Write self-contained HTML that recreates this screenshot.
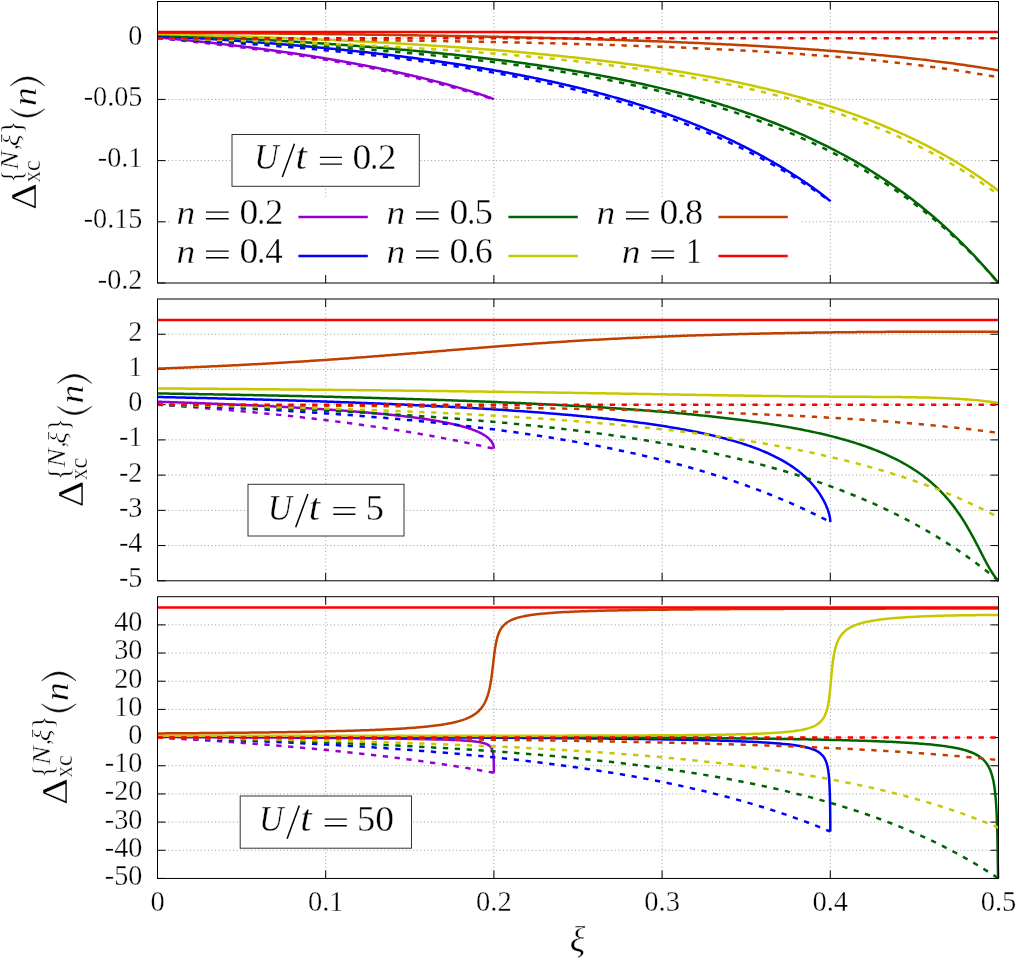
<!DOCTYPE html>
<html><head><meta charset="utf-8"><title>chart</title>
<style>html,body{margin:0;padding:0;background:#fff}svg{display:block;will-change:transform}
text{font-family:"Liberation Serif",serif;fill:#000;stroke:#fff;stroke-width:0.35px}
.it{font-style:italic}
</style></head><body>
<svg width="1016" height="959" viewBox="0 0 1016 959">
<rect width="1016" height="959" fill="#fff"/>
<g>
<path d="M325.70,1.50 V283.00 M493.90,1.50 V283.00 M662.10,1.50 V283.00 M830.30,1.50 V283.00 M157.50,38.22 H998.50 M157.50,99.41 H998.50 M157.50,160.61 H998.50 M157.50,221.80 H998.50" stroke="#9a9a9a" stroke-width="1" stroke-dasharray="1,2.6" fill="none"/>
<rect x="170" y="198" width="632" height="81" fill="#fff"/>
<path d="M325.70,283.00 v-8 M325.70,1.50 v8 M493.90,283.00 v-8 M493.90,1.50 v8 M662.10,283.00 v-8 M662.10,1.50 v8 M830.30,283.00 v-8 M830.30,1.50 v8 M157.50,38.22 h8 M998.50,38.22 h-8 M157.50,99.41 h8 M998.50,99.41 h-8 M157.50,160.61 h8 M998.50,160.61 h-8 M157.50,221.80 h8 M998.50,221.80 h-8 M157.50,283.00 h8 M998.50,283.00 h-8" stroke="#000" stroke-width="1" fill="none"/>
<clipPath id="c0"><rect x="156.00" y="0.50" width="844.00" height="284.00"/></clipPath>
<g clip-path="url(#c0)" fill="none" stroke-width="2.5" stroke-linejoin="round">
<path d="M157.50,37.39 L158.34,37.47 L159.19,37.55 L160.03,37.63 L160.87,37.71 L161.72,37.78 L162.56,37.86 L163.40,37.94 L164.24,38.02 L165.09,38.10 L165.93,38.18 L166.77,38.26 L167.62,38.34 L168.46,38.42 L169.30,38.50 L170.15,38.58 L170.99,38.66 L171.83,38.75 L172.68,38.83 L173.52,38.91 L174.36,38.99 L175.21,39.07 L176.05,39.16 L176.89,39.24 L177.73,39.32 L178.58,39.41 L179.42,39.49 L180.26,39.57 L181.11,39.66 L181.95,39.74 L182.79,39.83 L183.64,39.91 L184.48,40.00 L185.32,40.08 L186.17,40.17 L187.01,40.25 L187.85,40.34 L188.69,40.42 L189.54,40.51 L190.38,40.60 L191.22,40.68 L192.07,40.77 L192.91,40.86 L193.75,40.95 L194.60,41.03 L195.44,41.12 L196.28,41.21 L197.13,41.30 L197.97,41.39 L198.81,41.48 L199.66,41.57 L200.50,41.66 L201.34,41.75 L202.18,41.84 L203.03,41.93 L203.87,42.02 L204.71,42.11 L205.56,42.20 L206.40,42.29 L207.24,42.39 L208.09,42.48 L208.93,42.57 L209.77,42.66 L210.62,42.76 L211.46,42.85 L212.30,42.94 L213.15,43.04 L213.99,43.13 L214.83,43.23 L215.67,43.32 L216.52,43.42 L217.36,43.51 L218.20,43.61 L219.05,43.70 L219.89,43.80 L220.73,43.89 L221.58,43.99 L222.42,44.09 L223.26,44.18 L224.11,44.28 L224.95,44.38 L225.79,44.48 L226.63,44.58 L227.48,44.68 L228.32,44.77 L229.16,44.87 L230.01,44.97 L230.85,45.07 L231.69,45.17 L232.54,45.27 L233.38,45.37 L234.22,45.47 L235.07,45.58 L235.91,45.68 L236.75,45.78 L237.60,45.88 L238.44,45.98 L239.28,46.09 L240.12,46.19 L240.97,46.29 L241.81,46.40 L242.65,46.50 L243.50,46.61 L244.34,46.71 L245.18,46.82 L246.03,46.92 L246.87,47.03 L247.71,47.13 L248.56,47.24 L249.40,47.34 L250.24,47.45 L251.08,47.56 L251.93,47.67 L252.77,47.77 L253.61,47.88 L254.46,47.99 L255.30,48.10 L256.14,48.21 L256.99,48.32 L257.83,48.43 L258.67,48.54 L259.52,48.65 L260.36,48.76 L261.20,48.87 L262.05,48.98 L262.89,49.09 L263.73,49.21 L264.57,49.32 L265.42,49.43 L266.26,49.54 L267.10,49.66 L267.95,49.77 L268.79,49.89 L269.63,50.00 L270.48,50.11 L271.32,50.23 L272.16,50.35 L273.01,50.46 L273.85,50.58 L274.69,50.69 L275.54,50.81 L276.38,50.93 L277.22,51.05 L278.06,51.16 L278.91,51.28 L279.75,51.40 L280.59,51.52 L281.44,51.64 L282.28,51.76 L283.12,51.88 L283.97,52.00 L284.81,52.12 L285.65,52.24 L286.50,52.36 L287.34,52.49 L288.18,52.61 L289.02,52.73 L289.87,52.85 L290.71,52.98 L291.55,53.10 L292.40,53.23 L293.24,53.35 L294.08,53.48 L294.93,53.60 L295.77,53.73 L296.61,53.85 L297.46,53.98 L298.30,54.11 L299.14,54.23 L299.99,54.36 L300.83,54.49 L301.67,54.62 L302.51,54.75 L303.36,54.88 L304.20,55.01 L305.04,55.14 L305.89,55.27 L306.73,55.40 L307.57,55.53 L308.42,55.66 L309.26,55.79 L310.10,55.93 L310.95,56.06 L311.79,56.19 L312.63,56.33 L313.47,56.46 L314.32,56.60 L315.16,56.73 L316.00,56.87 L316.85,57.00 L317.69,57.14 L318.53,57.28 L319.38,57.41 L320.22,57.55 L321.06,57.69 L321.91,57.83 L322.75,57.97 L323.59,58.10 L324.44,58.24 L325.28,58.39 L326.12,58.53 L326.96,58.67 L327.81,58.81 L328.65,58.95 L329.49,59.09 L330.34,59.24 L331.18,59.38 L332.02,59.52 L332.87,59.67 L333.71,59.81 L334.55,59.96 L335.40,60.10 L336.24,60.25 L337.08,60.40 L337.93,60.54 L338.77,60.69 L339.61,60.84 L340.45,60.99 L341.30,61.14 L342.14,61.29 L342.98,61.44 L343.83,61.59 L344.67,61.74 L345.51,61.89 L346.36,62.04 L347.20,62.19 L348.04,62.35 L348.89,62.50 L349.73,62.65 L350.57,62.81 L351.41,62.96 L352.26,63.12 L353.10,63.27 L353.94,63.43 L354.79,63.59 L355.63,63.74 L356.47,63.90 L357.32,64.06 L358.16,64.22 L359.00,64.38 L359.85,64.54 L360.69,64.70 L361.53,64.86 L362.38,65.02 L363.22,65.18 L364.06,65.34 L364.90,65.51 L365.75,65.67 L366.59,65.84 L367.43,66.00 L368.28,66.17 L369.12,66.33 L369.96,66.50 L370.81,66.66 L371.65,66.83 L372.49,67.00 L373.34,67.17 L374.18,67.34 L375.02,67.51 L375.86,67.68 L376.71,67.85 L377.55,68.02 L378.39,68.19 L379.24,68.36 L380.08,68.54 L380.92,68.71 L381.77,68.88 L382.61,69.06 L383.45,69.23 L384.30,69.41 L385.14,69.59 L385.98,69.76 L386.83,69.94 L387.67,70.12 L388.51,70.30 L389.35,70.48 L390.20,70.66 L391.04,70.84 L391.88,71.02 L392.73,71.20 L393.57,71.38 L394.41,71.57 L395.26,71.75 L396.10,71.94 L396.94,72.12 L397.79,72.31 L398.63,72.49 L399.47,72.68 L400.32,72.87 L401.16,73.06 L402.00,73.25 L402.84,73.43 L403.69,73.63 L404.53,73.82 L405.37,74.01 L406.22,74.20 L407.06,74.39 L407.90,74.59 L408.75,74.78 L409.59,74.98 L410.43,75.17 L411.28,75.37 L412.12,75.56 L412.96,75.76 L413.80,75.96 L414.65,76.16 L415.49,76.36 L416.33,76.56 L417.18,76.76 L418.02,76.96 L418.86,77.17 L419.71,77.37 L420.39,77.54 L421.39,77.78 L422.24,77.98 L423.08,78.19 L423.92,78.40 L424.77,78.61 L425.61,78.81 L426.45,79.02 L427.29,79.23 L428.14,79.44 L428.98,79.66 L429.80,79.86 L430.67,80.08 L431.51,80.30 L432.35,80.51 L433.20,80.73 L434.04,80.94 L434.88,81.16 L435.73,81.38 L436.57,81.60 L437.41,81.82 L438.01,81.97 L439.10,82.26 L439.94,82.48 L440.78,82.70 L441.63,82.93 L442.47,83.15 L443.31,83.38 L444.16,83.60 L445.00,83.83 L445.84,84.06 L446.69,84.29 L447.53,84.52 L448.37,84.75 L449.22,84.98 L450.06,85.22 L450.90,85.45 L451.40,85.59 L452.59,85.92 L453.43,86.16 L454.27,86.39 L455.12,86.63 L455.96,86.87 L456.80,87.11 L457.65,87.36 L458.49,87.60 L459.33,87.84 L460.18,88.09 L461.02,88.33 L461.59,88.50 L462.71,88.83 L463.55,89.08 L464.39,89.33 L465.23,89.58 L465.72,89.73 L466.92,90.09 L467.76,90.34 L468.61,90.60 L469.33,90.82 L470.29,91.11 L471.14,91.37 L471.98,91.64 L472.48,91.79 L473.67,92.16 L474.51,92.43 L475.22,92.65 L476.19,92.96 L477.04,93.23 L477.61,93.42 L478.72,93.78 L479.57,94.06 L480.41,94.33 L481.25,94.61 L482.10,94.89 L482.94,95.18 L483.78,95.46 L484.48,95.70 L485.47,96.04 L486.31,96.34 L487.16,96.63 L487.66,96.81 L488.46,97.10 L489.15,97.36 L489.68,97.55 L490.29,97.78 L490.75,97.96 L491.37,98.20 L491.81,98.37 L492.31,98.58 L492.85,98.81 L493.29,99.01 L493.70,99.23 L493.90,99.41" stroke="#9400D3"/>
<path d="M157.50,38.22 L160.33,38.48 L163.15,38.75 L165.98,39.02 L168.81,39.29 L171.63,39.57 L174.46,39.85 L177.29,40.13 L180.12,40.41 L182.94,40.70 L185.77,40.99 L188.60,41.28 L191.42,41.58 L194.25,41.87 L197.08,42.18 L199.90,42.48 L202.73,42.79 L205.56,43.10 L208.38,43.41 L211.21,43.73 L214.04,44.05 L216.86,44.38 L219.69,44.70 L222.52,45.03 L225.35,45.37 L228.17,45.70 L231.00,46.05 L233.83,46.39 L236.65,46.74 L239.48,47.09 L242.31,47.44 L245.13,47.80 L247.96,48.16 L250.79,48.53 L253.61,48.90 L256.44,49.27 L259.27,49.65 L262.09,50.03 L264.92,50.41 L267.75,50.80 L270.58,51.19 L273.40,51.59 L276.23,51.99 L279.06,52.40 L281.88,52.81 L284.71,53.22 L287.54,53.64 L290.36,54.06 L293.19,54.48 L296.02,54.91 L298.84,55.35 L301.67,55.79 L304.50,56.23 L307.33,56.68 L310.15,57.13 L312.98,57.59 L315.81,58.05 L318.63,58.52 L321.46,58.99 L324.29,59.47 L327.11,59.95 L329.94,60.44 L332.77,60.93 L335.59,61.42 L338.42,61.93 L341.25,62.43 L344.07,62.94 L346.90,63.46 L349.73,63.98 L352.56,64.51 L355.38,65.05 L358.21,65.59 L361.04,66.13 L363.86,66.68 L366.69,67.24 L369.52,67.80 L372.34,68.37 L375.17,68.94 L378.00,69.52 L380.82,70.11 L383.65,70.70 L386.48,71.30 L389.31,71.90 L392.13,72.51 L394.96,73.13 L397.79,73.76 L400.61,74.39 L403.44,75.02 L406.27,75.67 L409.09,76.32 L411.92,76.98 L414.75,77.64 L417.57,78.31 L420.40,78.99 L423.23,79.68 L426.05,80.37 L428.88,81.07 L431.71,81.78 L434.54,82.49 L437.36,83.21 L440.19,83.95 L443.02,84.68 L445.84,85.43 L448.67,86.18 L451.50,86.95 L454.32,87.72 L457.15,88.49 L459.98,89.28 L462.80,90.08 L465.63,90.88 L468.46,91.69 L471.28,92.52 L474.11,93.35 L476.94,94.18 L479.77,95.03 L482.59,95.89 L485.42,96.76 L488.25,97.63 L491.07,98.52 L493.90,99.41" stroke="#9400D3" stroke-dasharray="5.3,6.6"/>
<path d="M157.50,35.82 L159.19,35.92 L160.87,36.01 L162.56,36.10 L164.24,36.20 L165.93,36.29 L167.62,36.39 L169.30,36.48 L170.99,36.58 L172.68,36.67 L174.36,36.77 L176.05,36.87 L177.73,36.97 L179.42,37.07 L181.11,37.17 L182.79,37.27 L184.48,37.37 L186.17,37.47 L187.85,37.57 L189.54,37.67 L191.22,37.77 L192.91,37.88 L194.60,37.98 L196.28,38.08 L197.97,38.19 L199.66,38.30 L201.34,38.40 L203.03,38.51 L204.71,38.62 L206.40,38.72 L208.09,38.83 L209.77,38.94 L211.46,39.05 L213.15,39.16 L214.83,39.27 L216.52,39.38 L218.20,39.50 L219.89,39.61 L221.58,39.72 L223.26,39.84 L224.95,39.95 L226.63,40.07 L228.32,40.18 L230.01,40.30 L231.69,40.42 L233.38,40.54 L235.07,40.66 L236.75,40.77 L238.44,40.89 L240.12,41.02 L241.81,41.14 L243.50,41.26 L245.18,41.38 L246.87,41.51 L248.56,41.63 L250.24,41.75 L251.93,41.88 L253.61,42.01 L255.30,42.13 L256.99,42.26 L258.67,42.39 L260.36,42.52 L262.05,42.65 L263.73,42.78 L265.42,42.91 L267.10,43.04 L268.79,43.18 L270.48,43.31 L272.16,43.45 L273.85,43.58 L275.54,43.72 L277.22,43.85 L278.91,43.99 L280.59,44.13 L282.28,44.27 L283.97,44.41 L285.65,44.55 L287.34,44.69 L289.02,44.83 L290.71,44.98 L292.40,45.12 L294.08,45.27 L295.77,45.41 L297.46,45.56 L299.14,45.71 L300.83,45.85 L302.51,46.00 L304.20,46.15 L305.89,46.30 L307.57,46.46 L309.26,46.61 L310.95,46.76 L312.63,46.92 L314.32,47.07 L316.00,47.23 L317.69,47.38 L319.38,47.54 L321.06,47.70 L322.75,47.86 L324.44,48.02 L326.12,48.18 L327.81,48.35 L329.49,48.51 L331.18,48.67 L332.87,48.84 L334.55,49.01 L336.24,49.17 L337.93,49.34 L339.61,49.51 L341.30,49.68 L342.98,49.85 L344.67,50.03 L346.36,50.20 L348.04,50.37 L349.73,50.55 L351.41,50.73 L353.10,50.90 L354.79,51.08 L356.47,51.26 L358.16,51.44 L359.85,51.62 L361.53,51.81 L363.22,51.99 L364.90,52.18 L366.59,52.36 L368.28,52.55 L369.96,52.74 L371.65,52.93 L373.34,53.12 L375.02,53.31 L376.71,53.50 L378.39,53.70 L380.08,53.89 L381.77,54.09 L383.45,54.29 L385.14,54.48 L386.83,54.68 L388.51,54.89 L390.20,55.09 L391.88,55.29 L393.57,55.50 L395.26,55.70 L396.94,55.91 L398.63,56.12 L400.32,56.33 L402.00,56.54 L403.69,56.75 L405.37,56.97 L407.06,57.18 L408.75,57.40 L410.43,57.61 L412.12,57.83 L413.80,58.05 L415.49,58.27 L417.18,58.50 L418.86,58.72 L420.55,58.95 L422.24,59.17 L423.92,59.40 L425.61,59.63 L427.29,59.86 L428.98,60.10 L430.67,60.33 L432.35,60.57 L434.04,60.80 L435.73,61.04 L437.41,61.28 L439.10,61.52 L440.78,61.77 L442.47,62.01 L444.16,62.26 L445.84,62.50 L447.53,62.75 L449.22,63.00 L450.90,63.25 L452.59,63.51 L454.27,63.76 L455.96,64.02 L457.65,64.28 L459.33,64.54 L461.02,64.80 L462.71,65.06 L464.39,65.33 L466.08,65.59 L467.76,65.86 L469.45,66.13 L471.14,66.40 L472.82,66.68 L474.51,66.95 L476.19,67.23 L477.88,67.51 L479.57,67.79 L481.25,68.07 L482.94,68.35 L484.63,68.64 L486.31,68.93 L488.00,69.22 L489.68,69.51 L491.37,69.80 L493.06,70.09 L494.74,70.39 L496.43,70.69 L498.12,70.99 L499.80,71.29 L501.49,71.60 L503.17,71.90 L504.86,72.21 L506.55,72.52 L508.23,72.84 L509.92,73.15 L511.61,73.47 L513.29,73.78 L514.98,74.11 L516.66,74.43 L518.35,74.75 L520.04,75.08 L521.72,75.41 L523.41,75.74 L525.09,76.07 L526.78,76.41 L528.47,76.75 L530.15,77.09 L531.84,77.43 L533.53,77.77 L535.21,78.12 L536.90,78.47 L538.58,78.82 L540.27,79.17 L541.96,79.53 L543.64,79.89 L545.33,80.25 L547.02,80.61 L548.70,80.97 L550.39,81.34 L552.07,81.71 L553.76,82.09 L555.45,82.46 L557.13,82.84 L558.82,83.22 L560.51,83.60 L562.19,83.99 L563.88,84.37 L565.56,84.76 L567.25,85.16 L568.94,85.55 L570.62,85.95 L572.31,86.35 L574.00,86.76 L575.68,87.16 L577.37,87.57 L579.05,87.99 L580.74,88.40 L582.43,88.82 L584.11,89.24 L585.80,89.66 L587.48,90.09 L589.17,90.52 L590.86,90.95 L592.54,91.39 L594.23,91.82 L595.92,92.27 L597.60,92.71 L599.29,93.16 L600.97,93.61 L602.66,94.06 L604.35,94.52 L606.03,94.98 L607.72,95.44 L609.41,95.91 L611.09,96.38 L612.78,96.85 L614.46,97.33 L616.15,97.81 L617.84,98.29 L619.52,98.78 L621.21,99.27 L622.90,99.76 L624.58,100.26 L626.27,100.76 L627.95,101.26 L629.64,101.77 L631.33,102.28 L633.01,102.79 L634.70,103.31 L636.39,103.83 L638.07,104.36 L639.76,104.89 L641.44,105.42 L643.13,105.96 L644.82,106.50 L646.50,107.05 L648.19,107.59 L649.87,108.15 L651.56,108.70 L653.25,109.27 L654.93,109.83 L656.62,110.40 L658.31,110.97 L659.99,111.55 L661.68,112.13 L663.36,112.72 L665.05,113.31 L666.74,113.90 L668.42,114.50 L670.11,115.10 L671.80,115.71 L673.48,116.32 L675.17,116.94 L676.85,117.56 L678.54,118.19 L680.23,118.82 L681.91,119.45 L683.60,120.09 L685.29,120.74 L686.97,121.39 L688.66,122.04 L690.34,122.70 L692.03,123.37 L693.72,124.04 L695.40,124.71 L697.09,125.39 L698.78,126.08 L700.46,126.77 L702.15,127.46 L703.83,128.16 L705.52,128.87 L707.21,129.58 L708.89,130.30 L710.58,131.02 L712.26,131.75 L713.95,132.48 L715.64,133.22 L717.32,133.96 L719.01,134.71 L720.70,135.47 L722.38,136.23 L724.07,137.00 L725.75,137.78 L727.44,138.56 L729.13,139.34 L730.81,140.13 L732.50,140.93 L734.19,141.74 L735.87,142.55 L737.56,143.37 L739.24,144.19 L740.93,145.02 L742.62,145.86 L744.30,146.70 L745.99,147.56 L747.68,148.41 L749.36,149.28 L751.05,150.15 L752.73,151.03 L754.42,151.91 L756.11,152.81 L756.79,153.17 L757.79,153.71 L759.48,154.61 L761.17,155.53 L762.85,156.45 L764.54,157.38 L766.20,158.31 L767.91,159.26 L769.60,160.22 L771.28,161.18 L772.97,162.15 L774.41,162.98 L776.34,164.11 L778.03,165.10 L779.71,166.11 L781.40,167.12 L783.09,168.14 L784.77,169.16 L786.46,170.20 L787.80,171.03 L789.83,172.30 L791.52,173.36 L793.20,174.44 L794.89,175.52 L796.58,176.61 L797.99,177.54 L799.95,178.83 L801.63,179.95 L802.12,180.28 L803.32,181.08 L805.01,182.23 L805.73,182.72 L806.69,183.38 L808.38,184.55 L808.88,184.89 L810.07,185.72 L811.62,186.82 L813.44,188.11 L814.01,188.52 L815.12,189.33 L816.10,190.03 L816.81,190.55 L817.91,191.37 L818.50,191.80 L819.50,192.54 L820.18,193.06 L820.88,193.58 L821.87,194.33 L823.14,195.31 L823.56,195.63 L824.06,196.02 L824.86,196.64 L825.24,196.95 L826.16,197.68 L826.69,198.11 L827.15,198.49 L827.56,198.82 L827.91,199.11 L828.48,199.60 L828.92,199.97 L829.25,200.27 L829.60,200.60 L829.95,200.93 L830.23,201.26 L830.30,201.41" stroke="#0000FF"/>
<path d="M157.50,38.22 L163.15,38.52 L168.81,38.82 L174.46,39.13 L180.12,39.45 L185.77,39.78 L191.42,40.11 L197.08,40.44 L202.73,40.79 L208.38,41.14 L214.04,41.50 L219.69,41.87 L225.35,42.24 L231.00,42.62 L236.65,43.01 L242.31,43.41 L247.96,43.81 L253.61,44.23 L259.27,44.65 L264.92,45.08 L270.58,45.52 L276.23,45.97 L281.88,46.42 L287.54,46.89 L293.19,47.37 L298.84,47.85 L304.50,48.35 L310.15,48.86 L315.81,49.37 L321.46,49.90 L327.11,50.44 L332.77,50.99 L338.42,51.55 L344.07,52.13 L349.73,52.71 L355.38,53.31 L361.04,53.92 L366.69,54.54 L372.34,55.18 L378.00,55.83 L383.65,56.49 L389.31,57.17 L394.96,57.86 L400.61,58.56 L406.27,59.28 L411.92,60.02 L417.57,60.77 L423.23,61.54 L428.88,62.32 L434.54,63.12 L440.19,63.94 L445.84,64.77 L451.50,65.63 L457.15,66.50 L462.80,67.39 L468.46,68.30 L474.11,69.23 L479.77,70.18 L485.42,71.15 L491.07,72.14 L496.73,73.15 L502.38,74.18 L508.03,75.24 L513.69,76.32 L519.34,77.43 L525.00,78.55 L530.65,79.71 L536.30,80.89 L541.96,82.09 L547.61,83.32 L553.26,84.58 L558.92,85.87 L564.57,87.19 L570.23,88.54 L575.88,89.91 L581.53,91.32 L587.19,92.76 L592.84,94.23 L598.49,95.74 L604.15,97.28 L609.80,98.86 L615.46,100.47 L621.11,102.12 L626.76,103.81 L632.42,105.54 L638.07,107.30 L643.73,109.11 L649.38,110.97 L655.03,112.86 L660.69,114.80 L666.34,116.79 L671.99,118.82 L677.65,120.90 L683.30,123.03 L688.96,125.21 L694.61,127.45 L700.26,129.73 L705.92,132.08 L711.57,134.48 L717.22,136.94 L722.88,139.46 L728.53,142.04 L734.19,144.68 L739.84,147.40 L745.49,150.17 L751.15,153.02 L756.80,155.94 L762.45,158.93 L768.11,162.00 L773.76,165.14 L779.42,168.37 L785.07,171.68 L790.72,175.07 L796.38,178.55 L802.03,182.12 L807.68,185.78 L813.34,189.53 L818.99,193.39 L824.65,197.35 L830.30,201.41" stroke="#0000FF" stroke-dasharray="5.3,6.6"/>
<path d="M157.50,34.93 L159.61,35.01 L161.72,35.09 L163.82,35.18 L165.93,35.26 L168.04,35.34 L170.15,35.43 L172.25,35.52 L174.36,35.60 L176.47,35.69 L178.58,35.78 L180.69,35.87 L182.79,35.96 L184.90,36.05 L187.01,36.14 L189.12,36.23 L191.22,36.32 L193.33,36.41 L195.44,36.50 L197.55,36.60 L199.66,36.69 L201.76,36.79 L203.87,36.88 L205.98,36.98 L208.09,37.08 L210.19,37.17 L212.30,37.27 L214.41,37.37 L216.52,37.47 L218.63,37.57 L220.73,37.67 L222.84,37.77 L224.95,37.87 L227.06,37.98 L229.16,38.08 L231.27,38.19 L233.38,38.29 L235.49,38.40 L237.60,38.50 L239.70,38.61 L241.81,38.72 L243.92,38.83 L246.03,38.94 L248.13,39.05 L250.24,39.16 L252.35,39.27 L254.46,39.39 L256.57,39.50 L258.67,39.61 L260.78,39.73 L262.89,39.84 L265.00,39.96 L267.10,40.08 L269.21,40.20 L271.32,40.32 L273.43,40.44 L275.54,40.56 L277.64,40.68 L279.75,40.80 L281.86,40.93 L283.97,41.05 L286.07,41.18 L288.18,41.30 L290.29,41.43 L292.40,41.56 L294.51,41.69 L296.61,41.82 L298.72,41.95 L300.83,42.08 L302.94,42.21 L305.04,42.35 L307.15,42.48 L309.26,42.62 L311.37,42.75 L313.47,42.89 L315.58,43.03 L317.69,43.17 L319.80,43.31 L321.91,43.45 L324.01,43.59 L326.12,43.74 L328.23,43.88 L330.34,44.03 L332.44,44.17 L334.55,44.32 L336.66,44.47 L338.77,44.62 L340.88,44.77 L342.98,44.92 L345.09,45.08 L347.20,45.23 L349.31,45.39 L351.41,45.54 L353.52,45.70 L355.63,45.86 L357.74,46.02 L359.85,46.18 L361.95,46.34 L364.06,46.51 L366.17,46.67 L368.28,46.84 L370.38,47.00 L372.49,47.17 L374.60,47.34 L376.71,47.51 L378.82,47.69 L380.92,47.86 L383.03,48.03 L385.14,48.21 L387.25,48.39 L389.35,48.57 L391.46,48.74 L393.57,48.93 L395.68,49.11 L397.79,49.29 L399.89,49.48 L402.00,49.66 L404.11,49.85 L406.22,50.04 L408.32,50.23 L410.43,50.42 L412.54,50.62 L414.65,50.81 L416.76,51.01 L418.86,51.21 L420.97,51.41 L423.08,51.61 L425.19,51.81 L427.29,52.02 L429.40,52.22 L431.51,52.43 L433.62,52.64 L435.73,52.85 L437.83,53.06 L439.94,53.27 L442.05,53.49 L444.16,53.70 L446.26,53.92 L448.37,54.14 L450.48,54.36 L452.59,54.59 L454.70,54.81 L456.80,55.04 L458.91,55.27 L461.02,55.50 L463.13,55.73 L465.23,55.96 L467.34,56.20 L469.45,56.44 L471.56,56.68 L473.67,56.92 L475.77,57.16 L477.88,57.41 L479.99,57.65 L482.10,57.90 L484.20,58.15 L486.31,58.40 L488.42,58.66 L490.53,58.91 L492.64,59.17 L494.74,59.43 L496.85,59.70 L498.96,59.96 L501.07,60.23 L503.17,60.50 L505.28,60.77 L507.39,61.04 L509.50,61.32 L511.61,61.59 L513.71,61.87 L515.82,62.15 L517.93,62.44 L520.04,62.72 L522.14,63.01 L524.25,63.30 L526.36,63.60 L528.47,63.89 L530.58,64.19 L532.68,64.49 L534.79,64.79 L536.90,65.10 L539.01,65.40 L541.11,65.71 L543.22,66.03 L545.33,66.34 L547.44,66.66 L549.55,66.98 L551.65,67.30 L553.76,67.63 L555.87,67.95 L557.98,68.28 L560.08,68.62 L562.19,68.95 L564.30,69.29 L566.41,69.63 L568.52,69.98 L570.62,70.32 L572.73,70.67 L574.84,71.03 L576.95,71.38 L579.05,71.74 L581.16,72.10 L583.27,72.47 L585.38,72.83 L587.48,73.21 L589.59,73.58 L591.70,73.96 L593.81,74.34 L595.92,74.72 L598.02,75.10 L600.13,75.49 L602.24,75.89 L604.35,76.28 L606.45,76.68 L608.56,77.09 L610.67,77.49 L612.78,77.90 L614.89,78.31 L616.99,78.73 L619.10,79.15 L621.21,79.57 L623.32,80.00 L625.42,80.43 L627.53,80.87 L629.64,81.31 L631.75,81.75 L633.86,82.19 L635.96,82.64 L638.07,83.10 L640.18,83.55 L642.29,84.02 L644.39,84.48 L646.50,84.95 L648.61,85.42 L650.72,85.90 L652.83,86.38 L654.93,86.87 L657.04,87.36 L659.15,87.85 L661.26,88.35 L663.36,88.86 L665.47,89.37 L667.58,89.88 L669.69,90.39 L671.80,90.92 L673.90,91.44 L676.01,91.97 L678.12,92.51 L680.23,93.05 L682.33,93.59 L684.44,94.14 L686.55,94.70 L688.66,95.26 L690.77,95.82 L692.87,96.39 L694.98,96.97 L697.09,97.55 L699.20,98.13 L701.30,98.73 L703.41,99.32 L705.52,99.92 L707.63,100.53 L709.74,101.14 L711.84,101.76 L713.95,102.39 L716.06,103.02 L718.17,103.65 L720.27,104.30 L722.38,104.94 L724.49,105.60 L726.60,106.26 L728.71,106.92 L730.81,107.59 L732.92,108.27 L735.03,108.96 L737.14,109.65 L739.24,110.35 L741.35,111.05 L743.46,111.76 L745.57,112.48 L747.68,113.20 L749.78,113.94 L751.89,114.68 L754.00,115.42 L756.11,116.17 L758.21,116.93 L760.32,117.70 L762.43,118.48 L764.54,119.26 L766.65,120.05 L768.75,120.84 L770.86,121.65 L772.97,122.46 L775.08,123.28 L777.18,124.11 L779.29,124.95 L781.40,125.79 L783.51,126.65 L785.62,127.51 L787.72,128.38 L789.83,129.26 L791.94,130.15 L794.05,131.04 L796.15,131.95 L798.26,132.86 L800.37,133.79 L802.48,134.72 L804.59,135.66 L806.69,136.62 L808.80,137.58 L810.91,138.55 L813.02,139.53 L815.12,140.52 L817.23,141.52 L819.34,142.53 L821.45,143.56 L823.56,144.59 L825.66,145.63 L827.77,146.68 L829.88,147.75 L831.99,148.82 L834.09,149.91 L836.20,151.01 L838.31,152.12 L840.42,153.24 L842.53,154.37 L844.63,155.51 L846.74,156.67 L848.85,157.84 L850.96,159.02 L853.06,160.21 L855.17,161.42 L857.28,162.64 L859.39,163.87 L861.49,165.11 L863.60,166.37 L865.71,167.64 L867.82,168.93 L869.93,170.22 L872.03,171.54 L874.14,172.86 L876.25,174.20 L878.36,175.56 L880.46,176.93 L882.57,178.31 L884.68,179.71 L886.79,181.13 L888.90,182.56 L891.00,184.00 L893.11,185.46 L895.22,186.94 L897.33,188.44 L899.43,189.94 L901.54,191.47 L903.65,193.01 L905.76,194.57 L907.87,196.15 L909.97,197.75 L912.08,199.36 L914.19,200.99 L916.30,202.64 L918.40,204.30 L920.51,205.99 L922.62,207.69 L924.73,209.41 L926.84,211.16 L928.94,212.92 L931.05,214.70 L933.16,216.50 L934.40,217.57 L935.27,218.32 L937.37,220.16 L939.48,222.02 L941.59,223.90 L942.61,224.81 L943.70,225.80 L945.81,227.72 L947.91,229.67 L949.76,231.39 L952.13,233.62 L954.24,235.63 L956.00,237.33 L956.34,237.66 L958.45,239.71 L960.56,241.79 L961.44,242.66 L962.67,243.89 L964.78,246.01 L966.19,247.44 L966.88,248.15 L968.99,250.32 L970.32,251.70 L971.10,252.50 L973.21,254.72 L973.93,255.48 L975.31,256.95 L977.08,258.84 L977.42,259.21 L979.53,261.49 L979.82,261.81 L981.64,263.80 L982.21,264.43 L983.75,266.12 L984.30,266.73 L985.85,268.47 L987.70,270.55 L989.08,272.12 L990.07,273.24 L991.34,274.69 L992.18,275.65 L993.06,276.67 L993.75,277.47 L994.28,278.09 L994.89,278.79 L995.35,279.33 L995.76,279.80 L996.11,280.21 L996.39,280.54 L996.68,280.87 L997.12,281.38 L997.45,281.77 L997.80,282.19 L998.10,282.53 L998.38,282.86 L998.50,283.00" stroke="#006400"/>
<path d="M157.50,38.22 L164.57,38.48 L171.63,38.74 L178.70,39.02 L185.77,39.30 L192.84,39.59 L199.90,39.88 L206.97,40.19 L214.04,40.50 L221.11,40.82 L228.17,41.14 L235.24,41.48 L242.31,41.82 L249.37,42.17 L256.44,42.54 L263.51,42.91 L270.58,43.29 L277.64,43.68 L284.71,44.08 L291.78,44.49 L298.84,44.91 L305.91,45.34 L312.98,45.78 L320.05,46.24 L327.11,46.71 L334.18,47.18 L341.25,47.68 L348.32,48.18 L355.38,48.70 L362.45,49.23 L369.52,49.77 L376.58,50.33 L383.65,50.91 L390.72,51.50 L397.79,52.10 L404.85,52.72 L411.92,53.36 L418.99,54.01 L426.05,54.68 L433.12,55.37 L440.19,56.08 L447.26,56.81 L454.32,57.55 L461.39,58.32 L468.46,59.11 L475.53,59.92 L482.59,60.75 L489.66,61.60 L496.73,62.48 L503.79,63.38 L510.86,64.30 L517.93,65.25 L525.00,66.23 L532.06,67.23 L539.13,68.27 L546.20,69.33 L553.26,70.42 L560.33,71.54 L567.40,72.69 L574.47,73.88 L581.53,75.10 L588.60,76.35 L595.67,77.64 L602.74,78.96 L609.80,80.33 L616.87,81.73 L623.94,83.18 L631.00,84.66 L638.07,86.19 L645.14,87.77 L652.21,89.39 L659.27,91.06 L666.34,92.78 L673.41,94.55 L680.47,96.37 L687.54,98.25 L694.61,100.18 L701.68,102.17 L708.74,104.23 L715.81,106.34 L722.88,108.52 L729.95,110.77 L737.01,113.09 L744.08,115.48 L751.15,117.94 L758.21,120.48 L765.28,123.10 L772.35,125.81 L779.42,128.60 L786.48,131.48 L793.55,134.45 L800.62,137.52 L807.68,140.69 L814.75,143.96 L821.82,147.34 L828.89,150.83 L835.95,154.44 L843.02,158.16 L850.09,162.02 L857.16,166.00 L864.22,170.12 L871.29,174.37 L878.36,178.78 L885.42,183.33 L892.49,188.05 L899.56,192.92 L906.63,197.97 L913.69,203.20 L920.76,208.62 L927.83,214.23 L934.89,220.04 L941.96,226.06 L949.03,232.30 L956.10,238.77 L963.16,245.48 L970.23,252.44 L977.30,259.66 L984.37,267.15 L991.43,274.93 L998.50,283.00" stroke="#006400" stroke-dasharray="5.3,6.6"/>
<path d="M157.50,34.05 L159.61,34.10 L161.72,34.16 L163.82,34.21 L165.93,34.27 L168.04,34.32 L170.15,34.38 L172.25,34.43 L174.36,34.49 L176.47,34.55 L178.58,34.61 L180.69,34.67 L182.79,34.72 L184.90,34.78 L187.01,34.84 L189.12,34.90 L191.22,34.96 L193.33,35.02 L195.44,35.08 L197.55,35.15 L199.66,35.21 L201.76,35.27 L203.87,35.33 L205.98,35.40 L208.09,35.46 L210.19,35.52 L212.30,35.59 L214.41,35.65 L216.52,35.72 L218.63,35.78 L220.73,35.85 L222.84,35.92 L224.95,35.98 L227.06,36.05 L229.16,36.12 L231.27,36.19 L233.38,36.26 L235.49,36.33 L237.60,36.40 L239.70,36.47 L241.81,36.54 L243.92,36.61 L246.03,36.68 L248.13,36.76 L250.24,36.83 L252.35,36.90 L254.46,36.98 L256.57,37.05 L258.67,37.13 L260.78,37.20 L262.89,37.28 L265.00,37.35 L267.10,37.43 L269.21,37.51 L271.32,37.59 L273.43,37.67 L275.54,37.75 L277.64,37.83 L279.75,37.91 L281.86,37.99 L283.97,38.07 L286.07,38.15 L288.18,38.23 L290.29,38.32 L292.40,38.40 L294.51,38.49 L296.61,38.57 L298.72,38.66 L300.83,38.74 L302.94,38.83 L305.04,38.92 L307.15,39.01 L309.26,39.10 L311.37,39.19 L313.47,39.28 L315.58,39.37 L317.69,39.46 L319.80,39.55 L321.91,39.64 L324.01,39.74 L326.12,39.83 L328.23,39.93 L330.34,40.02 L332.44,40.12 L334.55,40.21 L336.66,40.31 L338.77,40.41 L340.88,40.51 L342.98,40.61 L345.09,40.71 L347.20,40.81 L349.31,40.91 L351.41,41.01 L353.52,41.12 L355.63,41.22 L357.74,41.32 L359.85,41.43 L361.95,41.54 L364.06,41.64 L366.17,41.75 L368.28,41.86 L370.38,41.97 L372.49,42.08 L374.60,42.19 L376.71,42.30 L378.82,42.41 L380.92,42.53 L383.03,42.64 L385.14,42.76 L387.25,42.87 L389.35,42.99 L391.46,43.11 L393.57,43.23 L395.68,43.35 L397.79,43.47 L399.89,43.59 L402.00,43.71 L404.11,43.83 L406.22,43.95 L408.32,44.08 L410.43,44.20 L412.54,44.33 L414.65,44.46 L416.76,44.59 L418.86,44.72 L420.97,44.85 L423.08,44.98 L425.19,45.11 L427.29,45.24 L429.40,45.38 L431.51,45.51 L433.62,45.65 L435.73,45.79 L437.83,45.92 L439.94,46.06 L442.05,46.20 L444.16,46.34 L446.26,46.49 L448.37,46.63 L450.48,46.78 L452.59,46.92 L454.70,47.07 L456.80,47.22 L458.91,47.36 L461.02,47.51 L463.13,47.67 L465.23,47.82 L467.34,47.97 L469.45,48.13 L471.56,48.28 L473.67,48.44 L475.77,48.60 L477.88,48.76 L479.99,48.92 L482.10,49.08 L484.20,49.24 L486.31,49.41 L488.42,49.57 L490.53,49.74 L492.64,49.91 L494.74,50.08 L496.85,50.25 L498.96,50.42 L501.07,50.59 L503.17,50.77 L505.28,50.94 L507.39,51.12 L509.50,51.30 L511.61,51.48 L513.71,51.66 L515.82,51.84 L517.93,52.03 L520.04,52.21 L522.14,52.40 L524.25,52.59 L526.36,52.78 L528.47,52.97 L530.58,53.16 L532.68,53.36 L534.79,53.55 L536.90,53.75 L539.01,53.95 L541.11,54.15 L543.22,54.35 L545.33,54.56 L547.44,54.76 L549.55,54.97 L551.65,55.18 L553.76,55.39 L555.87,55.60 L557.98,55.82 L560.08,56.03 L562.19,56.25 L564.30,56.47 L566.41,56.69 L568.52,56.91 L570.62,57.14 L572.73,57.36 L574.84,57.59 L576.95,57.82 L579.05,58.05 L581.16,58.29 L583.27,58.52 L585.38,58.76 L587.48,59.00 L589.59,59.24 L591.70,59.48 L593.81,59.73 L595.92,59.97 L598.02,60.22 L600.13,60.47 L602.24,60.73 L604.35,60.98 L606.45,61.24 L608.56,61.50 L610.67,61.76 L612.78,62.03 L614.89,62.29 L616.99,62.56 L619.10,62.83 L621.21,63.10 L623.32,63.38 L625.42,63.66 L627.53,63.93 L629.64,64.22 L631.75,64.50 L633.86,64.79 L635.96,65.08 L638.07,65.37 L640.18,65.66 L642.29,65.96 L644.39,66.26 L646.50,66.56 L648.61,66.86 L650.72,67.17 L652.83,67.48 L654.93,67.79 L657.04,68.10 L659.15,68.42 L661.26,68.74 L663.36,69.06 L665.47,69.39 L667.58,69.72 L669.69,70.05 L671.80,70.38 L673.90,70.72 L676.01,71.06 L678.12,71.40 L680.23,71.75 L682.33,72.09 L684.44,72.45 L686.55,72.80 L688.66,73.16 L690.77,73.52 L692.87,73.88 L694.98,74.25 L697.09,74.62 L699.20,74.99 L701.30,75.37 L703.41,75.75 L705.52,76.13 L707.63,76.52 L709.74,76.91 L711.84,77.31 L713.95,77.70 L716.06,78.10 L718.17,78.51 L720.27,78.92 L722.38,79.33 L724.49,79.75 L726.60,80.16 L728.71,80.59 L730.81,81.01 L732.92,81.45 L735.03,81.88 L737.14,82.32 L739.24,82.76 L741.35,83.21 L743.46,83.66 L745.57,84.11 L747.68,84.57 L749.78,85.04 L751.89,85.50 L754.00,85.98 L756.11,86.45 L756.79,86.61 L758.21,86.93 L760.32,87.42 L762.43,87.91 L764.54,88.40 L766.20,88.80 L768.75,89.41 L770.86,89.91 L772.97,90.43 L774.41,90.78 L775.08,90.95 L777.18,91.47 L779.29,92.00 L781.40,92.53 L783.51,93.07 L785.62,93.61 L787.72,94.16 L789.83,94.71 L791.94,95.27 L793.24,95.62 L794.05,95.84 L796.15,96.40 L797.99,96.90 L800.37,97.56 L802.12,98.05 L804.59,98.74 L805.73,99.06 L806.69,99.34 L808.80,99.94 L810.91,100.55 L811.62,100.76 L813.02,101.17 L814.01,101.46 L815.12,101.79 L816.10,102.08 L817.23,102.41 L817.91,102.62 L819.34,103.05 L820.88,103.52 L821.45,103.69 L822.09,103.88 L823.14,104.21 L824.06,104.49 L824.86,104.74 L825.55,104.95 L826.16,105.14 L826.69,105.31 L827.15,105.45 L827.77,105.65 L828.48,105.87 L829.09,106.06 L829.60,106.23 L830.07,106.37 L830.53,106.52 L831.00,106.67 L831.51,106.83 L831.99,106.99 L832.69,107.21 L833.45,107.46 L833.91,107.61 L834.44,107.78 L835.05,107.98 L835.74,108.20 L836.20,108.35 L837.46,108.76 L838.31,109.04 L839.72,109.51 L840.42,109.75 L841.10,109.97 L842.53,110.45 L844.50,111.12 L846.59,111.84 L848.85,112.62 L850.96,113.35 L851.72,113.62 L853.06,114.10 L854.87,114.74 L857.28,115.61 L858.48,116.04 L859.39,116.38 L861.49,117.15 L862.61,117.56 L863.60,117.93 L865.71,118.72 L867.36,119.35 L867.82,119.52 L869.93,120.33 L872.03,121.15 L872.80,121.45 L874.14,121.97 L876.25,122.81 L878.36,123.65 L879.04,123.92 L880.46,124.50 L882.57,125.36 L884.68,126.23 L886.19,126.86 L886.79,127.11 L888.90,128.00 L891.00,128.89 L893.11,129.80 L894.40,130.36 L895.22,130.72 L897.33,131.64 L899.43,132.58 L901.54,133.53 L903.65,134.48 L905.76,135.45 L907.87,136.43 L909.97,137.42 L912.08,138.42 L914.19,139.43 L914.60,139.63 L916.30,140.45 L918.40,141.48 L920.51,142.53 L922.62,143.58 L924.73,144.65 L926.84,145.73 L928.94,146.82 L931.05,147.93 L933.16,149.04 L935.27,150.17 L937.37,151.31 L939.48,152.47 L941.59,153.64 L943.70,154.82 L945.81,156.01 L947.91,157.22 L950.02,158.44 L952.13,159.68 L954.24,160.93 L956.34,162.20 L958.45,163.48 L960.56,164.77 L962.67,166.08 L964.78,167.41 L966.88,168.75 L968.99,170.10 L971.10,171.48 L973.21,172.86 L975.31,174.27 L977.42,175.69 L979.53,177.13 L981.64,178.59 L983.75,180.06 L985.85,181.55 L987.96,183.06 L990.07,184.59 L992.18,186.13 L994.28,187.70 L996.39,189.28 L998.50,190.89" stroke="#C8C800"/>
<path d="M157.50,38.22 L164.57,38.38 L171.63,38.55 L178.70,38.73 L185.77,38.91 L192.84,39.09 L199.90,39.28 L206.97,39.48 L214.04,39.68 L221.11,39.88 L228.17,40.09 L235.24,40.30 L242.31,40.52 L249.37,40.75 L256.44,40.98 L263.51,41.22 L270.58,41.46 L277.64,41.71 L284.71,41.97 L291.78,42.23 L298.84,42.50 L305.91,42.78 L312.98,43.06 L320.05,43.35 L327.11,43.65 L334.18,43.96 L341.25,44.27 L348.32,44.59 L355.38,44.92 L362.45,45.26 L369.52,45.61 L376.58,45.97 L383.65,46.34 L390.72,46.72 L397.79,47.10 L404.85,47.50 L411.92,47.91 L418.99,48.33 L426.05,48.76 L433.12,49.20 L440.19,49.65 L447.26,50.11 L454.32,50.59 L461.39,51.08 L468.46,51.59 L475.53,52.10 L482.59,52.64 L489.66,53.18 L496.73,53.74 L503.79,54.32 L510.86,54.91 L517.93,55.52 L525.00,56.14 L532.06,56.79 L539.13,57.45 L546.20,58.13 L553.26,58.83 L560.33,59.54 L567.40,60.28 L574.47,61.04 L581.53,61.82 L588.60,62.62 L595.67,63.45 L602.74,64.30 L609.80,65.17 L616.87,66.07 L623.94,66.99 L631.00,67.94 L638.07,68.92 L645.14,69.93 L652.21,70.97 L659.27,72.04 L666.34,73.14 L673.41,74.27 L680.47,75.44 L687.54,76.64 L694.61,77.87 L701.68,79.15 L708.74,80.46 L715.81,81.82 L722.88,83.21 L729.95,84.65 L737.01,86.13 L744.08,87.66 L751.15,89.24 L758.21,90.87 L765.28,92.55 L772.35,94.28 L779.42,96.06 L786.48,97.91 L793.55,99.81 L800.62,101.77 L807.68,103.80 L814.75,105.89 L821.82,108.06 L828.89,110.29 L835.95,112.60 L843.02,114.98 L850.09,117.45 L857.16,120.00 L864.22,122.63 L871.29,125.36 L878.36,128.18 L885.42,131.09 L892.49,134.11 L899.56,137.23 L906.63,140.46 L913.69,143.81 L920.76,147.27 L927.83,150.86 L934.89,154.58 L941.96,158.43 L949.03,162.43 L956.10,166.57 L963.16,170.86 L970.23,175.32 L977.30,179.94 L984.37,184.73 L991.43,189.71 L998.50,194.88" stroke="#C8C800" stroke-dasharray="5.3,6.6"/>
<path d="M157.50,32.64 L159.61,32.65 L161.72,32.67 L163.82,32.68 L165.93,32.70 L168.04,32.71 L170.15,32.72 L172.25,32.74 L174.36,32.75 L176.47,32.77 L178.58,32.78 L180.69,32.80 L182.79,32.81 L184.90,32.83 L187.01,32.85 L189.12,32.86 L191.22,32.88 L193.33,32.89 L195.44,32.91 L197.55,32.92 L199.66,32.94 L201.76,32.96 L203.87,32.97 L205.98,32.99 L208.09,33.01 L210.19,33.02 L212.30,33.04 L214.41,33.06 L216.52,33.07 L218.63,33.09 L220.73,33.11 L222.84,33.13 L224.95,33.14 L227.06,33.16 L229.16,33.18 L231.27,33.20 L233.38,33.21 L235.49,33.23 L237.60,33.25 L239.70,33.27 L241.81,33.29 L243.92,33.31 L246.03,33.32 L248.13,33.34 L250.24,33.36 L252.35,33.38 L254.46,33.40 L256.57,33.42 L258.67,33.44 L260.78,33.46 L262.89,33.48 L265.00,33.50 L267.10,33.52 L269.21,33.54 L271.32,33.56 L273.43,33.58 L275.54,33.60 L277.64,33.62 L279.75,33.64 L281.86,33.66 L283.97,33.68 L286.07,33.71 L288.18,33.73 L290.29,33.75 L292.40,33.77 L294.51,33.79 L296.61,33.82 L298.72,33.84 L300.83,33.86 L302.94,33.88 L305.04,33.91 L307.15,33.93 L309.26,33.95 L311.37,33.97 L313.47,34.00 L315.58,34.02 L317.69,34.05 L319.80,34.07 L321.91,34.09 L324.01,34.12 L326.12,34.14 L328.23,34.17 L330.34,34.19 L332.44,34.22 L334.55,34.24 L336.66,34.27 L338.77,34.29 L340.88,34.32 L342.98,34.34 L345.09,34.37 L347.20,34.40 L349.31,34.42 L351.41,34.45 L353.52,34.48 L355.63,34.50 L357.74,34.53 L359.85,34.56 L361.95,34.58 L364.06,34.61 L366.17,34.64 L368.28,34.67 L370.38,34.70 L372.49,34.72 L374.60,34.75 L376.71,34.78 L378.82,34.81 L380.92,34.84 L383.03,34.87 L385.14,34.90 L387.25,34.93 L389.35,34.96 L391.46,34.99 L393.57,35.02 L395.68,35.05 L397.79,35.08 L399.89,35.11 L402.00,35.15 L404.11,35.18 L406.22,35.21 L408.32,35.24 L409.60,35.26 L410.43,35.27 L412.54,35.31 L414.65,35.34 L416.76,35.37 L418.86,35.41 L420.39,35.43 L423.08,35.47 L425.19,35.51 L427.29,35.54 L429.40,35.58 L431.51,35.61 L433.62,35.65 L435.73,35.68 L437.83,35.72 L439.94,35.75 L442.05,35.79 L444.16,35.83 L445.16,35.84 L446.26,35.86 L448.37,35.90 L450.48,35.94 L451.40,35.95 L452.59,35.98 L454.70,36.01 L456.80,36.05 L458.91,36.09 L461.02,36.13 L463.13,36.17 L465.23,36.21 L467.34,36.25 L469.33,36.28 L471.56,36.33 L472.48,36.34 L473.67,36.37 L475.22,36.40 L477.61,36.44 L479.70,36.48 L481.51,36.52 L483.10,36.55 L484.20,36.57 L485.69,36.60 L486.31,36.61 L487.66,36.64 L488.42,36.66 L489.15,36.67 L489.76,36.68 L490.53,36.70 L491.16,36.71 L491.81,36.73 L492.52,36.74 L493.20,36.76 L493.80,36.77 L494.43,36.78 L495.11,36.79 L495.72,36.81 L496.64,36.83 L497.51,36.84 L498.65,36.87 L499.34,36.88 L500.14,36.90 L501.06,36.92 L502.11,36.94 L503.17,36.96 L504.70,37.00 L506.29,37.03 L507.39,37.05 L508.10,37.07 L509.50,37.10 L510.19,37.12 L511.61,37.15 L512.58,37.17 L513.71,37.19 L515.32,37.23 L517.93,37.29 L520.04,37.34 L522.08,37.38 L524.25,37.43 L526.21,37.48 L528.47,37.53 L530.58,37.58 L532.68,37.63 L534.79,37.68 L536.40,37.72 L539.01,37.78 L541.11,37.83 L542.64,37.87 L543.22,37.88 L545.33,37.94 L547.44,37.99 L549.55,38.04 L551.65,38.09 L553.76,38.15 L555.87,38.20 L557.98,38.26 L560.08,38.31 L562.19,38.37 L564.30,38.42 L566.41,38.48 L567.41,38.51 L568.52,38.54 L570.62,38.59 L572.73,38.65 L574.84,38.71 L576.95,38.77 L578.20,38.80 L579.05,38.83 L581.16,38.89 L583.27,38.95 L585.38,39.01 L587.48,39.07 L589.59,39.13 L591.70,39.19 L593.81,39.25 L595.92,39.32 L598.02,39.38 L600.13,39.44 L602.24,39.51 L604.35,39.57 L606.45,39.64 L608.56,39.70 L610.67,39.77 L612.78,39.84 L614.89,39.90 L616.99,39.97 L619.10,40.04 L621.21,40.11 L623.32,40.18 L625.42,40.25 L627.53,40.32 L629.64,40.39 L631.75,40.46 L633.86,40.54 L635.96,40.61 L638.07,40.68 L640.18,40.76 L642.29,40.83 L644.39,40.91 L646.50,40.98 L648.61,41.06 L650.72,41.14 L652.83,41.22 L654.93,41.29 L657.04,41.37 L659.15,41.45 L661.26,41.53 L663.36,41.62 L665.47,41.70 L667.58,41.78 L669.69,41.86 L671.80,41.95 L673.90,42.03 L676.01,42.12 L678.12,42.20 L680.23,42.29 L682.33,42.38 L684.44,42.46 L686.55,42.55 L688.66,42.64 L690.77,42.73 L692.87,42.82 L694.98,42.92 L697.09,43.01 L699.20,43.10 L701.30,43.20 L703.41,43.29 L705.52,43.39 L707.63,43.48 L709.74,43.58 L711.84,43.68 L713.95,43.78 L716.06,43.88 L718.17,43.98 L720.27,44.08 L722.38,44.18 L724.49,44.29 L726.60,44.39 L728.71,44.50 L730.81,44.60 L732.92,44.71 L735.03,44.82 L737.14,44.93 L739.24,45.04 L741.35,45.15 L743.46,45.26 L745.57,45.37 L747.68,45.48 L749.78,45.60 L751.89,45.71 L754.00,45.83 L756.11,45.95 L758.21,46.07 L760.32,46.19 L762.43,46.31 L764.54,46.43 L766.65,46.55 L768.75,46.68 L770.86,46.80 L772.97,46.93 L775.08,47.05 L777.18,47.18 L779.29,47.31 L781.40,47.44 L783.51,47.57 L785.62,47.71 L787.72,47.84 L789.83,47.98 L791.94,48.11 L794.05,48.25 L796.15,48.39 L798.26,48.53 L800.37,48.67 L802.48,48.81 L804.59,48.96 L806.69,49.10 L808.80,49.25 L810.91,49.40 L813.02,49.55 L815.12,49.70 L817.23,49.85 L819.34,50.01 L821.45,50.16 L823.56,50.32 L825.66,50.47 L827.77,50.63 L829.88,50.79 L831.99,50.96 L834.09,51.12 L836.20,51.29 L838.31,51.45 L840.42,51.62 L842.53,51.79 L844.63,51.96 L846.74,52.14 L848.85,52.31 L850.96,52.49 L853.06,52.67 L855.17,52.85 L857.28,53.03 L859.39,53.21 L861.49,53.39 L863.60,53.58 L865.71,53.77 L867.82,53.96 L869.93,54.15 L872.03,54.35 L874.14,54.54 L876.25,54.74 L878.36,54.94 L880.46,55.14 L882.57,55.34 L884.68,55.55 L886.79,55.76 L888.90,55.97 L891.00,56.18 L893.11,56.39 L895.22,56.61 L897.33,56.83 L899.43,57.05 L901.54,57.27 L903.65,57.49 L905.76,57.72 L907.87,57.95 L909.97,58.18 L912.08,58.41 L914.19,58.65 L916.30,58.89 L918.40,59.13 L920.51,59.37 L922.62,59.62 L924.73,59.86 L926.84,60.11 L928.94,60.37 L931.05,60.62 L933.16,60.88 L935.27,61.14 L937.37,61.40 L939.48,61.67 L941.59,61.94 L943.70,62.21 L945.81,62.49 L947.91,62.76 L950.02,63.04 L952.13,63.33 L954.24,63.61 L956.34,63.90 L958.45,64.19 L960.56,64.49 L962.67,64.79 L964.78,65.09 L966.88,65.39 L968.99,65.70 L971.10,66.01 L973.21,66.33 L975.31,66.64 L977.42,66.96 L979.53,67.29 L981.64,67.62 L983.75,67.95 L985.85,68.28 L987.96,68.62 L990.07,68.96 L992.18,69.31 L994.28,69.66 L996.39,70.01 L998.50,70.37" stroke="#C04000"/>
<path d="M157.50,38.22 L164.57,38.26 L171.63,38.30 L178.70,38.35 L185.77,38.39 L192.84,38.44 L199.90,38.48 L206.97,38.53 L214.04,38.58 L221.11,38.63 L228.17,38.69 L235.24,38.74 L242.31,38.79 L249.37,38.85 L256.44,38.91 L263.51,38.97 L270.58,39.03 L277.64,39.09 L284.71,39.15 L291.78,39.22 L298.84,39.29 L305.91,39.36 L312.98,39.43 L320.05,39.50 L327.11,39.58 L334.18,39.65 L341.25,39.73 L348.32,39.81 L355.38,39.89 L362.45,39.98 L369.52,40.07 L376.58,40.16 L383.65,40.25 L390.72,40.34 L397.79,40.44 L404.85,40.54 L411.92,40.64 L418.99,40.74 L426.05,40.85 L433.12,40.96 L440.19,41.08 L447.26,41.19 L454.32,41.31 L461.39,41.43 L468.46,41.56 L475.53,41.69 L482.59,41.82 L489.66,41.96 L496.73,42.10 L503.79,42.24 L510.86,42.39 L517.93,42.54 L525.00,42.70 L532.06,42.86 L539.13,43.03 L546.20,43.19 L553.26,43.37 L560.33,43.55 L567.40,43.73 L574.47,43.92 L581.53,44.12 L588.60,44.32 L595.67,44.52 L602.74,44.74 L609.80,44.96 L616.87,45.18 L623.94,45.41 L631.00,45.65 L638.07,45.89 L645.14,46.15 L652.21,46.41 L659.27,46.67 L666.34,46.95 L673.41,47.23 L680.47,47.52 L687.54,47.82 L694.61,48.13 L701.68,48.45 L708.74,48.78 L715.81,49.12 L722.88,49.47 L729.95,49.83 L737.01,50.20 L744.08,50.58 L751.15,50.97 L758.21,51.38 L765.28,51.80 L772.35,52.23 L779.42,52.68 L786.48,53.14 L793.55,53.61 L800.62,54.11 L807.68,54.61 L814.75,55.14 L821.82,55.68 L828.89,56.24 L835.95,56.81 L843.02,57.41 L850.09,58.03 L857.16,58.66 L864.22,59.32 L871.29,60.00 L878.36,60.71 L885.42,61.44 L892.49,62.19 L899.56,62.97 L906.63,63.78 L913.69,64.61 L920.76,65.48 L927.83,66.38 L934.89,67.31 L941.96,68.27 L949.03,69.27 L956.10,70.31 L963.16,71.38 L970.23,72.49 L977.30,73.65 L984.37,74.85 L991.43,76.09 L998.50,77.38" stroke="#C04000" stroke-dasharray="5.3,6.6"/>
<path d="M157.50,32.10 L159.61,32.10 L161.72,32.10 L163.82,32.10 L165.93,32.10 L168.04,32.10 L170.15,32.10 L172.25,32.10 L174.36,32.10 L176.47,32.10 L178.58,32.10 L180.69,32.10 L182.79,32.10 L184.90,32.10 L187.01,32.10 L189.12,32.10 L191.22,32.10 L193.33,32.10 L195.44,32.10 L197.55,32.10 L199.66,32.10 L201.76,32.10 L203.87,32.10 L205.98,32.10 L208.09,32.10 L210.19,32.10 L212.30,32.10 L214.41,32.10 L216.52,32.10 L218.63,32.10 L220.73,32.10 L222.84,32.10 L224.95,32.10 L227.06,32.10 L229.16,32.10 L231.27,32.10 L233.38,32.10 L235.49,32.10 L237.60,32.10 L239.70,32.10 L241.81,32.10 L243.92,32.10 L246.03,32.10 L248.13,32.10 L250.24,32.10 L252.35,32.10 L254.46,32.10 L256.57,32.10 L258.67,32.10 L260.78,32.10 L262.89,32.10 L265.00,32.10 L267.10,32.10 L269.21,32.10 L271.32,32.10 L273.43,32.10 L275.54,32.10 L277.64,32.10 L279.75,32.10 L281.86,32.10 L283.97,32.10 L286.07,32.10 L288.18,32.10 L290.29,32.10 L292.40,32.10 L294.51,32.10 L296.61,32.10 L298.72,32.10 L300.83,32.10 L302.94,32.10 L305.04,32.10 L307.15,32.10 L309.26,32.10 L311.37,32.10 L313.47,32.10 L315.58,32.10 L317.69,32.10 L319.80,32.10 L321.91,32.10 L324.01,32.10 L326.12,32.10 L328.23,32.10 L330.34,32.10 L332.44,32.10 L334.55,32.10 L336.66,32.10 L338.77,32.10 L340.88,32.10 L342.98,32.10 L345.09,32.10 L347.20,32.10 L349.31,32.10 L351.41,32.10 L353.52,32.10 L355.63,32.10 L357.74,32.10 L359.85,32.10 L361.95,32.10 L364.06,32.10 L366.17,32.10 L368.28,32.10 L370.38,32.10 L372.49,32.10 L374.60,32.10 L376.71,32.10 L378.82,32.10 L380.92,32.10 L383.03,32.10 L385.14,32.10 L387.25,32.10 L389.35,32.10 L391.46,32.10 L393.57,32.10 L395.68,32.10 L397.79,32.10 L399.89,32.10 L402.00,32.10 L404.11,32.10 L406.22,32.10 L408.32,32.10 L410.43,32.10 L412.54,32.10 L414.65,32.10 L416.76,32.10 L418.86,32.10 L420.97,32.10 L423.08,32.10 L425.19,32.10 L427.29,32.10 L429.40,32.10 L431.51,32.10 L433.62,32.10 L435.73,32.10 L437.83,32.10 L439.94,32.10 L442.05,32.10 L444.16,32.10 L446.26,32.10 L448.37,32.10 L450.48,32.10 L452.59,32.10 L454.70,32.10 L456.80,32.10 L458.91,32.10 L461.02,32.10 L463.13,32.10 L465.23,32.10 L467.34,32.10 L469.45,32.10 L471.56,32.10 L473.67,32.10 L475.77,32.10 L477.88,32.10 L479.99,32.10 L482.10,32.10 L484.20,32.10 L486.31,32.10 L488.42,32.10 L490.53,32.10 L492.64,32.10 L494.74,32.10 L496.85,32.10 L498.96,32.10 L501.07,32.10 L503.17,32.10 L505.28,32.10 L507.39,32.10 L509.50,32.10 L511.61,32.10 L513.71,32.10 L515.82,32.10 L517.93,32.10 L520.04,32.10 L522.14,32.10 L524.25,32.10 L526.36,32.10 L528.47,32.10 L530.58,32.10 L532.68,32.10 L534.79,32.10 L536.90,32.10 L539.01,32.10 L541.11,32.10 L543.22,32.10 L545.33,32.10 L547.44,32.10 L549.55,32.10 L551.65,32.10 L553.76,32.10 L555.87,32.10 L557.98,32.10 L560.08,32.10 L562.19,32.10 L564.30,32.10 L566.41,32.10 L568.52,32.10 L570.62,32.10 L572.73,32.10 L574.84,32.10 L576.95,32.10 L579.05,32.10 L581.16,32.10 L583.27,32.10 L585.38,32.10 L587.48,32.10 L589.59,32.10 L591.70,32.10 L593.81,32.10 L595.92,32.10 L598.02,32.10 L600.13,32.10 L602.24,32.10 L604.35,32.10 L606.45,32.10 L608.56,32.10 L610.67,32.10 L612.78,32.10 L614.89,32.10 L616.99,32.10 L619.10,32.10 L621.21,32.10 L623.32,32.10 L625.42,32.10 L627.53,32.10 L629.64,32.10 L631.75,32.10 L633.86,32.10 L635.96,32.10 L638.07,32.10 L640.18,32.10 L642.29,32.10 L644.39,32.10 L646.50,32.10 L648.61,32.10 L650.72,32.10 L652.83,32.10 L654.93,32.10 L657.04,32.10 L659.15,32.10 L661.26,32.10 L663.36,32.10 L665.47,32.10 L667.58,32.10 L669.69,32.10 L671.80,32.10 L673.90,32.10 L676.01,32.10 L678.12,32.10 L680.23,32.10 L682.33,32.10 L684.44,32.10 L686.55,32.10 L688.66,32.10 L690.77,32.10 L692.87,32.10 L694.98,32.10 L697.09,32.10 L699.20,32.10 L701.30,32.10 L703.41,32.10 L705.52,32.10 L707.63,32.10 L709.74,32.10 L711.84,32.10 L713.95,32.10 L716.06,32.10 L718.17,32.10 L720.27,32.10 L722.38,32.10 L724.49,32.10 L726.60,32.10 L728.71,32.10 L730.81,32.10 L732.92,32.10 L735.03,32.10 L737.14,32.10 L739.24,32.10 L741.35,32.10 L743.46,32.10 L745.57,32.10 L747.68,32.10 L749.78,32.10 L751.89,32.10 L754.00,32.10 L756.11,32.10 L758.21,32.10 L760.32,32.10 L762.43,32.10 L764.54,32.10 L766.65,32.10 L768.75,32.10 L770.86,32.10 L772.97,32.10 L775.08,32.10 L777.18,32.10 L779.29,32.10 L781.40,32.10 L783.51,32.10 L785.62,32.10 L787.72,32.10 L789.83,32.10 L791.94,32.10 L794.05,32.10 L796.15,32.10 L798.26,32.10 L800.37,32.10 L802.48,32.10 L804.59,32.10 L806.69,32.10 L808.80,32.10 L810.91,32.10 L813.02,32.10 L815.12,32.10 L817.23,32.10 L819.34,32.10 L821.45,32.10 L823.56,32.10 L825.66,32.10 L827.77,32.10 L829.88,32.10 L831.99,32.10 L834.09,32.10 L836.20,32.10 L838.31,32.10 L840.42,32.10 L842.53,32.10 L844.63,32.10 L846.74,32.10 L848.85,32.10 L850.96,32.10 L853.06,32.10 L855.17,32.10 L857.28,32.10 L859.39,32.10 L861.49,32.10 L863.60,32.10 L865.71,32.10 L867.82,32.10 L869.93,32.10 L872.03,32.10 L874.14,32.10 L876.25,32.10 L878.36,32.10 L880.46,32.10 L882.57,32.10 L884.68,32.10 L886.79,32.10 L888.90,32.10 L891.00,32.10 L893.11,32.10 L895.22,32.10 L897.33,32.10 L899.43,32.10 L901.54,32.10 L903.65,32.10 L905.76,32.10 L907.87,32.10 L909.97,32.10 L912.08,32.10 L914.19,32.10 L916.30,32.10 L918.40,32.10 L920.51,32.10 L922.62,32.10 L924.73,32.10 L926.84,32.10 L928.94,32.10 L931.05,32.10 L933.16,32.10 L935.27,32.10 L937.37,32.10 L939.48,32.10 L941.59,32.10 L943.70,32.10 L945.81,32.10 L947.91,32.10 L950.02,32.10 L952.13,32.10 L954.24,32.10 L956.34,32.10 L958.45,32.10 L960.56,32.10 L962.67,32.10 L964.78,32.10 L966.88,32.10 L968.99,32.10 L971.10,32.10 L973.21,32.10 L975.31,32.10 L977.42,32.10 L979.53,32.10 L981.64,32.10 L983.75,32.10 L985.85,32.10 L987.96,32.10 L990.07,32.10 L992.18,32.10 L994.28,32.10 L996.39,32.10 L998.50,32.10" stroke="#FF0000"/>
<path d="M157.50,38.22 L164.57,38.22 L171.63,38.22 L178.70,38.22 L185.77,38.22 L192.84,38.22 L199.90,38.22 L206.97,38.22 L214.04,38.22 L221.11,38.22 L228.17,38.22 L235.24,38.22 L242.31,38.22 L249.37,38.22 L256.44,38.22 L263.51,38.22 L270.58,38.22 L277.64,38.22 L284.71,38.22 L291.78,38.22 L298.84,38.22 L305.91,38.22 L312.98,38.22 L320.05,38.22 L327.11,38.22 L334.18,38.22 L341.25,38.22 L348.32,38.22 L355.38,38.22 L362.45,38.22 L369.52,38.22 L376.58,38.22 L383.65,38.22 L390.72,38.22 L397.79,38.22 L404.85,38.22 L411.92,38.22 L418.99,38.22 L426.05,38.22 L433.12,38.22 L440.19,38.22 L447.26,38.22 L454.32,38.22 L461.39,38.22 L468.46,38.22 L475.53,38.22 L482.59,38.22 L489.66,38.22 L496.73,38.22 L503.79,38.22 L510.86,38.22 L517.93,38.22 L525.00,38.22 L532.06,38.22 L539.13,38.22 L546.20,38.22 L553.26,38.22 L560.33,38.22 L567.40,38.22 L574.47,38.22 L581.53,38.22 L588.60,38.22 L595.67,38.22 L602.74,38.22 L609.80,38.22 L616.87,38.22 L623.94,38.22 L631.00,38.22 L638.07,38.22 L645.14,38.22 L652.21,38.22 L659.27,38.22 L666.34,38.22 L673.41,38.22 L680.47,38.22 L687.54,38.22 L694.61,38.22 L701.68,38.22 L708.74,38.22 L715.81,38.22 L722.88,38.22 L729.95,38.22 L737.01,38.22 L744.08,38.22 L751.15,38.22 L758.21,38.22 L765.28,38.22 L772.35,38.22 L779.42,38.22 L786.48,38.22 L793.55,38.22 L800.62,38.22 L807.68,38.22 L814.75,38.22 L821.82,38.22 L828.89,38.22 L835.95,38.22 L843.02,38.22 L850.09,38.22 L857.16,38.22 L864.22,38.22 L871.29,38.22 L878.36,38.22 L885.42,38.22 L892.49,38.22 L899.56,38.22 L906.63,38.22 L913.69,38.22 L920.76,38.22 L927.83,38.22 L934.89,38.22 L941.96,38.22 L949.03,38.22 L956.10,38.22 L963.16,38.22 L970.23,38.22 L977.30,38.22 L984.37,38.22 L991.43,38.22 L998.50,38.22" stroke="#FF0000" stroke-dasharray="5.3,6.6"/>
</g>
<rect x="157.50" y="1.50" width="841.00" height="281.50" fill="none" stroke="#000" stroke-width="1"/>
<text transform="translate(142.4,44.62) scale(0.99,1)" font-size="28.5" text-anchor="end">0</text>
<text transform="translate(142.4,105.81) scale(0.99,1)" font-size="28.5" text-anchor="end">-0.05</text>
<text transform="translate(142.4,167.01) scale(0.99,1)" font-size="28.5" text-anchor="end">-0.1</text>
<text transform="translate(142.4,228.20) scale(0.99,1)" font-size="28.5" text-anchor="end">-0.15</text>
<text transform="translate(142.4,289.40) scale(0.99,1)" font-size="28.5" text-anchor="end">-0.2</text>
</g>
<g>
<path d="M325.70,299.00 V580.80 M493.90,299.00 V580.80 M662.10,299.00 V580.80 M830.30,299.00 V580.80 M157.50,334.23 H998.50 M157.50,369.45 H998.50 M157.50,404.67 H998.50 M157.50,439.90 H998.50 M157.50,475.12 H998.50 M157.50,510.35 H998.50 M157.50,545.57 H998.50" stroke="#9a9a9a" stroke-width="1" stroke-dasharray="1,2.6" fill="none"/>
<path d="M325.70,580.80 v-8 M325.70,299.00 v8 M493.90,580.80 v-8 M493.90,299.00 v8 M662.10,580.80 v-8 M662.10,299.00 v8 M830.30,580.80 v-8 M830.30,299.00 v8 M157.50,334.23 h8 M998.50,334.23 h-8 M157.50,369.45 h8 M998.50,369.45 h-8 M157.50,404.67 h8 M998.50,404.67 h-8 M157.50,439.90 h8 M998.50,439.90 h-8 M157.50,475.12 h8 M998.50,475.12 h-8 M157.50,510.35 h8 M998.50,510.35 h-8 M157.50,545.57 h8 M998.50,545.57 h-8 M157.50,580.80 h8 M998.50,580.80 h-8" stroke="#000" stroke-width="1" fill="none"/>
<clipPath id="c1"><rect x="156.00" y="298.00" width="844.00" height="284.30"/></clipPath>
<g clip-path="url(#c1)" fill="none" stroke-width="2.5" stroke-linejoin="round">
<path d="M157.50,401.71 L158.34,401.74 L159.19,401.77 L160.03,401.80 L160.87,401.82 L161.72,401.85 L162.56,401.88 L163.40,401.91 L164.24,401.93 L165.09,401.96 L165.93,401.99 L166.77,402.02 L167.62,402.05 L168.46,402.08 L169.30,402.10 L170.15,402.13 L170.99,402.16 L171.83,402.19 L172.68,402.22 L173.52,402.25 L174.36,402.28 L175.21,402.30 L176.05,402.33 L176.89,402.36 L177.73,402.39 L178.58,402.42 L179.42,402.45 L180.26,402.48 L181.11,402.51 L181.95,402.54 L182.79,402.57 L183.64,402.60 L184.48,402.63 L185.32,402.66 L186.17,402.69 L187.01,402.72 L187.85,402.75 L188.69,402.78 L189.54,402.81 L190.38,402.84 L191.22,402.87 L192.07,402.90 L192.91,402.93 L193.75,402.96 L194.60,402.99 L195.44,403.03 L196.28,403.06 L197.13,403.09 L197.97,403.12 L198.81,403.15 L199.66,403.18 L200.50,403.21 L201.34,403.25 L202.18,403.28 L203.03,403.31 L203.87,403.34 L204.71,403.37 L205.56,403.41 L206.40,403.44 L207.24,403.47 L208.09,403.50 L208.93,403.54 L209.77,403.57 L210.62,403.60 L211.46,403.64 L212.30,403.67 L213.15,403.70 L213.99,403.74 L214.83,403.77 L215.67,403.80 L216.52,403.84 L217.36,403.87 L218.20,403.90 L219.05,403.94 L219.89,403.97 L220.73,404.01 L221.58,404.04 L222.42,404.07 L223.26,404.11 L224.11,404.14 L224.95,404.18 L225.79,404.21 L226.63,404.25 L227.48,404.28 L228.32,404.32 L229.16,404.35 L230.01,404.39 L230.85,404.42 L231.69,404.46 L232.54,404.50 L233.38,404.53 L234.22,404.57 L235.07,404.60 L235.91,404.64 L236.75,404.68 L237.60,404.71 L238.44,404.75 L239.28,404.79 L240.12,404.82 L240.97,404.86 L241.81,404.90 L242.65,404.94 L243.50,404.97 L244.34,405.01 L245.18,405.05 L246.03,405.09 L246.87,405.12 L247.71,405.16 L248.56,405.20 L249.40,405.24 L250.24,405.28 L251.08,405.32 L251.93,405.35 L252.77,405.39 L253.61,405.43 L254.46,405.47 L255.30,405.51 L256.14,405.55 L256.99,405.59 L257.83,405.63 L258.67,405.67 L259.52,405.71 L260.36,405.75 L261.20,405.79 L262.05,405.83 L262.89,405.87 L263.73,405.91 L264.57,405.95 L265.42,406.00 L266.26,406.04 L267.10,406.08 L267.95,406.12 L268.79,406.16 L269.63,406.20 L270.48,406.25 L271.32,406.29 L272.16,406.33 L273.01,406.37 L273.85,406.42 L274.69,406.46 L275.54,406.50 L276.38,406.54 L277.22,406.59 L278.06,406.63 L278.91,406.68 L279.75,406.72 L280.59,406.76 L281.44,406.81 L282.28,406.85 L283.12,406.90 L283.97,406.94 L284.81,406.99 L285.65,407.03 L286.50,407.08 L287.34,407.12 L288.18,407.17 L289.02,407.21 L289.87,407.26 L290.71,407.31 L291.55,407.35 L292.40,407.40 L293.24,407.45 L294.08,407.49 L294.93,407.54 L295.77,407.59 L296.61,407.64 L297.46,407.68 L298.30,407.73 L299.14,407.78 L299.99,407.83 L300.83,407.88 L301.67,407.93 L302.51,407.98 L303.36,408.03 L304.20,408.08 L305.04,408.13 L305.89,408.18 L306.73,408.23 L307.57,408.28 L308.42,408.33 L309.26,408.38 L310.10,408.43 L310.95,408.48 L311.79,408.53 L312.63,408.58 L313.47,408.64 L314.32,408.69 L315.16,408.74 L316.00,408.79 L316.85,408.85 L317.69,408.90 L318.53,408.95 L319.38,409.01 L320.22,409.06 L321.06,409.11 L321.91,409.17 L322.75,409.22 L323.59,409.28 L324.44,409.33 L325.28,409.39 L326.12,409.45 L326.96,409.50 L327.81,409.56 L328.65,409.62 L329.49,409.67 L330.34,409.73 L331.18,409.79 L332.02,409.84 L332.87,409.90 L333.71,409.96 L334.55,410.02 L335.40,410.08 L336.24,410.14 L337.08,410.20 L337.93,410.26 L338.77,410.32 L339.61,410.38 L340.45,410.44 L341.30,410.50 L342.14,410.56 L342.98,410.62 L343.83,410.69 L344.67,410.75 L345.51,410.81 L346.36,410.87 L347.20,410.94 L348.04,411.00 L348.89,411.07 L349.73,411.13 L350.57,411.19 L351.41,411.26 L352.26,411.33 L353.10,411.39 L353.94,411.46 L354.79,411.52 L355.63,411.59 L356.47,411.66 L357.32,411.73 L358.16,411.79 L359.00,411.86 L359.85,411.93 L360.69,412.00 L361.53,412.07 L362.38,412.14 L363.22,412.21 L364.06,412.28 L364.90,412.36 L365.75,412.43 L366.59,412.50 L367.43,412.57 L368.28,412.65 L369.12,412.72 L369.96,412.79 L370.81,412.87 L371.65,412.94 L372.49,413.02 L373.34,413.10 L374.18,413.17 L375.02,413.25 L375.86,413.33 L376.71,413.40 L377.55,413.48 L378.39,413.56 L379.24,413.64 L380.08,413.72 L380.92,413.80 L381.77,413.88 L382.61,413.97 L383.45,414.05 L384.30,414.13 L385.14,414.21 L385.98,414.30 L386.83,414.38 L387.67,414.47 L388.51,414.55 L389.35,414.64 L390.20,414.73 L391.04,414.82 L391.88,414.90 L392.73,414.99 L393.57,415.08 L394.41,415.17 L395.26,415.26 L396.10,415.36 L396.94,415.45 L397.79,415.54 L398.63,415.64 L399.47,415.73 L400.32,415.83 L401.16,415.92 L402.00,416.02 L402.84,416.12 L403.69,416.22 L404.53,416.31 L405.37,416.41 L406.22,416.52 L407.06,416.62 L407.90,416.72 L408.75,416.82 L409.59,416.93 L410.43,417.03 L411.28,417.14 L412.12,417.25 L412.96,417.36 L413.80,417.46 L414.65,417.57 L415.49,417.69 L416.33,417.80 L417.18,417.91 L418.02,418.03 L418.86,418.14 L419.71,418.26 L420.39,418.35 L421.39,418.49 L422.24,418.61 L423.08,418.74 L423.92,418.86 L424.77,418.98 L425.61,419.11 L426.45,419.23 L427.29,419.36 L428.14,419.49 L428.98,419.62 L429.80,419.75 L430.67,419.88 L431.51,420.02 L432.35,420.16 L433.20,420.29 L434.04,420.43 L434.88,420.57 L435.73,420.72 L436.57,420.86 L437.41,421.01 L438.01,421.11 L439.10,421.30 L439.94,421.46 L440.78,421.61 L441.63,421.77 L442.47,421.92 L443.31,422.08 L444.16,422.24 L445.00,422.41 L445.84,422.57 L446.69,422.74 L447.53,422.91 L448.37,423.09 L449.22,423.26 L450.06,423.44 L450.90,423.63 L451.40,423.73 L452.59,424.00 L453.43,424.19 L454.27,424.38 L455.12,424.58 L455.96,424.78 L456.80,424.98 L457.65,425.19 L458.49,425.40 L459.33,425.61 L460.18,425.83 L461.02,426.06 L461.59,426.21 L462.71,426.51 L463.55,426.75 L464.39,426.99 L465.23,427.24 L465.72,427.38 L466.92,427.75 L467.76,428.01 L468.61,428.28 L469.33,428.52 L470.29,428.84 L471.14,429.13 L471.98,429.43 L472.48,429.61 L473.67,430.06 L474.51,430.38 L475.22,430.67 L476.19,431.06 L477.04,431.42 L477.61,431.67 L478.72,432.18 L479.57,432.58 L480.41,432.99 L481.25,433.42 L482.10,433.87 L482.94,434.35 L483.78,434.84 L484.48,435.28 L485.47,435.93 L486.31,436.52 L486.74,436.83 L487.16,437.15 L487.66,437.55 L488.00,437.83 L488.46,438.23 L488.84,438.58 L489.15,438.87 L489.68,439.40 L490.29,440.05 L490.75,440.59 L491.16,441.10 L491.51,441.58 L491.81,442.04 L492.08,442.46 L492.31,442.86 L492.69,443.59 L492.98,444.22 L493.20,444.79 L493.37,445.28 L493.55,445.91 L493.67,446.42 L493.77,446.97 L493.84,447.55 L493.88,448.12 L493.90,448.71" stroke="#9400D3"/>
<path d="M157.50,404.67 L160.33,404.87 L163.15,405.06 L165.98,405.25 L168.81,405.45 L171.63,405.65 L174.46,405.85 L177.29,406.05 L180.12,406.25 L182.94,406.46 L185.77,406.67 L188.60,406.88 L191.42,407.09 L194.25,407.31 L197.08,407.52 L199.90,407.74 L202.73,407.96 L205.56,408.19 L208.38,408.41 L211.21,408.64 L214.04,408.87 L216.86,409.11 L219.69,409.34 L222.52,409.58 L225.35,409.82 L228.17,410.06 L231.00,410.31 L233.83,410.55 L236.65,410.80 L239.48,411.06 L242.31,411.31 L245.13,411.57 L247.96,411.83 L250.79,412.09 L253.61,412.36 L256.44,412.63 L259.27,412.90 L262.09,413.17 L264.92,413.45 L267.75,413.73 L270.58,414.01 L273.40,414.30 L276.23,414.59 L279.06,414.88 L281.88,415.17 L284.71,415.47 L287.54,415.77 L290.36,416.07 L293.19,416.38 L296.02,416.69 L298.84,417.00 L301.67,417.32 L304.50,417.64 L307.33,417.96 L310.15,418.28 L312.98,418.61 L315.81,418.95 L318.63,419.28 L321.46,419.62 L324.29,419.96 L327.11,420.31 L329.94,420.66 L332.77,421.01 L335.59,421.37 L338.42,421.73 L341.25,422.10 L344.07,422.47 L346.90,422.84 L349.73,423.22 L352.56,423.60 L355.38,423.98 L358.21,424.37 L361.04,424.76 L363.86,425.16 L366.69,425.56 L369.52,425.96 L372.34,426.37 L375.17,426.78 L378.00,427.20 L380.82,427.62 L383.65,428.05 L386.48,428.48 L389.31,428.91 L392.13,429.35 L394.96,429.80 L397.79,430.25 L400.61,430.70 L403.44,431.16 L406.27,431.62 L409.09,432.09 L411.92,432.56 L414.75,433.04 L417.57,433.52 L420.40,434.01 L423.23,434.50 L426.05,435.00 L428.88,435.51 L431.71,436.02 L434.54,436.53 L437.36,437.05 L440.19,437.58 L443.02,438.11 L445.84,438.64 L448.67,439.19 L451.50,439.74 L454.32,440.29 L457.15,440.85 L459.98,441.42 L462.80,441.99 L465.63,442.57 L468.46,443.15 L471.28,443.74 L474.11,444.34 L476.94,444.94 L479.77,445.55 L482.59,446.17 L485.42,446.79 L488.25,447.43 L491.07,448.06 L493.90,448.71" stroke="#9400D3" stroke-dasharray="5.3,6.6"/>
<path d="M157.50,397.00 L159.19,397.04 L160.87,397.07 L162.56,397.11 L164.24,397.15 L165.93,397.18 L167.62,397.22 L169.30,397.26 L170.99,397.30 L172.68,397.33 L174.36,397.37 L176.05,397.41 L177.73,397.45 L179.42,397.49 L181.11,397.52 L182.79,397.56 L184.48,397.60 L186.17,397.64 L187.85,397.68 L189.54,397.72 L191.22,397.76 L192.91,397.80 L194.60,397.84 L196.28,397.88 L197.97,397.92 L199.66,397.96 L201.34,398.00 L203.03,398.04 L204.71,398.08 L206.40,398.12 L208.09,398.16 L209.77,398.21 L211.46,398.25 L213.15,398.29 L214.83,398.33 L216.52,398.37 L218.20,398.42 L219.89,398.46 L221.58,398.50 L223.26,398.54 L224.95,398.59 L226.63,398.63 L228.32,398.67 L230.01,398.72 L231.69,398.76 L233.38,398.81 L235.07,398.85 L236.75,398.89 L238.44,398.94 L240.12,398.98 L241.81,399.03 L243.50,399.08 L245.18,399.12 L246.87,399.17 L248.56,399.21 L250.24,399.26 L251.93,399.31 L253.61,399.35 L255.30,399.40 L256.99,399.45 L258.67,399.49 L260.36,399.54 L262.05,399.59 L263.73,399.64 L265.42,399.69 L267.10,399.73 L268.79,399.78 L270.48,399.83 L272.16,399.88 L273.85,399.93 L275.54,399.98 L277.22,400.03 L278.91,400.08 L280.59,400.13 L282.28,400.18 L283.97,400.23 L285.65,400.28 L287.34,400.34 L289.02,400.39 L290.71,400.44 L292.40,400.49 L294.08,400.54 L295.77,400.60 L297.46,400.65 L299.14,400.70 L300.83,400.76 L302.51,400.81 L304.20,400.86 L305.89,400.92 L307.57,400.97 L309.26,401.03 L310.95,401.08 L312.63,401.14 L314.32,401.19 L316.00,401.25 L317.69,401.31 L319.38,401.36 L321.06,401.42 L322.75,401.48 L324.44,401.53 L326.12,401.59 L327.81,401.65 L329.49,401.71 L331.18,401.77 L332.87,401.83 L334.55,401.89 L336.24,401.95 L337.93,402.01 L339.61,402.07 L341.30,402.13 L342.98,402.19 L344.67,402.25 L346.36,402.31 L348.04,402.37 L349.73,402.43 L351.41,402.50 L353.10,402.56 L354.79,402.62 L356.47,402.69 L358.16,402.75 L359.85,402.82 L361.53,402.88 L363.22,402.95 L364.90,403.01 L366.59,403.08 L368.28,403.14 L369.96,403.21 L371.65,403.28 L373.34,403.34 L375.02,403.41 L376.71,403.48 L378.39,403.55 L380.08,403.62 L381.77,403.69 L383.45,403.76 L385.14,403.83 L386.83,403.90 L388.51,403.97 L390.20,404.04 L391.88,404.11 L393.57,404.18 L395.26,404.25 L396.94,404.33 L398.63,404.40 L400.32,404.47 L402.00,404.55 L403.69,404.62 L405.37,404.70 L407.06,404.77 L408.75,404.85 L410.43,404.93 L412.12,405.00 L413.80,405.08 L415.49,405.16 L417.18,405.24 L418.86,405.31 L420.55,405.39 L422.24,405.47 L423.92,405.55 L425.61,405.63 L427.29,405.72 L428.98,405.80 L430.67,405.88 L432.35,405.96 L434.04,406.04 L435.73,406.13 L437.41,406.21 L439.10,406.30 L440.78,406.38 L442.47,406.47 L444.16,406.56 L445.84,406.64 L447.53,406.73 L449.22,406.82 L450.90,406.91 L452.59,407.00 L454.27,407.09 L455.96,407.18 L457.65,407.27 L459.33,407.36 L461.02,407.45 L462.71,407.54 L464.39,407.64 L466.08,407.73 L467.76,407.83 L469.45,407.92 L471.14,408.02 L472.82,408.11 L474.51,408.21 L476.19,408.31 L477.88,408.41 L479.57,408.51 L481.25,408.61 L482.94,408.71 L484.63,408.81 L486.31,408.91 L488.00,409.01 L489.68,409.12 L491.37,409.22 L493.06,409.33 L494.74,409.43 L496.43,409.54 L498.12,409.65 L499.80,409.76 L501.49,409.86 L503.17,409.97 L504.86,410.08 L506.55,410.20 L508.23,410.31 L509.92,410.42 L511.61,410.53 L513.29,410.65 L514.98,410.76 L516.66,410.88 L518.35,411.00 L520.04,411.12 L521.72,411.23 L523.41,411.35 L525.09,411.47 L526.78,411.60 L528.47,411.72 L530.15,411.84 L531.84,411.97 L533.53,412.09 L535.21,412.22 L536.90,412.35 L538.58,412.47 L540.27,412.60 L541.96,412.73 L543.64,412.87 L545.33,413.00 L547.02,413.13 L548.70,413.27 L550.39,413.40 L552.07,413.54 L553.76,413.68 L555.45,413.82 L557.13,413.96 L558.82,414.10 L560.51,414.24 L562.19,414.39 L563.88,414.53 L565.56,414.68 L567.25,414.83 L568.94,414.97 L570.62,415.12 L572.31,415.28 L574.00,415.43 L575.68,415.58 L577.37,415.74 L579.05,415.90 L580.74,416.05 L582.43,416.21 L584.11,416.37 L585.80,416.54 L587.48,416.70 L589.17,416.87 L590.86,417.03 L592.54,417.20 L594.23,417.37 L595.92,417.54 L597.60,417.72 L599.29,417.89 L600.97,418.07 L602.66,418.25 L604.35,418.43 L606.03,418.61 L607.72,418.79 L609.41,418.98 L611.09,419.17 L612.78,419.36 L614.46,419.55 L616.15,419.74 L617.84,419.93 L619.52,420.13 L621.21,420.33 L622.90,420.53 L624.58,420.73 L626.27,420.94 L627.95,421.15 L629.64,421.36 L631.33,421.57 L633.01,421.78 L634.70,422.00 L636.39,422.22 L638.07,422.44 L639.76,422.66 L641.44,422.89 L643.13,423.11 L644.82,423.34 L646.50,423.58 L648.19,423.81 L649.87,424.05 L651.56,424.29 L653.25,424.54 L654.93,424.79 L656.62,425.04 L658.31,425.29 L659.99,425.55 L661.68,425.80 L663.36,426.07 L665.05,426.33 L666.74,426.60 L668.42,426.87 L670.11,427.15 L671.80,427.43 L673.48,427.71 L675.17,428.00 L676.85,428.29 L678.54,428.58 L680.23,428.88 L681.91,429.18 L683.60,429.48 L685.29,429.79 L686.97,430.11 L688.66,430.42 L690.34,430.75 L692.03,431.07 L693.72,431.41 L695.40,431.74 L697.09,432.08 L698.78,432.43 L700.46,432.78 L702.15,433.14 L703.83,433.50 L705.52,433.86 L707.21,434.24 L708.89,434.62 L710.58,435.00 L712.26,435.39 L713.95,435.79 L715.64,436.19 L717.32,436.60 L719.01,437.02 L720.70,437.44 L722.38,437.87 L724.07,438.31 L725.75,438.75 L727.44,439.21 L729.13,439.67 L730.81,440.14 L732.50,440.62 L734.19,441.10 L735.87,441.60 L737.56,442.10 L739.24,442.62 L740.93,443.14 L742.62,443.68 L744.30,444.22 L745.99,444.78 L747.68,445.35 L749.36,445.93 L751.05,446.52 L752.73,447.13 L754.42,447.75 L756.11,448.38 L756.79,448.64 L757.79,449.02 L759.48,449.69 L761.17,450.36 L762.85,451.05 L764.54,451.76 L766.20,452.48 L767.91,453.23 L769.60,454.00 L771.28,454.78 L772.97,455.59 L774.41,456.29 L776.34,457.26 L778.03,458.13 L779.71,459.03 L781.40,459.96 L783.09,460.91 L784.77,461.89 L786.46,462.90 L787.80,463.74 L789.83,465.03 L791.52,466.15 L793.20,467.30 L794.89,468.50 L796.58,469.75 L797.99,470.82 L799.95,472.38 L801.63,473.77 L802.12,474.19 L803.32,475.23 L805.01,476.75 L805.73,477.42 L806.69,478.34 L808.38,480.01 L808.88,480.51 L810.07,481.76 L811.62,483.45 L813.44,485.54 L814.01,486.23 L815.12,487.60 L816.10,488.84 L816.81,489.79 L817.91,491.30 L818.50,492.12 L819.50,493.60 L820.18,494.64 L820.88,495.74 L821.87,497.36 L823.14,499.58 L823.56,500.34 L824.06,501.29 L824.86,502.88 L825.24,503.68 L825.55,504.34 L826.16,505.69 L826.69,506.93 L826.93,507.51 L827.15,508.08 L827.56,509.14 L827.91,510.11 L828.21,511.01 L828.48,511.83 L828.71,512.59 L828.92,513.29 L829.09,513.94 L829.25,514.54 L829.38,515.09 L829.50,515.59 L829.69,516.50 L829.84,517.27 L829.95,517.93 L830.03,518.49 L830.12,519.19 L830.18,519.75 L830.23,520.33 L830.27,520.94 L830.29,521.52 L830.30,522.09" stroke="#0000FF"/>
<path d="M157.50,404.67 L163.15,404.89 L168.81,405.11 L174.46,405.33 L180.12,405.56 L185.77,405.80 L191.42,406.03 L197.08,406.28 L202.73,406.53 L208.38,406.78 L214.04,407.04 L219.69,407.30 L225.35,407.57 L231.00,407.84 L236.65,408.12 L242.31,408.41 L247.96,408.70 L253.61,409.00 L259.27,409.30 L264.92,409.61 L270.58,409.93 L276.23,410.25 L281.88,410.58 L287.54,410.92 L293.19,411.26 L298.84,411.61 L304.50,411.97 L310.15,412.33 L315.81,412.70 L321.46,413.08 L327.11,413.47 L332.77,413.87 L338.42,414.27 L344.07,414.68 L349.73,415.10 L355.38,415.53 L361.04,415.97 L366.69,416.42 L372.34,416.88 L378.00,417.35 L383.65,417.82 L389.31,418.31 L394.96,418.81 L400.61,419.31 L406.27,419.83 L411.92,420.36 L417.57,420.90 L423.23,421.45 L428.88,422.02 L434.54,422.59 L440.19,423.18 L445.84,423.78 L451.50,424.40 L457.15,425.02 L462.80,425.66 L468.46,426.32 L474.11,426.99 L479.77,427.67 L485.42,428.37 L491.07,429.08 L496.73,429.81 L502.38,430.55 L508.03,431.31 L513.69,432.09 L519.34,432.89 L525.00,433.70 L530.65,434.53 L536.30,435.38 L541.96,436.24 L547.61,437.13 L553.26,438.04 L558.92,438.96 L564.57,439.91 L570.23,440.88 L575.88,441.87 L581.53,442.88 L587.19,443.92 L592.84,444.98 L598.49,446.06 L604.15,447.17 L609.80,448.31 L615.46,449.47 L621.11,450.66 L626.76,451.87 L632.42,453.11 L638.07,454.38 L643.73,455.69 L649.38,457.02 L655.03,458.38 L660.69,459.78 L666.34,461.21 L671.99,462.67 L677.65,464.17 L683.30,465.70 L688.96,467.27 L694.61,468.88 L700.26,470.52 L705.92,472.21 L711.57,473.94 L717.22,475.71 L722.88,477.52 L728.53,479.38 L734.19,481.28 L739.84,483.23 L745.49,485.23 L751.15,487.28 L756.80,489.38 L762.45,491.53 L768.11,493.74 L773.76,496.00 L779.42,498.32 L785.07,500.70 L790.72,503.14 L796.38,505.64 L802.03,508.21 L807.68,510.85 L813.34,513.55 L818.99,516.32 L824.65,519.17 L830.30,522.09" stroke="#0000FF" stroke-dasharray="5.3,6.6"/>
<path d="M157.50,393.44 L159.61,393.47 L161.72,393.50 L163.82,393.54 L165.93,393.57 L168.04,393.60 L170.15,393.64 L172.25,393.67 L174.36,393.70 L176.47,393.74 L178.58,393.77 L180.69,393.81 L182.79,393.84 L184.90,393.88 L187.01,393.91 L189.12,393.95 L191.22,393.98 L193.33,394.02 L195.44,394.06 L197.55,394.09 L199.66,394.13 L201.76,394.17 L203.87,394.20 L205.98,394.24 L208.09,394.28 L210.19,394.31 L212.30,394.35 L214.41,394.39 L216.52,394.43 L218.63,394.46 L220.73,394.50 L222.84,394.54 L224.95,394.58 L227.06,394.62 L229.16,394.66 L231.27,394.70 L233.38,394.74 L235.49,394.78 L237.60,394.82 L239.70,394.86 L241.81,394.90 L243.92,394.94 L246.03,394.98 L248.13,395.02 L250.24,395.06 L252.35,395.10 L254.46,395.14 L256.57,395.19 L258.67,395.23 L260.78,395.27 L262.89,395.31 L265.00,395.36 L267.10,395.40 L269.21,395.44 L271.32,395.49 L273.43,395.53 L275.54,395.57 L277.64,395.62 L279.75,395.66 L281.86,395.71 L283.97,395.75 L286.07,395.80 L288.18,395.84 L290.29,395.89 L292.40,395.94 L294.51,395.98 L296.61,396.03 L298.72,396.08 L300.83,396.12 L302.94,396.17 L305.04,396.22 L307.15,396.27 L309.26,396.32 L311.37,396.36 L313.47,396.41 L315.58,396.46 L317.69,396.51 L319.80,396.56 L321.91,396.61 L324.01,396.66 L326.12,396.71 L328.23,396.76 L330.34,396.81 L332.44,396.87 L334.55,396.92 L336.66,396.97 L338.77,397.02 L340.88,397.08 L342.98,397.13 L345.09,397.18 L347.20,397.24 L349.31,397.29 L351.41,397.34 L353.52,397.40 L355.63,397.45 L357.74,397.51 L359.85,397.57 L361.95,397.62 L364.06,397.68 L366.17,397.74 L368.28,397.79 L370.38,397.85 L372.49,397.91 L374.60,397.97 L376.71,398.02 L378.82,398.08 L380.92,398.14 L383.03,398.20 L385.14,398.26 L387.25,398.32 L389.35,398.38 L391.46,398.45 L393.57,398.51 L395.68,398.57 L397.79,398.63 L399.89,398.70 L402.00,398.76 L404.11,398.82 L406.22,398.89 L408.32,398.95 L410.43,399.02 L412.54,399.08 L414.65,399.15 L416.76,399.21 L418.86,399.28 L420.97,399.35 L423.08,399.42 L425.19,399.48 L427.29,399.55 L429.40,399.62 L431.51,399.69 L433.62,399.76 L435.73,399.83 L437.83,399.90 L439.94,399.97 L442.05,400.05 L444.16,400.12 L446.26,400.19 L448.37,400.27 L450.48,400.34 L452.59,400.41 L454.70,400.49 L456.80,400.57 L458.91,400.64 L461.02,400.72 L463.13,400.80 L465.23,400.87 L467.34,400.95 L469.45,401.03 L471.56,401.11 L473.67,401.19 L475.77,401.27 L477.88,401.35 L479.99,401.43 L482.10,401.52 L484.20,401.60 L486.31,401.68 L488.42,401.77 L490.53,401.85 L492.64,401.94 L494.74,402.02 L496.85,402.11 L498.96,402.20 L501.07,402.29 L503.17,402.38 L505.28,402.47 L507.39,402.56 L509.50,402.65 L511.61,402.74 L513.71,402.83 L515.82,402.92 L517.93,403.02 L520.04,403.11 L522.14,403.21 L524.25,403.30 L526.36,403.40 L528.47,403.50 L530.58,403.60 L532.68,403.70 L534.79,403.80 L536.90,403.90 L539.01,404.00 L541.11,404.10 L543.22,404.20 L545.33,404.31 L547.44,404.41 L549.55,404.52 L551.65,404.63 L553.76,404.73 L555.87,404.84 L557.98,404.95 L560.08,405.06 L562.19,405.17 L564.30,405.29 L566.41,405.40 L568.52,405.51 L570.62,405.63 L572.73,405.74 L574.84,405.86 L576.95,405.98 L579.05,406.10 L581.16,406.22 L583.27,406.34 L585.38,406.46 L587.48,406.59 L589.59,406.71 L591.70,406.84 L593.81,406.96 L595.92,407.09 L598.02,407.22 L600.13,407.35 L602.24,407.48 L604.35,407.62 L606.45,407.75 L608.56,407.89 L610.67,408.02 L612.78,408.16 L614.89,408.30 L616.99,408.44 L619.10,408.58 L621.21,408.73 L623.32,408.87 L625.42,409.02 L627.53,409.16 L629.64,409.31 L631.75,409.46 L633.86,409.61 L635.96,409.77 L638.07,409.92 L640.18,410.08 L642.29,410.24 L644.39,410.40 L646.50,410.56 L648.61,410.72 L650.72,410.88 L652.83,411.05 L654.93,411.22 L657.04,411.39 L659.15,411.56 L661.26,411.73 L663.36,411.91 L665.47,412.08 L667.58,412.26 L669.69,412.44 L671.80,412.63 L673.90,412.81 L676.01,413.00 L678.12,413.19 L680.23,413.38 L682.33,413.57 L684.44,413.77 L686.55,413.96 L688.66,414.16 L690.77,414.36 L692.87,414.57 L694.98,414.77 L697.09,414.98 L699.20,415.19 L701.30,415.41 L703.41,415.62 L705.52,415.84 L707.63,416.06 L709.74,416.29 L711.84,416.51 L713.95,416.74 L716.06,416.98 L718.17,417.21 L720.27,417.45 L722.38,417.69 L724.49,417.93 L726.60,418.18 L728.71,418.43 L730.81,418.68 L732.92,418.94 L735.03,419.20 L737.14,419.46 L739.24,419.73 L741.35,420.00 L743.46,420.27 L745.57,420.55 L747.68,420.83 L749.78,421.12 L751.89,421.41 L754.00,421.70 L756.11,422.00 L758.21,422.30 L760.32,422.60 L762.43,422.91 L764.54,423.23 L766.65,423.55 L768.75,423.87 L770.86,424.20 L772.97,424.53 L775.08,424.87 L777.18,425.21 L779.29,425.56 L781.40,425.91 L783.51,426.27 L785.62,426.63 L787.72,427.00 L789.83,427.38 L791.94,427.76 L794.05,428.15 L796.15,428.54 L798.26,428.94 L800.37,429.35 L802.48,429.76 L804.59,430.18 L806.69,430.61 L808.80,431.05 L810.91,431.49 L813.02,431.94 L815.12,432.39 L817.23,432.86 L819.34,433.33 L821.45,433.82 L823.56,434.31 L825.66,434.81 L827.77,435.32 L829.88,435.84 L831.99,436.37 L834.09,436.91 L836.20,437.45 L838.31,438.02 L840.42,438.59 L842.53,439.17 L844.63,439.76 L846.74,440.37 L848.85,440.99 L850.96,441.62 L853.06,442.27 L855.17,442.92 L857.28,443.60 L859.39,444.29 L861.49,444.99 L863.60,445.71 L865.71,446.44 L867.82,447.20 L869.93,447.96 L872.03,448.75 L874.14,449.56 L876.25,450.39 L878.36,451.23 L880.46,452.10 L882.57,452.99 L884.68,453.90 L886.79,454.84 L888.90,455.80 L891.00,456.78 L893.11,457.80 L895.22,458.84 L897.33,459.91 L899.43,461.01 L901.54,462.14 L903.65,463.30 L905.76,464.50 L907.87,465.74 L909.97,467.01 L912.08,468.33 L914.19,469.68 L916.30,471.08 L918.40,472.53 L920.51,474.02 L922.62,475.57 L924.73,477.16 L926.84,478.82 L928.94,480.53 L931.05,482.31 L933.16,484.15 L934.40,485.27 L935.27,486.06 L937.37,488.05 L939.48,490.11 L941.59,492.26 L942.61,493.32 L943.70,494.49 L945.81,496.81 L947.91,499.23 L949.76,501.44 L952.13,504.38 L954.24,507.12 L956.00,509.50 L956.34,509.97 L958.45,512.95 L960.56,516.05 L961.44,517.39 L962.67,519.29 L964.78,522.65 L966.19,524.98 L966.88,526.15 L968.99,529.78 L970.32,532.14 L971.10,533.54 L973.21,537.41 L973.93,538.76 L975.31,541.38 L977.08,544.77 L977.42,545.43 L979.53,549.54 L979.82,550.11 L981.64,553.66 L982.21,554.78 L983.75,557.75 L984.30,558.81 L985.85,561.76 L986.11,562.25 L987.70,565.16 L987.96,565.63 L989.08,567.61 L990.07,569.31 L991.34,571.40 L992.18,572.72 L993.06,574.06 L993.75,575.08 L994.28,575.83 L994.89,576.66 L995.35,577.27 L995.76,577.78 L996.11,578.22 L996.39,578.56 L996.68,578.90 L997.12,579.40 L997.45,579.76 L997.80,580.13 L998.15,580.48 L998.46,580.77 L998.50,580.80" stroke="#006400"/>
<path d="M157.50,404.67 L164.57,404.86 L171.63,405.05 L178.70,405.25 L185.77,405.45 L192.84,405.66 L199.90,405.87 L206.97,406.09 L214.04,406.31 L221.11,406.54 L228.17,406.78 L235.24,407.02 L242.31,407.27 L249.37,407.52 L256.44,407.78 L263.51,408.05 L270.58,408.32 L277.64,408.60 L284.71,408.89 L291.78,409.19 L298.84,409.49 L305.91,409.80 L312.98,410.12 L320.05,410.45 L327.11,410.78 L334.18,411.13 L341.25,411.48 L348.32,411.84 L355.38,412.22 L362.45,412.60 L369.52,412.99 L376.58,413.39 L383.65,413.80 L390.72,414.23 L397.79,414.66 L404.85,415.11 L411.92,415.57 L418.99,416.04 L426.05,416.52 L433.12,417.02 L440.19,417.53 L447.26,418.05 L454.32,418.59 L461.39,419.14 L468.46,419.71 L475.53,420.29 L482.59,420.88 L489.66,421.50 L496.73,422.13 L503.79,422.78 L510.86,423.44 L517.93,424.13 L525.00,424.83 L532.06,425.55 L539.13,426.29 L546.20,427.06 L553.26,427.84 L560.33,428.65 L567.40,429.48 L574.47,430.33 L581.53,431.21 L588.60,432.11 L595.67,433.04 L602.74,433.99 L609.80,434.98 L616.87,435.99 L623.94,437.02 L631.00,438.09 L638.07,439.20 L645.14,440.33 L652.21,441.50 L659.27,442.70 L666.34,443.93 L673.41,445.21 L680.47,446.52 L687.54,447.87 L694.61,449.26 L701.68,450.69 L708.74,452.17 L715.81,453.69 L722.88,455.26 L729.95,456.88 L737.01,458.55 L744.08,460.27 L751.15,462.04 L758.21,463.87 L765.28,465.75 L772.35,467.70 L779.42,469.71 L786.48,471.78 L793.55,473.92 L800.62,476.13 L807.68,478.40 L814.75,480.76 L821.82,483.19 L828.89,485.70 L835.95,488.30 L843.02,490.98 L850.09,493.75 L857.16,496.62 L864.22,499.58 L871.29,502.64 L878.36,505.81 L885.42,509.09 L892.49,512.48 L899.56,515.99 L906.63,519.62 L913.69,523.38 L920.76,527.28 L927.83,531.32 L934.89,535.50 L941.96,539.83 L949.03,544.32 L956.10,548.97 L963.16,553.80 L970.23,558.81 L977.30,564.00 L984.37,569.39 L991.43,574.99 L998.50,580.80" stroke="#006400" stroke-dasharray="5.3,6.6"/>
<path d="M157.50,388.42 L159.61,388.44 L161.72,388.45 L163.82,388.47 L165.93,388.48 L168.04,388.50 L170.15,388.51 L172.25,388.53 L174.36,388.54 L176.47,388.56 L178.58,388.57 L180.69,388.59 L182.79,388.60 L184.90,388.62 L187.01,388.63 L189.12,388.65 L191.22,388.67 L193.33,388.68 L195.44,388.70 L197.55,388.71 L199.66,388.73 L201.76,388.74 L203.87,388.76 L205.98,388.78 L208.09,388.79 L210.19,388.81 L212.30,388.83 L214.41,388.84 L216.52,388.86 L218.63,388.88 L220.73,388.89 L222.84,388.91 L224.95,388.93 L227.06,388.94 L229.16,388.96 L231.27,388.98 L233.38,388.99 L235.49,389.01 L237.60,389.03 L239.70,389.04 L241.81,389.06 L243.92,389.08 L246.03,389.10 L248.13,389.11 L250.24,389.13 L252.35,389.15 L254.46,389.17 L256.57,389.19 L258.67,389.20 L260.78,389.22 L262.89,389.24 L265.00,389.26 L267.10,389.28 L269.21,389.29 L271.32,389.31 L273.43,389.33 L275.54,389.35 L277.64,389.37 L279.75,389.39 L281.86,389.40 L283.97,389.42 L286.07,389.44 L288.18,389.46 L290.29,389.48 L292.40,389.50 L294.51,389.52 L296.61,389.54 L298.72,389.56 L300.83,389.58 L302.94,389.60 L305.04,389.61 L307.15,389.63 L309.26,389.65 L311.37,389.67 L313.47,389.69 L315.58,389.71 L317.69,389.73 L319.80,389.75 L321.91,389.77 L324.01,389.79 L326.12,389.81 L328.23,389.83 L330.34,389.86 L332.44,389.88 L334.55,389.90 L336.66,389.92 L338.77,389.94 L340.88,389.96 L342.98,389.98 L345.09,390.00 L347.20,390.02 L349.31,390.04 L351.41,390.07 L353.52,390.09 L355.63,390.11 L357.74,390.13 L359.85,390.15 L361.95,390.17 L364.06,390.20 L366.17,390.22 L368.28,390.24 L370.38,390.26 L372.49,390.28 L374.60,390.31 L376.71,390.33 L378.82,390.35 L380.92,390.37 L383.03,390.40 L385.14,390.42 L387.25,390.44 L389.35,390.47 L391.46,390.49 L393.57,390.51 L395.68,390.54 L397.79,390.56 L399.89,390.58 L402.00,390.61 L404.11,390.63 L406.22,390.65 L408.32,390.68 L410.43,390.70 L412.54,390.73 L414.65,390.75 L416.76,390.77 L418.86,390.80 L420.97,390.82 L423.08,390.85 L425.19,390.87 L427.29,390.90 L429.40,390.92 L431.51,390.95 L433.62,390.97 L435.73,391.00 L437.83,391.02 L439.94,391.05 L442.05,391.07 L444.16,391.10 L446.26,391.12 L448.37,391.15 L450.48,391.18 L452.59,391.20 L454.70,391.23 L456.80,391.25 L458.91,391.28 L461.02,391.31 L463.13,391.33 L465.23,391.36 L467.34,391.39 L469.45,391.41 L471.56,391.44 L473.67,391.47 L475.77,391.50 L477.88,391.52 L479.99,391.55 L482.10,391.58 L484.20,391.61 L486.31,391.63 L488.42,391.66 L490.53,391.69 L492.64,391.72 L494.74,391.75 L496.85,391.77 L498.96,391.80 L501.07,391.83 L503.17,391.86 L505.28,391.89 L507.39,391.92 L509.50,391.95 L511.61,391.97 L513.71,392.00 L515.82,392.03 L517.93,392.06 L520.04,392.09 L522.14,392.12 L524.25,392.15 L526.36,392.18 L528.47,392.21 L530.58,392.24 L532.68,392.27 L534.79,392.30 L536.90,392.33 L539.01,392.36 L541.11,392.39 L543.22,392.42 L545.33,392.45 L547.44,392.49 L549.55,392.52 L551.65,392.55 L553.76,392.58 L555.87,392.61 L557.98,392.64 L560.08,392.67 L562.19,392.70 L564.30,392.74 L566.41,392.77 L568.52,392.80 L570.62,392.83 L572.73,392.86 L574.84,392.90 L576.95,392.93 L579.05,392.96 L581.16,392.99 L583.27,393.03 L585.38,393.06 L587.48,393.09 L589.59,393.13 L591.70,393.16 L593.81,393.19 L595.92,393.22 L598.02,393.26 L600.13,393.29 L602.24,393.32 L604.35,393.36 L606.45,393.39 L608.56,393.43 L610.67,393.46 L612.78,393.49 L614.89,393.53 L616.99,393.56 L619.10,393.60 L621.21,393.63 L623.32,393.66 L625.42,393.70 L627.53,393.73 L629.64,393.77 L631.75,393.80 L633.86,393.84 L635.96,393.87 L638.07,393.91 L640.18,393.94 L642.29,393.97 L644.39,394.01 L646.50,394.04 L648.61,394.08 L650.72,394.11 L652.83,394.15 L654.93,394.18 L657.04,394.22 L659.15,394.25 L661.26,394.29 L663.36,394.32 L665.47,394.36 L667.58,394.39 L669.69,394.43 L671.80,394.47 L673.90,394.50 L676.01,394.54 L678.12,394.57 L680.23,394.61 L682.33,394.64 L684.44,394.68 L686.55,394.71 L688.66,394.75 L690.77,394.78 L692.87,394.82 L694.98,394.85 L697.09,394.89 L699.20,394.92 L701.30,394.95 L703.41,394.99 L705.52,395.02 L707.63,395.06 L709.74,395.09 L711.84,395.13 L713.95,395.16 L716.06,395.19 L718.17,395.23 L720.27,395.26 L722.38,395.30 L724.49,395.33 L726.60,395.36 L728.71,395.40 L730.81,395.43 L732.92,395.46 L735.03,395.49 L737.14,395.53 L739.24,395.56 L741.35,395.59 L743.46,395.62 L745.57,395.65 L747.68,395.69 L749.78,395.72 L751.89,395.75 L754.00,395.78 L756.11,395.81 L756.79,395.82 L758.21,395.84 L760.32,395.87 L762.43,395.90 L764.54,395.93 L766.20,395.95 L768.75,395.98 L770.86,396.01 L772.97,396.04 L774.41,396.06 L775.08,396.07 L777.18,396.09 L779.29,396.12 L781.40,396.15 L783.51,396.17 L785.62,396.20 L787.72,396.22 L789.83,396.25 L791.94,396.27 L793.24,396.29 L794.05,396.29 L796.15,396.32 L797.99,396.34 L800.37,396.36 L802.12,396.38 L804.59,396.41 L805.73,396.42 L806.69,396.43 L808.80,396.45 L810.91,396.47 L811.62,396.47 L813.02,396.49 L814.01,396.50 L815.12,396.51 L816.10,396.52 L817.23,396.53 L817.91,396.53 L819.34,396.54 L820.88,396.56 L822.09,396.57 L823.14,396.57 L824.06,396.58 L824.86,396.59 L825.55,396.59 L826.16,396.60 L827.15,396.61 L827.77,396.61 L828.48,396.62 L829.09,396.62 L829.69,396.63 L830.29,396.63 L830.91,396.63 L831.51,396.64 L832.12,396.64 L833.04,396.65 L833.91,396.66 L835.05,396.66 L835.74,396.67 L836.54,396.67 L837.46,396.68 L838.31,396.69 L839.72,396.70 L840.42,396.70 L841.10,396.70 L842.53,396.71 L844.50,396.73 L846.59,396.74 L848.85,396.75 L850.96,396.76 L851.72,396.77 L853.06,396.78 L854.87,396.79 L857.28,396.80 L858.48,396.81 L859.39,396.81 L861.49,396.82 L862.61,396.83 L863.60,396.83 L865.71,396.85 L867.36,396.85 L869.93,396.87 L872.03,396.88 L872.80,396.89 L874.14,396.89 L876.25,396.91 L878.36,396.92 L879.04,396.92 L880.46,396.93 L882.57,396.95 L884.68,396.96 L886.19,396.97 L886.79,396.98 L888.90,396.99 L891.00,397.01 L893.11,397.03 L894.40,397.04 L895.22,397.05 L897.33,397.07 L899.43,397.09 L901.54,397.12 L903.65,397.14 L905.76,397.17 L907.87,397.20 L909.97,397.23 L912.08,397.26 L914.19,397.30 L916.30,397.34 L918.40,397.38 L920.51,397.42 L922.62,397.47 L924.73,397.51 L926.84,397.57 L928.94,397.62 L931.05,397.68 L933.16,397.75 L935.27,397.81 L937.37,397.89 L939.48,397.96 L941.59,398.04 L943.70,398.13 L945.81,398.22 L947.91,398.31 L950.02,398.41 L952.13,398.52 L954.24,398.63 L956.34,398.75 L958.45,398.87 L960.56,399.00 L962.67,399.14 L964.78,399.28 L966.88,399.43 L968.99,399.59 L971.10,399.76 L973.21,399.93 L975.31,400.12 L977.42,400.31 L979.53,400.51 L981.64,400.71 L983.75,400.93 L985.85,401.16 L987.96,401.40 L990.07,401.65 L992.18,401.90 L994.28,402.17 L996.39,402.45 L998.50,402.75" stroke="#C8C800"/>
<path d="M157.50,404.67 L164.57,404.79 L171.63,404.92 L178.70,405.04 L185.77,405.17 L192.84,405.31 L199.90,405.44 L206.97,405.58 L214.04,405.72 L221.11,405.87 L228.17,406.02 L235.24,406.18 L242.31,406.33 L249.37,406.50 L256.44,406.66 L263.51,406.83 L270.58,407.01 L277.64,407.19 L284.71,407.37 L291.78,407.56 L298.84,407.76 L305.91,407.96 L312.98,408.16 L320.05,408.37 L327.11,408.58 L334.18,408.80 L341.25,409.03 L348.32,409.26 L355.38,409.50 L362.45,409.75 L369.52,410.00 L376.58,410.25 L383.65,410.52 L390.72,410.79 L397.79,411.07 L404.85,411.35 L411.92,411.65 L418.99,411.95 L426.05,412.26 L433.12,412.57 L440.19,412.90 L447.26,413.24 L454.32,413.58 L461.39,413.93 L468.46,414.29 L475.53,414.67 L482.59,415.05 L489.66,415.44 L496.73,415.85 L503.79,416.26 L510.86,416.69 L517.93,417.12 L525.00,417.57 L532.06,418.04 L539.13,418.51 L546.20,419.00 L553.26,419.50 L560.33,420.02 L567.40,420.55 L574.47,421.10 L581.53,421.66 L588.60,422.23 L595.67,422.83 L602.74,423.44 L609.80,424.07 L616.87,424.71 L623.94,425.38 L631.00,426.06 L638.07,426.77 L645.14,427.49 L652.21,428.24 L659.27,429.01 L666.34,429.80 L673.41,430.61 L680.47,431.45 L687.54,432.32 L694.61,433.21 L701.68,434.13 L708.74,435.07 L715.81,436.05 L722.88,437.05 L729.95,438.09 L737.01,439.15 L744.08,440.25 L751.15,441.39 L758.21,442.56 L765.28,443.76 L772.35,445.01 L779.42,446.30 L786.48,447.62 L793.55,448.99 L800.62,450.40 L807.68,451.86 L814.75,453.37 L821.82,454.92 L828.89,456.53 L835.95,458.19 L843.02,459.91 L850.09,461.68 L857.16,463.52 L864.22,465.41 L871.29,467.37 L878.36,469.40 L885.42,471.50 L892.49,473.67 L899.56,475.92 L906.63,478.24 L913.69,480.65 L920.76,483.14 L927.83,485.72 L934.89,488.40 L941.96,491.17 L949.03,494.05 L956.10,497.03 L963.16,500.12 L970.23,503.32 L977.30,506.65 L984.37,510.10 L991.43,513.68 L998.50,517.39" stroke="#C8C800" stroke-dasharray="5.3,6.6"/>
<path d="M157.50,368.64 L159.61,368.56 L161.72,368.48 L163.82,368.40 L165.93,368.32 L168.04,368.24 L170.15,368.15 L172.25,368.07 L174.36,367.99 L176.47,367.90 L178.58,367.81 L180.69,367.73 L182.79,367.64 L184.90,367.55 L187.01,367.47 L189.12,367.38 L191.22,367.29 L193.33,367.20 L195.44,367.11 L197.55,367.01 L199.66,366.92 L201.76,366.83 L203.87,366.74 L205.98,366.64 L208.09,366.55 L210.19,366.45 L212.30,366.35 L214.41,366.25 L216.52,366.16 L218.63,366.06 L220.73,365.96 L222.84,365.86 L224.95,365.76 L227.06,365.65 L229.16,365.55 L231.27,365.45 L233.38,365.34 L235.49,365.24 L237.60,365.13 L239.70,365.02 L241.81,364.91 L243.92,364.81 L246.03,364.70 L248.13,364.59 L250.24,364.48 L252.35,364.36 L254.46,364.25 L256.57,364.14 L258.67,364.02 L260.78,363.91 L262.89,363.79 L265.00,363.67 L267.10,363.55 L269.21,363.44 L271.32,363.32 L273.43,363.19 L275.54,363.07 L277.64,362.95 L279.75,362.83 L281.86,362.70 L283.97,362.58 L286.07,362.45 L288.18,362.32 L290.29,362.20 L292.40,362.07 L294.51,361.94 L296.61,361.81 L298.72,361.67 L300.83,361.54 L302.94,361.41 L305.04,361.27 L307.15,361.14 L309.26,361.00 L311.37,360.87 L313.47,360.73 L315.58,360.59 L317.69,360.45 L319.80,360.31 L321.91,360.17 L324.01,360.02 L326.12,359.88 L328.23,359.74 L330.34,359.59 L332.44,359.44 L334.55,359.30 L336.66,359.15 L338.77,359.00 L340.88,358.85 L342.98,358.70 L345.09,358.55 L347.20,358.40 L349.31,358.24 L351.41,358.09 L353.52,357.93 L355.63,357.78 L357.74,357.62 L359.85,357.47 L361.95,357.31 L364.06,357.15 L366.17,356.99 L368.28,356.83 L370.38,356.67 L372.49,356.51 L374.60,356.34 L376.71,356.18 L378.82,356.02 L380.92,355.85 L383.03,355.69 L385.14,355.52 L387.25,355.36 L389.35,355.19 L391.46,355.02 L393.57,354.85 L395.68,354.69 L397.79,354.52 L399.89,354.35 L402.00,354.18 L404.11,354.01 L406.22,353.84 L408.32,353.66 L409.60,353.56 L410.43,353.49 L412.54,353.32 L414.65,353.15 L416.76,352.97 L418.86,352.80 L420.39,352.68 L420.97,352.63 L423.08,352.45 L425.19,352.28 L427.29,352.11 L429.40,351.93 L431.51,351.76 L433.62,351.58 L435.73,351.41 L437.83,351.24 L439.94,351.06 L442.05,350.89 L444.16,350.71 L445.16,350.63 L446.26,350.54 L448.37,350.36 L450.48,350.19 L451.40,350.11 L452.59,350.01 L454.70,349.84 L456.80,349.67 L458.91,349.49 L461.02,349.32 L461.59,349.27 L463.13,349.15 L465.23,348.97 L467.34,348.80 L469.33,348.64 L471.56,348.46 L472.48,348.38 L473.67,348.29 L475.22,348.16 L477.61,347.97 L479.70,347.80 L481.51,347.65 L482.10,347.61 L483.10,347.53 L484.20,347.44 L485.69,347.32 L486.31,347.27 L487.66,347.16 L488.42,347.10 L489.15,347.04 L489.76,347.00 L490.53,346.94 L491.16,346.89 L491.81,346.83 L492.52,346.78 L493.10,346.73 L493.67,346.69 L494.25,346.64 L494.82,346.60 L495.49,346.55 L496.29,346.48 L496.85,346.44 L497.51,346.39 L498.65,346.30 L499.34,346.24 L500.14,346.18 L501.06,346.11 L502.11,346.03 L503.17,345.95 L504.70,345.83 L505.28,345.79 L506.29,345.71 L507.39,345.62 L508.10,345.57 L509.50,345.46 L510.19,345.41 L511.61,345.30 L512.58,345.23 L513.71,345.15 L515.32,345.03 L517.93,344.83 L520.04,344.68 L522.08,344.53 L524.25,344.37 L526.21,344.22 L528.47,344.06 L530.58,343.91 L532.68,343.76 L534.79,343.61 L536.40,343.50 L539.01,343.31 L541.11,343.17 L542.64,343.06 L543.22,343.02 L545.33,342.88 L547.44,342.73 L549.55,342.59 L551.65,342.45 L553.76,342.31 L555.87,342.17 L557.98,342.04 L560.08,341.90 L562.19,341.76 L564.30,341.63 L566.41,341.50 L567.41,341.43 L568.52,341.36 L570.62,341.23 L572.73,341.10 L574.84,340.97 L576.95,340.85 L578.20,340.77 L579.05,340.72 L581.16,340.59 L583.27,340.47 L585.38,340.35 L587.48,340.22 L589.59,340.10 L591.70,339.98 L593.81,339.87 L595.92,339.75 L598.02,339.63 L600.13,339.52 L602.24,339.40 L604.35,339.29 L606.45,339.18 L608.56,339.07 L610.67,338.96 L612.78,338.85 L614.89,338.74 L616.99,338.63 L619.10,338.53 L621.21,338.42 L623.32,338.32 L625.42,338.22 L627.53,338.12 L629.64,338.02 L631.75,337.92 L633.86,337.82 L635.96,337.72 L638.07,337.63 L640.18,337.53 L642.29,337.44 L644.39,337.35 L646.50,337.26 L648.61,337.17 L650.72,337.08 L652.83,336.99 L654.93,336.90 L657.04,336.81 L659.15,336.73 L661.26,336.64 L663.36,336.56 L665.47,336.47 L667.58,336.39 L669.69,336.31 L671.80,336.23 L673.90,336.15 L676.01,336.07 L678.12,336.00 L680.23,335.92 L682.33,335.85 L684.44,335.77 L686.55,335.70 L688.66,335.62 L690.77,335.55 L692.87,335.48 L694.98,335.41 L697.09,335.34 L699.20,335.27 L701.30,335.20 L703.41,335.14 L705.52,335.07 L707.63,335.01 L709.74,334.94 L711.84,334.88 L713.95,334.82 L716.06,334.75 L718.17,334.69 L720.27,334.63 L722.38,334.57 L724.49,334.51 L726.60,334.45 L728.71,334.40 L730.81,334.34 L732.92,334.28 L735.03,334.23 L737.14,334.17 L739.24,334.12 L741.35,334.07 L743.46,334.02 L745.57,333.96 L747.68,333.91 L749.78,333.86 L751.89,333.81 L754.00,333.76 L756.11,333.72 L758.21,333.67 L760.32,333.62 L762.43,333.57 L764.54,333.53 L766.65,333.48 L768.75,333.44 L770.86,333.40 L772.97,333.35 L775.08,333.31 L777.18,333.27 L779.29,333.23 L781.40,333.19 L783.51,333.15 L785.62,333.11 L787.72,333.07 L789.83,333.03 L791.94,332.99 L794.05,332.96 L796.15,332.92 L798.26,332.88 L800.37,332.85 L802.48,332.81 L804.59,332.78 L806.69,332.75 L808.80,332.71 L810.91,332.68 L813.02,332.65 L815.12,332.62 L817.23,332.59 L819.34,332.56 L821.45,332.53 L823.56,332.50 L825.66,332.47 L827.77,332.44 L829.88,332.42 L831.99,332.39 L834.09,332.36 L836.20,332.34 L838.31,332.31 L840.42,332.29 L842.53,332.26 L844.63,332.24 L846.74,332.22 L848.85,332.19 L850.96,332.17 L853.06,332.15 L855.17,332.13 L857.28,332.11 L859.39,332.09 L861.49,332.07 L863.60,332.05 L865.71,332.03 L867.82,332.01 L869.93,331.99 L872.03,331.98 L874.14,331.96 L876.25,331.94 L878.36,331.93 L880.46,331.91 L882.57,331.90 L884.68,331.88 L886.79,331.87 L888.90,331.86 L891.00,331.84 L893.11,331.83 L895.22,331.82 L897.33,331.81 L899.43,331.80 L901.54,331.79 L903.65,331.78 L905.76,331.77 L907.87,331.76 L909.97,331.75 L912.08,331.74 L914.19,331.73 L916.30,331.73 L918.40,331.72 L920.51,331.71 L922.62,331.71 L924.73,331.70 L926.84,331.70 L928.94,331.69 L931.05,331.69 L933.16,331.69 L935.27,331.68 L937.37,331.68 L939.48,331.68 L941.59,331.68 L943.70,331.67 L945.81,331.67 L947.91,331.67 L950.02,331.67 L952.13,331.67 L954.24,331.68 L956.34,331.68 L958.45,331.68 L960.56,331.68 L962.67,331.69 L964.78,331.69 L966.88,331.69 L968.99,331.70 L971.10,331.70 L973.21,331.71 L975.31,331.71 L977.42,331.72 L979.53,331.73 L981.64,331.73 L983.75,331.74 L985.85,331.75 L987.96,331.76 L990.07,331.77 L992.18,331.78 L994.28,331.79 L996.39,331.80 L998.50,331.81" stroke="#C04000"/>
<path d="M157.50,404.67 L164.57,404.70 L171.63,404.74 L178.70,404.77 L185.77,404.80 L192.84,404.83 L199.90,404.87 L206.97,404.90 L214.04,404.94 L221.11,404.97 L228.17,405.01 L235.24,405.05 L242.31,405.09 L249.37,405.13 L256.44,405.17 L263.51,405.21 L270.58,405.26 L277.64,405.30 L284.71,405.35 L291.78,405.40 L298.84,405.45 L305.91,405.50 L312.98,405.55 L320.05,405.60 L327.11,405.65 L334.18,405.71 L341.25,405.76 L348.32,405.82 L355.38,405.88 L362.45,405.94 L369.52,406.01 L376.58,406.07 L383.65,406.14 L390.72,406.20 L397.79,406.27 L404.85,406.34 L411.92,406.42 L418.99,406.49 L426.05,406.57 L433.12,406.65 L440.19,406.73 L447.26,406.82 L454.32,406.90 L461.39,406.99 L468.46,407.08 L475.53,407.17 L482.59,407.27 L489.66,407.37 L496.73,407.47 L503.79,407.57 L510.86,407.68 L517.93,407.79 L525.00,407.90 L532.06,408.02 L539.13,408.13 L546.20,408.26 L553.26,408.38 L560.33,408.51 L567.40,408.64 L574.47,408.78 L581.53,408.92 L588.60,409.06 L595.67,409.21 L602.74,409.37 L609.80,409.52 L616.87,409.68 L623.94,409.85 L631.00,410.02 L638.07,410.20 L645.14,410.38 L652.21,410.57 L659.27,410.76 L666.34,410.96 L673.41,411.16 L680.47,411.37 L687.54,411.59 L694.61,411.81 L701.68,412.04 L708.74,412.27 L715.81,412.52 L722.88,412.77 L729.95,413.03 L737.01,413.29 L744.08,413.57 L751.15,413.85 L758.21,414.15 L765.28,414.45 L772.35,414.76 L779.42,415.08 L786.48,415.41 L793.55,415.75 L800.62,416.11 L807.68,416.47 L814.75,416.85 L821.82,417.24 L828.89,417.64 L835.95,418.05 L843.02,418.48 L850.09,418.93 L857.16,419.39 L864.22,419.86 L871.29,420.35 L878.36,420.86 L885.42,421.38 L892.49,421.92 L899.56,422.49 L906.63,423.07 L913.69,423.67 L920.76,424.29 L927.83,424.94 L934.89,425.61 L941.96,426.30 L949.03,427.02 L956.10,427.76 L963.16,428.54 L970.23,429.34 L977.30,430.17 L984.37,431.03 L991.43,431.93 L998.50,432.85" stroke="#C04000" stroke-dasharray="5.3,6.6"/>
<path d="M157.50,320.02 L159.61,320.02 L161.72,320.02 L163.82,320.02 L165.93,320.02 L168.04,320.02 L170.15,320.02 L172.25,320.02 L174.36,320.02 L176.47,320.02 L178.58,320.02 L180.69,320.02 L182.79,320.02 L184.90,320.02 L187.01,320.02 L189.12,320.02 L191.22,320.02 L193.33,320.02 L195.44,320.02 L197.55,320.02 L199.66,320.02 L201.76,320.02 L203.87,320.02 L205.98,320.02 L208.09,320.02 L210.19,320.02 L212.30,320.02 L214.41,320.02 L216.52,320.02 L218.63,320.02 L220.73,320.02 L222.84,320.02 L224.95,320.02 L227.06,320.02 L229.16,320.02 L231.27,320.02 L233.38,320.02 L235.49,320.02 L237.60,320.02 L239.70,320.02 L241.81,320.02 L243.92,320.02 L246.03,320.02 L248.13,320.02 L250.24,320.02 L252.35,320.02 L254.46,320.02 L256.57,320.02 L258.67,320.02 L260.78,320.02 L262.89,320.02 L265.00,320.02 L267.10,320.02 L269.21,320.02 L271.32,320.02 L273.43,320.02 L275.54,320.02 L277.64,320.02 L279.75,320.02 L281.86,320.02 L283.97,320.02 L286.07,320.02 L288.18,320.02 L290.29,320.02 L292.40,320.02 L294.51,320.02 L296.61,320.02 L298.72,320.02 L300.83,320.02 L302.94,320.02 L305.04,320.02 L307.15,320.02 L309.26,320.02 L311.37,320.02 L313.47,320.02 L315.58,320.02 L317.69,320.02 L319.80,320.02 L321.91,320.02 L324.01,320.02 L326.12,320.02 L328.23,320.02 L330.34,320.02 L332.44,320.02 L334.55,320.02 L336.66,320.02 L338.77,320.02 L340.88,320.02 L342.98,320.02 L345.09,320.02 L347.20,320.02 L349.31,320.02 L351.41,320.02 L353.52,320.02 L355.63,320.02 L357.74,320.02 L359.85,320.02 L361.95,320.02 L364.06,320.02 L366.17,320.02 L368.28,320.02 L370.38,320.02 L372.49,320.02 L374.60,320.02 L376.71,320.02 L378.82,320.02 L380.92,320.02 L383.03,320.02 L385.14,320.02 L387.25,320.02 L389.35,320.02 L391.46,320.02 L393.57,320.02 L395.68,320.02 L397.79,320.02 L399.89,320.02 L402.00,320.02 L404.11,320.02 L406.22,320.02 L408.32,320.02 L410.43,320.02 L412.54,320.02 L414.65,320.02 L416.76,320.02 L418.86,320.02 L420.97,320.02 L423.08,320.02 L425.19,320.02 L427.29,320.02 L429.40,320.02 L431.51,320.02 L433.62,320.02 L435.73,320.02 L437.83,320.02 L439.94,320.02 L442.05,320.02 L444.16,320.02 L446.26,320.02 L448.37,320.02 L450.48,320.02 L452.59,320.02 L454.70,320.02 L456.80,320.02 L458.91,320.02 L461.02,320.02 L463.13,320.02 L465.23,320.02 L467.34,320.02 L469.45,320.02 L471.56,320.02 L473.67,320.02 L475.77,320.02 L477.88,320.02 L479.99,320.02 L482.10,320.02 L484.20,320.02 L486.31,320.02 L488.42,320.02 L490.53,320.02 L492.64,320.02 L494.74,320.02 L496.85,320.02 L498.96,320.02 L501.07,320.02 L503.17,320.02 L505.28,320.02 L507.39,320.02 L509.50,320.02 L511.61,320.02 L513.71,320.02 L515.82,320.02 L517.93,320.02 L520.04,320.02 L522.14,320.02 L524.25,320.02 L526.36,320.02 L528.47,320.02 L530.58,320.02 L532.68,320.02 L534.79,320.02 L536.90,320.02 L539.01,320.02 L541.11,320.02 L543.22,320.02 L545.33,320.02 L547.44,320.02 L549.55,320.02 L551.65,320.02 L553.76,320.02 L555.87,320.02 L557.98,320.02 L560.08,320.02 L562.19,320.02 L564.30,320.02 L566.41,320.02 L568.52,320.02 L570.62,320.02 L572.73,320.02 L574.84,320.02 L576.95,320.02 L579.05,320.02 L581.16,320.02 L583.27,320.02 L585.38,320.02 L587.48,320.02 L589.59,320.02 L591.70,320.02 L593.81,320.02 L595.92,320.02 L598.02,320.02 L600.13,320.02 L602.24,320.02 L604.35,320.02 L606.45,320.02 L608.56,320.02 L610.67,320.02 L612.78,320.02 L614.89,320.02 L616.99,320.02 L619.10,320.02 L621.21,320.02 L623.32,320.02 L625.42,320.02 L627.53,320.02 L629.64,320.02 L631.75,320.02 L633.86,320.02 L635.96,320.02 L638.07,320.02 L640.18,320.02 L642.29,320.02 L644.39,320.02 L646.50,320.02 L648.61,320.02 L650.72,320.02 L652.83,320.02 L654.93,320.02 L657.04,320.02 L659.15,320.02 L661.26,320.02 L663.36,320.02 L665.47,320.02 L667.58,320.02 L669.69,320.02 L671.80,320.02 L673.90,320.02 L676.01,320.02 L678.12,320.02 L680.23,320.02 L682.33,320.02 L684.44,320.02 L686.55,320.02 L688.66,320.02 L690.77,320.02 L692.87,320.02 L694.98,320.02 L697.09,320.02 L699.20,320.02 L701.30,320.02 L703.41,320.02 L705.52,320.02 L707.63,320.02 L709.74,320.02 L711.84,320.02 L713.95,320.02 L716.06,320.02 L718.17,320.02 L720.27,320.02 L722.38,320.02 L724.49,320.02 L726.60,320.02 L728.71,320.02 L730.81,320.02 L732.92,320.02 L735.03,320.02 L737.14,320.02 L739.24,320.02 L741.35,320.02 L743.46,320.02 L745.57,320.02 L747.68,320.02 L749.78,320.02 L751.89,320.02 L754.00,320.02 L756.11,320.02 L758.21,320.02 L760.32,320.02 L762.43,320.02 L764.54,320.02 L766.65,320.02 L768.75,320.02 L770.86,320.02 L772.97,320.02 L775.08,320.02 L777.18,320.02 L779.29,320.02 L781.40,320.02 L783.51,320.02 L785.62,320.02 L787.72,320.02 L789.83,320.02 L791.94,320.02 L794.05,320.02 L796.15,320.02 L798.26,320.02 L800.37,320.02 L802.48,320.02 L804.59,320.02 L806.69,320.02 L808.80,320.02 L810.91,320.02 L813.02,320.02 L815.12,320.02 L817.23,320.02 L819.34,320.02 L821.45,320.02 L823.56,320.02 L825.66,320.02 L827.77,320.02 L829.88,320.02 L831.99,320.02 L834.09,320.02 L836.20,320.02 L838.31,320.02 L840.42,320.02 L842.53,320.02 L844.63,320.02 L846.74,320.02 L848.85,320.02 L850.96,320.02 L853.06,320.02 L855.17,320.02 L857.28,320.02 L859.39,320.02 L861.49,320.02 L863.60,320.02 L865.71,320.02 L867.82,320.02 L869.93,320.02 L872.03,320.02 L874.14,320.02 L876.25,320.02 L878.36,320.02 L880.46,320.02 L882.57,320.02 L884.68,320.02 L886.79,320.02 L888.90,320.02 L891.00,320.02 L893.11,320.02 L895.22,320.02 L897.33,320.02 L899.43,320.02 L901.54,320.02 L903.65,320.02 L905.76,320.02 L907.87,320.02 L909.97,320.02 L912.08,320.02 L914.19,320.02 L916.30,320.02 L918.40,320.02 L920.51,320.02 L922.62,320.02 L924.73,320.02 L926.84,320.02 L928.94,320.02 L931.05,320.02 L933.16,320.02 L935.27,320.02 L937.37,320.02 L939.48,320.02 L941.59,320.02 L943.70,320.02 L945.81,320.02 L947.91,320.02 L950.02,320.02 L952.13,320.02 L954.24,320.02 L956.34,320.02 L958.45,320.02 L960.56,320.02 L962.67,320.02 L964.78,320.02 L966.88,320.02 L968.99,320.02 L971.10,320.02 L973.21,320.02 L975.31,320.02 L977.42,320.02 L979.53,320.02 L981.64,320.02 L983.75,320.02 L985.85,320.02 L987.96,320.02 L990.07,320.02 L992.18,320.02 L994.28,320.02 L996.39,320.02 L998.50,320.02" stroke="#FF0000"/>
<path d="M157.50,404.67 L164.57,404.67 L171.63,404.67 L178.70,404.67 L185.77,404.67 L192.84,404.67 L199.90,404.67 L206.97,404.67 L214.04,404.67 L221.11,404.67 L228.17,404.67 L235.24,404.67 L242.31,404.67 L249.37,404.67 L256.44,404.67 L263.51,404.67 L270.58,404.67 L277.64,404.67 L284.71,404.67 L291.78,404.67 L298.84,404.67 L305.91,404.67 L312.98,404.67 L320.05,404.67 L327.11,404.67 L334.18,404.67 L341.25,404.67 L348.32,404.67 L355.38,404.67 L362.45,404.67 L369.52,404.67 L376.58,404.67 L383.65,404.67 L390.72,404.67 L397.79,404.67 L404.85,404.67 L411.92,404.67 L418.99,404.67 L426.05,404.67 L433.12,404.67 L440.19,404.67 L447.26,404.67 L454.32,404.67 L461.39,404.67 L468.46,404.67 L475.53,404.67 L482.59,404.67 L489.66,404.67 L496.73,404.67 L503.79,404.67 L510.86,404.67 L517.93,404.67 L525.00,404.67 L532.06,404.67 L539.13,404.67 L546.20,404.67 L553.26,404.67 L560.33,404.67 L567.40,404.67 L574.47,404.67 L581.53,404.67 L588.60,404.67 L595.67,404.67 L602.74,404.67 L609.80,404.67 L616.87,404.67 L623.94,404.67 L631.00,404.67 L638.07,404.67 L645.14,404.67 L652.21,404.67 L659.27,404.67 L666.34,404.67 L673.41,404.67 L680.47,404.67 L687.54,404.67 L694.61,404.67 L701.68,404.67 L708.74,404.67 L715.81,404.67 L722.88,404.67 L729.95,404.67 L737.01,404.67 L744.08,404.67 L751.15,404.67 L758.21,404.67 L765.28,404.67 L772.35,404.67 L779.42,404.67 L786.48,404.67 L793.55,404.67 L800.62,404.67 L807.68,404.67 L814.75,404.67 L821.82,404.67 L828.89,404.67 L835.95,404.67 L843.02,404.67 L850.09,404.67 L857.16,404.67 L864.22,404.67 L871.29,404.67 L878.36,404.67 L885.42,404.67 L892.49,404.67 L899.56,404.67 L906.63,404.67 L913.69,404.67 L920.76,404.67 L927.83,404.67 L934.89,404.67 L941.96,404.67 L949.03,404.67 L956.10,404.67 L963.16,404.67 L970.23,404.67 L977.30,404.67 L984.37,404.67 L991.43,404.67 L998.50,404.67" stroke="#FF0000" stroke-dasharray="5.3,6.6"/>
</g>
<rect x="157.50" y="299.00" width="841.00" height="281.80" fill="none" stroke="#000" stroke-width="1"/>
<text transform="translate(142.4,340.62) scale(0.99,1)" font-size="28.5" text-anchor="end">2</text>
<text transform="translate(142.4,375.85) scale(0.99,1)" font-size="28.5" text-anchor="end">1</text>
<text transform="translate(142.4,411.07) scale(0.99,1)" font-size="28.5" text-anchor="end">0</text>
<text transform="translate(142.4,446.30) scale(0.99,1)" font-size="28.5" text-anchor="end">-1</text>
<text transform="translate(142.4,481.52) scale(0.99,1)" font-size="28.5" text-anchor="end">-2</text>
<text transform="translate(142.4,516.75) scale(0.99,1)" font-size="28.5" text-anchor="end">-3</text>
<text transform="translate(142.4,551.97) scale(0.99,1)" font-size="28.5" text-anchor="end">-4</text>
<text transform="translate(142.4,587.20) scale(0.99,1)" font-size="28.5" text-anchor="end">-5</text>
</g>
<g>
<path d="M325.70,596.70 V878.45 M493.90,596.70 V878.45 M662.10,596.70 V878.45 M830.30,596.70 V878.45 M157.50,624.88 H998.50 M157.50,653.05 H998.50 M157.50,681.23 H998.50 M157.50,709.40 H998.50 M157.50,737.58 H998.50 M157.50,765.75 H998.50 M157.50,793.93 H998.50 M157.50,822.10 H998.50 M157.50,850.28 H998.50" stroke="#9a9a9a" stroke-width="1" stroke-dasharray="1,2.6" fill="none"/>
<path d="M325.70,878.45 v-8 M325.70,596.70 v8 M493.90,878.45 v-8 M493.90,596.70 v8 M662.10,878.45 v-8 M662.10,596.70 v8 M830.30,878.45 v-8 M830.30,596.70 v8 M157.50,624.88 h8 M998.50,624.88 h-8 M157.50,653.05 h8 M998.50,653.05 h-8 M157.50,681.23 h8 M998.50,681.23 h-8 M157.50,709.40 h8 M998.50,709.40 h-8 M157.50,737.58 h8 M998.50,737.58 h-8 M157.50,765.75 h8 M998.50,765.75 h-8 M157.50,793.93 h8 M998.50,793.93 h-8 M157.50,822.10 h8 M998.50,822.10 h-8 M157.50,850.28 h8 M998.50,850.28 h-8 M157.50,878.45 h8 M998.50,878.45 h-8" stroke="#000" stroke-width="1" fill="none"/>
<clipPath id="c2"><rect x="156.00" y="595.70" width="844.00" height="284.25"/></clipPath>
<g clip-path="url(#c2)" fill="none" stroke-width="2.5" stroke-linejoin="round">
<path d="M157.50,737.06 L158.34,737.06 L159.19,737.06 L160.03,737.07 L160.87,737.07 L161.72,737.07 L162.56,737.08 L163.40,737.08 L164.24,737.08 L165.09,737.08 L165.93,737.09 L166.77,737.09 L167.62,737.09 L168.46,737.09 L169.30,737.10 L170.15,737.10 L170.99,737.10 L171.83,737.11 L172.68,737.11 L173.52,737.11 L174.36,737.11 L175.21,737.12 L176.05,737.12 L176.89,737.12 L177.73,737.13 L178.58,737.13 L179.42,737.13 L180.26,737.14 L181.11,737.14 L181.95,737.14 L182.79,737.14 L183.64,737.15 L184.48,737.15 L185.32,737.15 L186.17,737.16 L187.01,737.16 L187.85,737.16 L188.69,737.17 L189.54,737.17 L190.38,737.17 L191.22,737.18 L192.07,737.18 L192.91,737.18 L193.75,737.18 L194.60,737.19 L195.44,737.19 L196.28,737.19 L197.13,737.20 L197.97,737.20 L198.81,737.20 L199.66,737.21 L200.50,737.21 L201.34,737.21 L202.18,737.22 L203.03,737.22 L203.87,737.22 L204.71,737.23 L205.56,737.23 L206.40,737.23 L207.24,737.24 L208.09,737.24 L208.93,737.24 L209.77,737.25 L210.62,737.25 L211.46,737.25 L212.30,737.26 L213.15,737.26 L213.99,737.26 L214.83,737.27 L215.67,737.27 L216.52,737.27 L217.36,737.28 L218.20,737.28 L219.05,737.28 L219.89,737.29 L220.73,737.29 L221.58,737.30 L222.42,737.30 L223.26,737.30 L224.11,737.31 L224.95,737.31 L225.79,737.31 L226.63,737.32 L227.48,737.32 L228.32,737.32 L229.16,737.33 L230.01,737.33 L230.85,737.33 L231.69,737.34 L232.54,737.34 L233.38,737.35 L234.22,737.35 L235.07,737.35 L235.91,737.36 L236.75,737.36 L237.60,737.36 L238.44,737.37 L239.28,737.37 L240.12,737.38 L240.97,737.38 L241.81,737.38 L242.65,737.39 L243.50,737.39 L244.34,737.40 L245.18,737.40 L246.03,737.40 L246.87,737.41 L247.71,737.41 L248.56,737.42 L249.40,737.42 L250.24,737.42 L251.08,737.43 L251.93,737.43 L252.77,737.44 L253.61,737.44 L254.46,737.44 L255.30,737.45 L256.14,737.45 L256.99,737.46 L257.83,737.46 L258.67,737.47 L259.52,737.47 L260.36,737.47 L261.20,737.48 L262.05,737.48 L262.89,737.49 L263.73,737.49 L264.57,737.50 L265.42,737.50 L266.26,737.50 L267.10,737.51 L267.95,737.51 L268.79,737.52 L269.63,737.52 L270.48,737.53 L271.32,737.53 L272.16,737.54 L273.01,737.54 L273.85,737.54 L274.69,737.55 L275.54,737.55 L276.38,737.56 L277.22,737.56 L278.06,737.57 L278.91,737.57 L279.75,737.58 L280.59,737.58 L281.44,737.59 L282.28,737.59 L283.12,737.60 L283.97,737.60 L284.81,737.61 L285.65,737.61 L286.50,737.62 L287.34,737.62 L288.18,737.63 L289.02,737.63 L289.87,737.64 L290.71,737.64 L291.55,737.65 L292.40,737.65 L293.24,737.66 L294.08,737.66 L294.93,737.67 L295.77,737.67 L296.61,737.68 L297.46,737.68 L298.30,737.69 L299.14,737.69 L299.99,737.70 L300.83,737.70 L301.67,737.71 L302.51,737.71 L303.36,737.72 L304.20,737.72 L305.04,737.73 L305.89,737.74 L306.73,737.74 L307.57,737.75 L308.42,737.75 L309.26,737.76 L310.10,737.76 L310.95,737.77 L311.79,737.78 L312.63,737.78 L313.47,737.79 L314.32,737.79 L315.16,737.80 L316.00,737.80 L316.85,737.81 L317.69,737.82 L318.53,737.82 L319.38,737.83 L320.22,737.83 L321.06,737.84 L321.91,737.85 L322.75,737.85 L323.59,737.86 L324.44,737.87 L325.28,737.87 L326.12,737.88 L326.96,737.88 L327.81,737.89 L328.65,737.90 L329.49,737.90 L330.34,737.91 L331.18,737.92 L332.02,737.92 L332.87,737.93 L333.71,737.94 L334.55,737.94 L335.40,737.95 L336.24,737.96 L337.08,737.96 L337.93,737.97 L338.77,737.98 L339.61,737.98 L340.45,737.99 L341.30,738.00 L342.14,738.01 L342.98,738.01 L343.83,738.02 L344.67,738.03 L345.51,738.03 L346.36,738.04 L347.20,738.05 L348.04,738.06 L348.89,738.06 L349.73,738.07 L350.57,738.08 L351.41,738.09 L352.26,738.10 L353.10,738.10 L353.94,738.11 L354.79,738.12 L355.63,738.13 L356.47,738.13 L357.32,738.14 L358.16,738.15 L359.00,738.16 L359.85,738.17 L360.69,738.18 L361.53,738.18 L362.38,738.19 L363.22,738.20 L364.06,738.21 L364.90,738.22 L365.75,738.23 L366.59,738.24 L367.43,738.24 L368.28,738.25 L369.12,738.26 L369.96,738.27 L370.81,738.28 L371.65,738.29 L372.49,738.30 L373.34,738.31 L374.18,738.32 L375.02,738.33 L375.86,738.34 L376.71,738.35 L377.55,738.36 L378.39,738.37 L379.24,738.38 L380.08,738.39 L380.92,738.40 L381.77,738.41 L382.61,738.42 L383.45,738.43 L384.30,738.44 L385.14,738.45 L385.98,738.46 L386.83,738.47 L387.67,738.48 L388.51,738.49 L389.35,738.50 L390.20,738.52 L391.04,738.53 L391.88,738.54 L392.73,738.55 L393.57,738.56 L394.41,738.57 L395.26,738.59 L396.10,738.60 L396.94,738.61 L397.79,738.62 L398.63,738.63 L399.47,738.65 L400.32,738.66 L401.16,738.67 L402.00,738.69 L402.84,738.70 L403.69,738.71 L404.53,738.73 L405.37,738.74 L406.22,738.75 L407.06,738.77 L407.90,738.78 L408.75,738.80 L409.59,738.81 L410.43,738.83 L411.28,738.84 L412.12,738.86 L412.96,738.87 L413.80,738.89 L414.65,738.90 L415.49,738.92 L416.33,738.93 L417.18,738.95 L418.02,738.97 L418.86,738.98 L419.71,739.00 L420.39,739.01 L421.39,739.03 L422.24,739.05 L423.08,739.07 L423.92,739.09 L424.77,739.11 L425.61,739.13 L426.45,739.15 L427.29,739.16 L428.14,739.18 L428.98,739.20 L429.80,739.22 L430.67,739.25 L431.51,739.27 L432.35,739.29 L433.20,739.31 L434.04,739.33 L434.88,739.36 L435.73,739.38 L436.57,739.40 L437.41,739.43 L438.01,739.44 L439.10,739.47 L439.94,739.50 L440.78,739.53 L441.63,739.55 L442.47,739.58 L443.31,739.61 L444.16,739.63 L445.00,739.66 L445.84,739.69 L446.69,739.72 L447.53,739.75 L448.37,739.79 L449.22,739.82 L450.06,739.85 L450.90,739.88 L451.74,739.92 L452.59,739.95 L453.43,739.99 L454.27,740.03 L455.12,740.07 L455.96,740.11 L456.80,740.15 L457.65,740.19 L458.49,740.23 L459.33,740.28 L460.18,740.33 L461.02,740.37 L461.59,740.41 L462.71,740.47 L463.55,740.53 L464.39,740.58 L465.23,740.64 L466.08,740.70 L466.92,740.76 L467.76,740.83 L468.61,740.89 L469.33,740.95 L470.29,741.04 L471.14,741.12 L471.98,741.20 L472.82,741.28 L473.67,741.37 L474.51,741.47 L475.22,741.55 L476.19,741.68 L477.04,741.79 L477.61,741.88 L478.72,742.05 L479.57,742.19 L480.41,742.34 L481.25,742.51 L482.10,742.69 L482.94,742.89 L483.78,743.12 L484.48,743.32 L485.47,743.65 L486.31,743.97 L486.74,744.15 L487.16,744.34 L487.66,744.59 L488.46,745.06 L488.84,745.31 L489.68,745.97 L490.29,746.56 L490.75,747.10 L491.16,747.66 L491.51,748.24 L491.81,748.83 L492.08,749.44 L492.31,750.07 L492.52,750.70 L492.69,751.36 L492.85,752.02 L492.98,752.69 L493.10,753.36 L493.20,754.04 L493.29,754.73 L493.37,755.41 L493.44,756.09 L493.50,756.77 L493.55,757.44 L493.59,758.10 L493.63,758.75 L493.67,759.40 L493.70,760.02 L493.72,760.63 L493.75,761.23 L493.78,762.37 L493.81,763.44 L493.83,764.42 L493.85,765.33 L493.86,766.15 L493.87,766.90 L493.88,767.58 L493.88,768.19 L493.89,768.98 L493.89,769.65 L493.90,770.37 L493.90,771.05 L493.90,772.79" stroke="#9400D3"/>
<path d="M157.50,737.58 L160.33,737.73 L163.15,737.88 L165.98,738.04 L168.81,738.19 L171.63,738.35 L174.46,738.51 L177.29,738.67 L180.12,738.84 L182.94,739.00 L185.77,739.17 L188.60,739.34 L191.42,739.51 L194.25,739.68 L197.08,739.85 L199.90,740.03 L202.73,740.21 L205.56,740.39 L208.38,740.57 L211.21,740.75 L214.04,740.93 L216.86,741.12 L219.69,741.31 L222.52,741.50 L225.35,741.69 L228.17,741.88 L231.00,742.08 L233.83,742.28 L236.65,742.48 L239.48,742.68 L242.31,742.88 L245.13,743.09 L247.96,743.30 L250.79,743.51 L253.61,743.72 L256.44,743.94 L259.27,744.15 L262.09,744.37 L264.92,744.59 L267.75,744.82 L270.58,745.04 L273.40,745.27 L276.23,745.50 L279.06,745.74 L281.88,745.97 L284.71,746.21 L287.54,746.45 L290.36,746.69 L293.19,746.94 L296.02,747.18 L298.84,747.43 L301.67,747.69 L304.50,747.94 L307.33,748.20 L310.15,748.46 L312.98,748.72 L315.81,748.99 L318.63,749.26 L321.46,749.53 L324.29,749.80 L327.11,750.08 L329.94,750.36 L332.77,750.64 L335.59,750.93 L338.42,751.22 L341.25,751.51 L344.07,751.81 L346.90,752.10 L349.73,752.40 L352.56,752.71 L355.38,753.02 L358.21,753.33 L361.04,753.64 L363.86,753.96 L366.69,754.28 L369.52,754.60 L372.34,754.93 L375.17,755.26 L378.00,755.59 L380.82,755.93 L383.65,756.27 L386.48,756.61 L389.31,756.96 L392.13,757.31 L394.96,757.67 L397.79,758.03 L400.61,758.39 L403.44,758.76 L406.27,759.13 L409.09,759.50 L411.92,759.88 L414.75,760.26 L417.57,760.65 L420.40,761.04 L423.23,761.43 L426.05,761.83 L428.88,762.24 L431.71,762.64 L434.54,763.06 L437.36,763.47 L440.19,763.89 L443.02,764.32 L445.84,764.75 L448.67,765.18 L451.50,765.62 L454.32,766.06 L457.15,766.51 L459.98,766.96 L462.80,767.42 L465.63,767.88 L468.46,768.35 L471.28,768.82 L474.11,769.30 L476.94,769.78 L479.77,770.27 L482.59,770.77 L485.42,771.26 L488.25,771.77 L491.07,772.28 L493.90,772.79" stroke="#9400D3" stroke-dasharray="5.3,6.6"/>
<path d="M157.50,736.54 L159.19,736.54 L160.87,736.55 L162.56,736.55 L164.24,736.55 L165.93,736.56 L167.62,736.56 L169.30,736.56 L170.99,736.57 L172.68,736.57 L174.36,736.57 L176.05,736.58 L177.73,736.58 L179.42,736.59 L181.11,736.59 L182.79,736.59 L184.48,736.60 L186.17,736.60 L187.85,736.60 L189.54,736.61 L191.22,736.61 L192.91,736.61 L194.60,736.62 L196.28,736.62 L197.97,736.62 L199.66,736.63 L201.34,736.63 L203.03,736.64 L204.71,736.64 L206.40,736.64 L208.09,736.65 L209.77,736.65 L211.46,736.65 L213.15,736.66 L214.83,736.66 L216.52,736.67 L218.20,736.67 L219.89,736.67 L221.58,736.68 L223.26,736.68 L224.95,736.69 L226.63,736.69 L228.32,736.69 L230.01,736.70 L231.69,736.70 L233.38,736.71 L235.07,736.71 L236.75,736.71 L238.44,736.72 L240.12,736.72 L241.81,736.73 L243.50,736.73 L245.18,736.73 L246.87,736.74 L248.56,736.74 L250.24,736.75 L251.93,736.75 L253.61,736.76 L255.30,736.76 L256.99,736.76 L258.67,736.77 L260.36,736.77 L262.05,736.78 L263.73,736.78 L265.42,736.79 L267.10,736.79 L268.79,736.79 L270.48,736.80 L272.16,736.80 L273.85,736.81 L275.54,736.81 L277.22,736.82 L278.91,736.82 L280.59,736.83 L282.28,736.83 L283.97,736.84 L285.65,736.84 L287.34,736.85 L289.02,736.85 L290.71,736.85 L292.40,736.86 L294.08,736.86 L295.77,736.87 L297.46,736.87 L299.14,736.88 L300.83,736.88 L302.51,736.89 L304.20,736.89 L305.89,736.90 L307.57,736.90 L309.26,736.91 L310.95,736.91 L312.63,736.92 L314.32,736.92 L316.00,736.93 L317.69,736.93 L319.38,736.94 L321.06,736.95 L322.75,736.95 L324.44,736.96 L326.12,736.96 L327.81,736.97 L329.49,736.97 L331.18,736.98 L332.87,736.98 L334.55,736.99 L336.24,736.99 L337.93,737.00 L339.61,737.01 L341.30,737.01 L342.98,737.02 L344.67,737.02 L346.36,737.03 L348.04,737.03 L349.73,737.04 L351.41,737.05 L353.10,737.05 L354.79,737.06 L356.47,737.06 L358.16,737.07 L359.85,737.07 L361.53,737.08 L363.22,737.09 L364.90,737.09 L366.59,737.10 L368.28,737.11 L369.96,737.11 L371.65,737.12 L373.34,737.12 L375.02,737.13 L376.71,737.14 L378.39,737.14 L380.08,737.15 L381.77,737.16 L383.45,737.16 L385.14,737.17 L386.83,737.18 L388.51,737.18 L390.20,737.19 L391.88,737.20 L393.57,737.20 L395.26,737.21 L396.94,737.22 L398.63,737.22 L400.32,737.23 L402.00,737.24 L403.69,737.24 L405.37,737.25 L407.06,737.26 L408.75,737.26 L410.43,737.27 L412.12,737.28 L413.80,737.29 L415.49,737.29 L417.18,737.30 L418.86,737.31 L420.55,737.32 L422.24,737.32 L423.92,737.33 L425.61,737.34 L427.29,737.35 L428.98,737.35 L430.67,737.36 L432.35,737.37 L434.04,737.38 L435.73,737.39 L437.41,737.39 L439.10,737.40 L440.78,737.41 L442.47,737.42 L444.16,737.43 L445.84,737.43 L447.53,737.44 L449.22,737.45 L450.90,737.46 L452.59,737.47 L454.27,737.48 L455.96,737.48 L457.65,737.49 L459.33,737.50 L461.02,737.51 L462.71,737.52 L464.39,737.53 L466.08,737.54 L467.76,737.55 L469.45,737.56 L471.14,737.56 L472.82,737.57 L474.51,737.58 L476.19,737.59 L477.88,737.60 L479.57,737.61 L481.25,737.62 L482.94,737.63 L484.63,737.64 L486.31,737.65 L488.00,737.66 L489.68,737.67 L491.37,737.68 L493.06,737.69 L494.74,737.70 L496.43,737.71 L498.12,737.72 L499.80,737.73 L501.49,737.74 L503.17,737.75 L504.86,737.76 L506.55,737.77 L508.23,737.78 L509.92,737.80 L511.61,737.81 L513.29,737.82 L514.98,737.83 L516.66,737.84 L518.35,737.85 L520.04,737.86 L521.72,737.87 L523.41,737.89 L525.09,737.90 L526.78,737.91 L528.47,737.92 L530.15,737.93 L531.84,737.95 L533.53,737.96 L535.21,737.97 L536.90,737.98 L538.58,738.00 L540.27,738.01 L541.96,738.02 L543.64,738.03 L545.33,738.05 L547.02,738.06 L548.70,738.07 L550.39,738.09 L552.07,738.10 L553.76,738.11 L555.45,738.13 L557.13,738.14 L558.82,738.15 L560.51,738.17 L562.19,738.18 L563.88,738.20 L565.56,738.21 L567.25,738.23 L568.94,738.24 L570.62,738.26 L572.31,738.27 L574.00,738.29 L575.68,738.30 L577.37,738.32 L579.05,738.33 L580.74,738.35 L582.43,738.36 L584.11,738.38 L585.80,738.40 L587.48,738.41 L589.17,738.43 L590.86,738.45 L592.54,738.46 L594.23,738.48 L595.92,738.50 L597.60,738.52 L599.29,738.53 L600.97,738.55 L602.66,738.57 L604.35,738.59 L606.03,738.61 L607.72,738.62 L609.41,738.64 L611.09,738.66 L612.78,738.68 L614.46,738.70 L616.15,738.72 L617.84,738.74 L619.52,738.76 L621.21,738.78 L622.90,738.80 L624.58,738.82 L626.27,738.84 L627.95,738.87 L629.64,738.89 L631.33,738.91 L633.01,738.93 L634.70,738.95 L636.39,738.98 L638.07,739.00 L639.76,739.02 L641.44,739.05 L643.13,739.07 L644.82,739.09 L646.50,739.12 L648.19,739.14 L649.87,739.17 L651.56,739.19 L653.25,739.22 L654.93,739.25 L656.62,739.27 L658.31,739.30 L659.99,739.33 L661.68,739.35 L663.36,739.38 L665.05,739.41 L666.74,739.44 L668.42,739.47 L670.11,739.50 L671.80,739.53 L673.48,739.56 L675.17,739.59 L676.85,739.62 L678.54,739.65 L680.23,739.68 L681.91,739.72 L683.60,739.75 L685.29,739.78 L686.97,739.82 L688.66,739.85 L690.34,739.89 L692.03,739.93 L693.72,739.96 L695.40,740.00 L697.09,740.04 L698.78,740.08 L700.46,740.12 L702.15,740.16 L703.83,740.20 L705.52,740.24 L707.21,740.28 L708.89,740.33 L710.58,740.37 L712.26,740.42 L713.95,740.46 L715.64,740.51 L717.32,740.56 L719.01,740.61 L720.70,740.65 L722.38,740.71 L724.07,740.76 L725.75,740.81 L727.44,740.87 L729.13,740.92 L730.81,740.98 L732.50,741.04 L734.19,741.10 L735.87,741.16 L737.56,741.22 L739.24,741.28 L740.93,741.35 L742.62,741.42 L744.30,741.49 L745.99,741.56 L747.68,741.63 L749.36,741.70 L751.05,741.78 L752.73,741.86 L754.42,741.94 L756.11,742.03 L756.79,742.06 L757.79,742.11 L759.48,742.20 L761.17,742.30 L762.85,742.39 L764.54,742.49 L766.20,742.59 L767.91,742.70 L769.60,742.81 L771.28,742.93 L772.97,743.05 L774.41,743.15 L776.34,743.30 L778.03,743.44 L779.71,743.58 L781.40,743.73 L783.09,743.88 L784.77,744.04 L786.46,744.21 L787.80,744.36 L789.83,744.59 L791.52,744.79 L793.20,745.00 L794.89,745.23 L796.58,745.48 L797.99,745.69 L799.95,746.02 L801.63,746.32 L803.32,746.65 L805.01,747.01 L805.73,747.18 L806.69,747.41 L808.38,747.85 L808.88,747.98 L810.07,748.33 L811.62,748.83 L813.44,749.50 L814.01,749.73 L815.12,750.21 L816.10,750.67 L816.81,751.04 L817.91,751.67 L818.50,752.04 L819.50,752.73 L820.18,753.25 L820.88,753.84 L821.87,754.79 L823.14,756.25 L823.56,756.82 L824.06,757.56 L824.86,758.93 L825.24,759.70 L825.55,760.37 L826.16,761.89 L826.69,763.47 L826.93,764.29 L827.15,765.13 L827.56,766.86 L827.91,768.66 L828.21,770.53 L828.48,772.46 L828.61,773.56 L828.71,774.45 L828.92,776.50 L829.09,778.59 L829.25,780.72 L829.38,782.88 L829.50,785.06 L829.60,787.24 L829.69,789.43 L829.77,791.59 L829.84,793.73 L829.90,795.83 L829.95,797.88 L829.99,799.87 L830.03,801.80 L830.07,803.65 L830.10,805.42 L830.12,807.11 L830.15,808.71 L830.17,810.23 L830.18,811.66 L830.20,813.01 L830.21,814.27 L830.22,815.46 L830.23,816.56 L830.24,817.60 L830.25,818.56 L830.25,819.46 L830.26,820.30 L830.27,821.08 L830.27,821.80 L830.27,822.47 L830.28,823.10 L830.28,824.22 L830.29,825.19 L830.29,826.03 L830.29,826.75 L830.29,827.38 L830.30,828.16 L830.30,828.80 L830.30,831.49" stroke="#0000FF"/>
<path d="M157.50,737.58 L163.15,737.75 L168.81,737.92 L174.46,738.10 L180.12,738.29 L185.77,738.47 L191.42,738.66 L197.08,738.86 L202.73,739.05 L208.38,739.26 L214.04,739.46 L219.69,739.67 L225.35,739.89 L231.00,740.11 L236.65,740.33 L242.31,740.56 L247.96,740.79 L253.61,741.03 L259.27,741.28 L264.92,741.52 L270.58,741.78 L276.23,742.03 L281.88,742.30 L287.54,742.57 L293.19,742.84 L298.84,743.12 L304.50,743.41 L310.15,743.70 L315.81,744.00 L321.46,744.30 L327.11,744.61 L332.77,744.93 L338.42,745.25 L344.07,745.58 L349.73,745.92 L355.38,746.26 L361.04,746.61 L366.69,746.97 L372.34,747.34 L378.00,747.71 L383.65,748.09 L389.31,748.48 L394.96,748.88 L400.61,749.28 L406.27,749.70 L411.92,750.12 L417.57,750.55 L423.23,751.00 L428.88,751.45 L434.54,751.91 L440.19,752.38 L445.84,752.86 L451.50,753.35 L457.15,753.85 L462.80,754.36 L468.46,754.89 L474.11,755.42 L479.77,755.97 L485.42,756.53 L491.07,757.10 L496.73,757.68 L502.38,758.27 L508.03,758.88 L513.69,759.50 L519.34,760.14 L525.00,760.79 L530.65,761.45 L536.30,762.13 L541.96,762.83 L547.61,763.53 L553.26,764.26 L558.92,765.00 L564.57,765.76 L570.23,766.53 L575.88,767.33 L581.53,768.14 L587.19,768.97 L592.84,769.81 L598.49,770.68 L604.15,771.57 L609.80,772.47 L615.46,773.40 L621.11,774.35 L626.76,775.32 L632.42,776.32 L638.07,777.34 L643.73,778.38 L649.38,779.44 L655.03,780.53 L660.69,781.65 L666.34,782.79 L671.99,783.96 L677.65,785.16 L683.30,786.39 L688.96,787.64 L694.61,788.93 L700.26,790.24 L705.92,791.59 L711.57,792.97 L717.22,794.39 L722.88,795.84 L728.53,797.33 L734.19,798.85 L739.84,800.41 L745.49,802.01 L751.15,803.65 L756.80,805.33 L762.45,807.05 L768.11,808.81 L773.76,810.62 L779.42,812.48 L785.07,814.38 L790.72,816.33 L796.38,818.34 L802.03,820.39 L807.68,822.50 L813.34,824.66 L818.99,826.88 L824.65,829.15 L830.30,831.49" stroke="#0000FF" stroke-dasharray="5.3,6.6"/>
<path d="M157.50,736.17 L159.61,736.17 L161.72,736.18 L163.82,736.18 L165.93,736.18 L168.04,736.18 L170.15,736.19 L172.25,736.19 L174.36,736.19 L176.47,736.19 L178.58,736.20 L180.69,736.20 L182.79,736.20 L184.90,736.21 L187.01,736.21 L189.12,736.21 L191.22,736.22 L193.33,736.22 L195.44,736.22 L197.55,736.22 L199.66,736.23 L201.76,736.23 L203.87,736.23 L205.98,736.24 L208.09,736.24 L210.19,736.24 L212.30,736.25 L214.41,736.25 L216.52,736.25 L218.63,736.25 L220.73,736.26 L222.84,736.26 L224.95,736.26 L227.06,736.27 L229.16,736.27 L231.27,736.27 L233.38,736.28 L235.49,736.28 L237.60,736.28 L239.70,736.29 L241.81,736.29 L243.92,736.29 L246.03,736.30 L248.13,736.30 L250.24,736.30 L252.35,736.31 L254.46,736.31 L256.57,736.31 L258.67,736.32 L260.78,736.32 L262.89,736.32 L265.00,736.33 L267.10,736.33 L269.21,736.34 L271.32,736.34 L273.43,736.34 L275.54,736.35 L277.64,736.35 L279.75,736.35 L281.86,736.36 L283.97,736.36 L286.07,736.37 L288.18,736.37 L290.29,736.37 L292.40,736.38 L294.51,736.38 L296.61,736.38 L298.72,736.39 L300.83,736.39 L302.94,736.40 L305.04,736.40 L307.15,736.40 L309.26,736.41 L311.37,736.41 L313.47,736.42 L315.58,736.42 L317.69,736.42 L319.80,736.43 L321.91,736.43 L324.01,736.44 L326.12,736.44 L328.23,736.45 L330.34,736.45 L332.44,736.45 L334.55,736.46 L336.66,736.46 L338.77,736.47 L340.88,736.47 L342.98,736.48 L345.09,736.48 L347.20,736.48 L349.31,736.49 L351.41,736.49 L353.52,736.50 L355.63,736.50 L357.74,736.51 L359.85,736.51 L361.95,736.52 L364.06,736.52 L366.17,736.53 L368.28,736.53 L370.38,736.54 L372.49,736.54 L374.60,736.55 L376.71,736.55 L378.82,736.55 L380.92,736.56 L383.03,736.56 L385.14,736.57 L387.25,736.57 L389.35,736.58 L391.46,736.59 L393.57,736.59 L395.68,736.60 L397.79,736.60 L399.89,736.61 L402.00,736.61 L404.11,736.62 L406.22,736.62 L408.32,736.63 L410.43,736.63 L412.54,736.64 L414.65,736.64 L416.76,736.65 L418.86,736.65 L420.97,736.66 L423.08,736.67 L425.19,736.67 L427.29,736.68 L429.40,736.68 L431.51,736.69 L433.62,736.69 L435.73,736.70 L437.83,736.71 L439.94,736.71 L442.05,736.72 L444.16,736.72 L446.26,736.73 L448.37,736.74 L450.48,736.74 L452.59,736.75 L454.70,736.76 L456.80,736.76 L458.91,736.77 L461.02,736.77 L463.13,736.78 L465.23,736.79 L467.34,736.79 L469.45,736.80 L471.56,736.81 L473.67,736.81 L475.77,736.82 L477.88,736.83 L479.99,736.83 L482.10,736.84 L484.20,736.85 L486.31,736.86 L488.42,736.86 L490.53,736.87 L492.64,736.88 L494.74,736.88 L496.85,736.89 L498.96,736.90 L501.07,736.91 L503.17,736.91 L505.28,736.92 L507.39,736.93 L509.50,736.94 L511.61,736.94 L513.71,736.95 L515.82,736.96 L517.93,736.97 L520.04,736.98 L522.14,736.98 L524.25,736.99 L526.36,737.00 L528.47,737.01 L530.58,737.02 L532.68,737.03 L534.79,737.03 L536.90,737.04 L539.01,737.05 L541.11,737.06 L543.22,737.07 L545.33,737.08 L547.44,737.09 L549.55,737.09 L551.65,737.10 L553.76,737.11 L555.87,737.12 L557.98,737.13 L560.08,737.14 L562.19,737.15 L564.30,737.16 L566.41,737.17 L568.52,737.18 L570.62,737.19 L572.73,737.20 L574.84,737.21 L576.95,737.22 L579.05,737.23 L581.16,737.24 L583.27,737.25 L585.38,737.26 L587.48,737.27 L589.59,737.28 L591.70,737.29 L593.81,737.30 L595.92,737.31 L598.02,737.32 L600.13,737.33 L602.24,737.35 L604.35,737.36 L606.45,737.37 L608.56,737.38 L610.67,737.39 L612.78,737.40 L614.89,737.42 L616.99,737.43 L619.10,737.44 L621.21,737.45 L623.32,737.46 L625.42,737.48 L627.53,737.49 L629.64,737.50 L631.75,737.51 L633.86,737.53 L635.96,737.54 L638.07,737.55 L640.18,737.57 L642.29,737.58 L644.39,737.59 L646.50,737.61 L648.61,737.62 L650.72,737.64 L652.83,737.65 L654.93,737.66 L657.04,737.68 L659.15,737.69 L661.26,737.71 L663.36,737.72 L665.47,737.74 L667.58,737.75 L669.69,737.77 L671.80,737.79 L673.90,737.80 L676.01,737.82 L678.12,737.83 L680.23,737.85 L682.33,737.87 L684.44,737.88 L686.55,737.90 L688.66,737.92 L690.77,737.94 L692.87,737.95 L694.98,737.97 L697.09,737.99 L699.20,738.01 L701.30,738.03 L703.41,738.04 L705.52,738.06 L707.63,738.08 L709.74,738.10 L711.84,738.12 L713.95,738.14 L716.06,738.16 L718.17,738.18 L720.27,738.20 L722.38,738.22 L724.49,738.25 L726.60,738.27 L728.71,738.29 L730.81,738.31 L732.92,738.33 L735.03,738.36 L737.14,738.38 L739.24,738.40 L741.35,738.43 L743.46,738.45 L745.57,738.47 L747.68,738.50 L749.78,738.52 L751.89,738.55 L754.00,738.58 L756.11,738.60 L758.21,738.63 L760.32,738.66 L762.43,738.68 L764.54,738.71 L766.65,738.74 L768.75,738.77 L770.86,738.80 L772.97,738.83 L775.08,738.86 L777.18,738.89 L779.29,738.92 L781.40,738.95 L783.51,738.98 L785.62,739.01 L787.72,739.05 L789.83,739.08 L791.94,739.11 L794.05,739.15 L796.15,739.18 L798.26,739.22 L800.37,739.26 L802.48,739.29 L804.59,739.33 L806.69,739.37 L808.80,739.41 L810.91,739.45 L813.02,739.49 L815.12,739.53 L817.23,739.57 L819.34,739.62 L821.45,739.66 L823.56,739.71 L825.66,739.75 L827.77,739.80 L829.88,739.85 L831.99,739.90 L834.09,739.95 L836.20,740.00 L838.31,740.05 L840.42,740.10 L842.53,740.16 L844.63,740.21 L846.74,740.27 L848.85,740.33 L850.96,740.38 L853.06,740.45 L855.17,740.51 L857.28,740.57 L859.39,740.64 L861.49,740.70 L863.60,740.77 L865.71,740.84 L867.82,740.91 L869.93,740.99 L872.03,741.06 L874.14,741.14 L876.25,741.22 L878.36,741.30 L880.46,741.39 L882.57,741.47 L884.68,741.56 L886.79,741.66 L888.90,741.75 L891.00,741.85 L893.11,741.95 L895.22,742.05 L897.33,742.16 L899.43,742.27 L901.54,742.39 L903.65,742.51 L905.76,742.63 L907.87,742.76 L909.97,742.89 L912.08,743.03 L914.19,743.17 L916.30,743.32 L918.40,743.48 L920.51,743.64 L922.62,743.81 L924.73,743.99 L926.84,744.17 L928.94,744.36 L931.05,744.57 L933.16,744.78 L934.40,744.91 L935.27,745.00 L937.37,745.24 L939.48,745.48 L941.59,745.75 L942.61,745.88 L943.70,746.02 L945.81,746.32 L947.91,746.63 L949.76,746.93 L952.13,747.32 L954.24,747.71 L956.00,748.05 L958.45,748.57 L960.56,749.05 L961.44,749.27 L962.67,749.58 L964.78,750.15 L966.19,750.57 L966.88,750.79 L968.99,751.49 L970.32,751.97 L971.10,752.27 L973.21,753.15 L973.93,753.48 L975.31,754.15 L977.08,755.10 L979.53,756.64 L981.64,758.22 L982.21,758.70 L983.75,760.13 L984.30,760.70 L985.85,762.51 L987.70,765.15 L987.96,765.57 L989.08,767.61 L990.07,769.73 L990.29,770.26 L991.34,773.09 L992.18,775.83 L993.06,779.37 L993.75,782.84 L994.28,786.05 L994.89,790.54 L995.35,794.80 L995.76,799.35 L996.11,804.20 L996.39,809.00 L996.68,814.91 L996.91,820.79 L997.12,827.02 L997.29,833.62 L997.45,840.54 L997.58,847.72 L997.70,855.02 L997.80,862.07 L997.89,868.20 L997.97,872.58 L998.04,875.09 L998.10,876.39 L998.15,877.10 L998.23,877.77 L998.37,878.25 L998.50,878.45" stroke="#006400"/>
<path d="M157.50,737.58 L164.57,737.72 L171.63,737.88 L178.70,738.04 L185.77,738.20 L192.84,738.36 L199.90,738.53 L206.97,738.71 L214.04,738.89 L221.11,739.07 L228.17,739.26 L235.24,739.45 L242.31,739.65 L249.37,739.85 L256.44,740.06 L263.51,740.27 L270.58,740.49 L277.64,740.72 L284.71,740.95 L291.78,741.18 L298.84,741.43 L305.91,741.67 L312.98,741.93 L320.05,742.19 L327.11,742.46 L334.18,742.74 L341.25,743.02 L348.32,743.31 L355.38,743.61 L362.45,743.91 L369.52,744.23 L376.58,744.55 L383.65,744.88 L390.72,745.22 L397.79,745.56 L404.85,745.92 L411.92,746.29 L418.99,746.66 L426.05,747.05 L433.12,747.45 L440.19,747.85 L447.26,748.27 L454.32,748.70 L461.39,749.14 L468.46,749.60 L475.53,750.06 L482.59,750.54 L489.66,751.03 L496.73,751.54 L503.79,752.05 L510.86,752.59 L517.93,753.13 L525.00,753.70 L532.06,754.27 L539.13,754.87 L546.20,755.48 L553.26,756.11 L560.33,756.75 L567.40,757.41 L574.47,758.10 L581.53,758.80 L588.60,759.52 L595.67,760.26 L602.74,761.03 L609.80,761.81 L616.87,762.62 L623.94,763.45 L631.00,764.31 L638.07,765.19 L645.14,766.09 L652.21,767.03 L659.27,767.99 L666.34,768.98 L673.41,769.99 L680.47,771.04 L687.54,772.12 L694.61,773.24 L701.68,774.38 L708.74,775.56 L715.81,776.78 L722.88,778.04 L729.95,779.33 L737.01,780.66 L744.08,782.04 L751.15,783.46 L758.21,784.92 L765.28,786.43 L772.35,787.98 L779.42,789.59 L786.48,791.25 L793.55,792.96 L800.62,794.73 L807.68,796.55 L814.75,798.43 L821.82,800.38 L828.89,802.39 L835.95,804.46 L843.02,806.61 L850.09,808.82 L857.16,811.11 L864.22,813.48 L871.29,815.93 L878.36,818.47 L885.42,821.09 L892.49,823.80 L899.56,826.61 L906.63,829.52 L913.69,832.53 L920.76,835.64 L927.83,838.87 L934.89,842.21 L941.96,845.68 L949.03,849.27 L956.10,852.99 L963.16,856.86 L970.23,860.86 L977.30,865.02 L984.37,869.33 L991.43,873.80 L998.50,878.45" stroke="#006400" stroke-dasharray="5.3,6.6"/>
<path d="M157.50,735.65 L159.61,735.65 L161.72,735.65 L163.82,735.65 L165.93,735.65 L168.04,735.65 L170.15,735.65 L172.25,735.65 L174.36,735.65 L176.47,735.65 L178.58,735.65 L180.69,735.66 L182.79,735.66 L184.90,735.66 L187.01,735.66 L189.12,735.66 L191.22,735.66 L193.33,735.66 L195.44,735.66 L197.55,735.66 L199.66,735.66 L201.76,735.66 L203.87,735.66 L205.98,735.66 L208.09,735.66 L210.19,735.66 L212.30,735.66 L214.41,735.67 L216.52,735.67 L218.63,735.67 L220.73,735.67 L222.84,735.67 L224.95,735.67 L227.06,735.67 L229.16,735.67 L231.27,735.67 L233.38,735.67 L235.49,735.67 L237.60,735.67 L239.70,735.67 L241.81,735.67 L243.92,735.67 L246.03,735.67 L248.13,735.67 L250.24,735.68 L252.35,735.68 L254.46,735.68 L256.57,735.68 L258.67,735.68 L260.78,735.68 L262.89,735.68 L265.00,735.68 L267.10,735.68 L269.21,735.68 L271.32,735.68 L273.43,735.68 L275.54,735.68 L277.64,735.68 L279.75,735.68 L281.86,735.68 L283.97,735.68 L286.07,735.68 L288.18,735.69 L290.29,735.69 L292.40,735.69 L294.51,735.69 L296.61,735.69 L298.72,735.69 L300.83,735.69 L302.94,735.69 L305.04,735.69 L307.15,735.69 L309.26,735.69 L311.37,735.69 L313.47,735.69 L315.58,735.69 L317.69,735.69 L319.80,735.69 L321.91,735.69 L324.01,735.69 L326.12,735.69 L328.23,735.69 L330.34,735.70 L332.44,735.70 L334.55,735.70 L336.66,735.70 L338.77,735.70 L340.88,735.70 L342.98,735.70 L345.09,735.70 L347.20,735.70 L349.31,735.70 L351.41,735.70 L353.52,735.70 L355.63,735.70 L357.74,735.70 L359.85,735.70 L361.95,735.70 L364.06,735.70 L366.17,735.70 L368.28,735.70 L370.38,735.70 L372.49,735.70 L374.60,735.70 L376.71,735.70 L378.82,735.70 L380.92,735.70 L383.03,735.70 L385.14,735.70 L387.25,735.70 L389.35,735.70 L391.46,735.70 L393.57,735.70 L395.68,735.71 L397.79,735.71 L399.89,735.71 L402.00,735.71 L404.11,735.71 L406.22,735.71 L408.32,735.71 L410.43,735.71 L412.54,735.71 L414.65,735.71 L416.76,735.71 L418.86,735.71 L420.97,735.71 L423.08,735.71 L425.19,735.71 L427.29,735.71 L429.40,735.71 L431.51,735.71 L433.62,735.71 L435.73,735.71 L437.83,735.70 L439.94,735.70 L442.05,735.70 L444.16,735.70 L446.26,735.70 L448.37,735.70 L450.48,735.70 L452.59,735.70 L454.70,735.70 L456.80,735.70 L458.91,735.70 L461.02,735.70 L463.13,735.70 L465.23,735.70 L467.34,735.70 L469.45,735.70 L471.56,735.70 L473.67,735.70 L475.77,735.70 L477.88,735.70 L479.99,735.70 L482.10,735.70 L484.20,735.69 L486.31,735.69 L488.42,735.69 L490.53,735.69 L492.64,735.69 L494.74,735.69 L496.85,735.69 L498.96,735.69 L501.07,735.69 L503.17,735.69 L505.28,735.68 L507.39,735.68 L509.50,735.68 L511.61,735.68 L513.71,735.68 L515.82,735.68 L517.93,735.68 L520.04,735.68 L522.14,735.67 L524.25,735.67 L526.36,735.67 L528.47,735.67 L530.58,735.67 L532.68,735.66 L534.79,735.66 L536.90,735.66 L539.01,735.66 L541.11,735.66 L543.22,735.65 L545.33,735.65 L547.44,735.65 L549.55,735.65 L551.65,735.64 L553.76,735.64 L555.87,735.64 L557.98,735.64 L560.08,735.63 L562.19,735.63 L564.30,735.63 L566.41,735.62 L568.52,735.62 L570.62,735.62 L572.73,735.61 L574.84,735.61 L576.95,735.61 L579.05,735.60 L581.16,735.60 L583.27,735.60 L585.38,735.59 L587.48,735.59 L589.59,735.58 L591.70,735.58 L593.81,735.57 L595.92,735.57 L598.02,735.56 L600.13,735.56 L602.24,735.55 L604.35,735.55 L606.45,735.54 L608.56,735.54 L610.67,735.53 L612.78,735.52 L614.89,735.52 L616.99,735.51 L619.10,735.50 L621.21,735.50 L623.32,735.49 L625.42,735.48 L627.53,735.48 L629.64,735.47 L631.75,735.46 L633.86,735.45 L635.96,735.44 L638.07,735.43 L640.18,735.42 L642.29,735.41 L644.39,735.41 L646.50,735.40 L648.61,735.38 L650.72,735.37 L652.83,735.36 L654.93,735.35 L657.04,735.34 L659.15,735.33 L661.26,735.31 L663.36,735.30 L665.47,735.29 L667.58,735.27 L669.69,735.26 L671.80,735.24 L673.90,735.23 L676.01,735.21 L678.12,735.20 L680.23,735.18 L682.33,735.16 L684.44,735.14 L686.55,735.12 L688.66,735.11 L690.77,735.08 L692.87,735.06 L694.98,735.04 L697.09,735.02 L699.20,735.00 L701.30,734.97 L703.41,734.95 L705.52,734.92 L707.63,734.89 L709.74,734.86 L711.84,734.83 L713.95,734.80 L716.06,734.77 L718.17,734.74 L720.27,734.70 L722.38,734.67 L724.49,734.63 L726.60,734.59 L728.71,734.55 L730.81,734.51 L732.92,734.46 L735.03,734.41 L737.14,734.36 L739.24,734.31 L741.35,734.26 L743.46,734.20 L745.57,734.14 L747.68,734.08 L749.78,734.02 L751.89,733.95 L754.00,733.87 L756.11,733.80 L756.79,733.77 L758.21,733.72 L760.32,733.63 L762.43,733.54 L764.54,733.44 L766.20,733.36 L768.75,733.23 L770.86,733.12 L772.97,732.99 L774.41,732.91 L775.08,732.86 L777.18,732.72 L779.29,732.57 L781.40,732.41 L783.51,732.23 L785.62,732.04 L787.72,731.84 L789.83,731.61 L791.94,731.37 L793.24,731.21 L794.05,731.10 L796.15,730.81 L797.99,730.52 L800.37,730.12 L802.12,729.78 L804.59,729.25 L805.73,728.97 L806.69,728.72 L808.80,728.12 L810.91,727.41 L811.62,727.15 L813.02,726.58 L814.01,726.13 L815.12,725.58 L816.10,725.04 L817.23,724.35 L817.91,723.88 L819.34,722.79 L820.88,721.35 L821.45,720.74 L822.09,719.98 L823.14,718.54 L823.56,717.89 L824.06,717.04 L824.86,715.48 L825.55,713.88 L826.16,712.25 L826.69,710.60 L827.15,708.94 L827.56,707.29 L827.77,706.32 L827.91,705.67 L828.21,704.10 L828.48,702.58 L828.71,701.14 L828.92,699.78 L829.09,698.51 L829.25,697.34 L829.38,696.27 L829.50,695.30 L829.60,694.41 L829.69,693.62 L829.77,692.91 L829.84,692.28 L829.90,691.72 L829.99,690.78 L830.07,690.05 L830.12,689.49 L830.18,688.88 L830.24,688.28 L830.29,687.72 L830.35,687.11 L830.42,686.40 L830.48,685.76 L830.53,685.15 L830.61,684.34 L830.70,683.27 L830.76,682.61 L830.83,681.85 L830.91,680.98 L831.00,679.98 L831.10,678.83 L831.22,677.52 L831.35,676.03 L831.51,674.35 L831.68,672.48 L831.89,670.41 L831.99,669.43 L832.12,668.15 L832.39,665.72 L832.69,663.15 L833.04,660.47 L833.45,657.73 L833.91,654.97 L834.09,653.97 L834.44,652.22 L835.05,649.52 L835.74,646.89 L836.20,645.38 L836.54,644.35 L837.46,641.92 L838.31,640.02 L838.51,639.60 L839.72,637.41 L840.42,636.31 L841.10,635.33 L842.53,633.56 L844.50,631.54 L846.59,629.82 L848.85,628.30 L850.96,627.10 L851.72,626.71 L853.06,626.08 L854.87,625.32 L857.28,624.42 L858.48,624.02 L859.39,623.73 L861.49,623.11 L862.61,622.81 L863.60,622.56 L865.71,622.06 L867.36,621.70 L869.93,621.18 L872.03,620.80 L872.80,620.67 L874.14,620.45 L876.25,620.12 L878.36,619.82 L879.04,619.73 L880.46,619.54 L882.57,619.27 L884.68,619.03 L886.19,618.86 L886.79,618.80 L888.90,618.58 L891.00,618.38 L893.11,618.19 L894.40,618.08 L895.22,618.01 L897.33,617.84 L899.43,617.68 L901.54,617.53 L903.65,617.38 L905.76,617.25 L907.87,617.12 L909.97,616.99 L912.08,616.88 L914.19,616.77 L916.30,616.66 L918.40,616.56 L920.51,616.46 L922.62,616.37 L924.73,616.29 L926.84,616.20 L928.94,616.13 L931.05,616.05 L933.16,615.98 L935.27,615.91 L937.37,615.85 L939.48,615.79 L941.59,615.73 L943.70,615.67 L945.81,615.62 L947.91,615.57 L950.02,615.52 L952.13,615.48 L954.24,615.44 L956.34,615.40 L958.45,615.36 L960.56,615.33 L962.67,615.29 L964.78,615.26 L966.88,615.23 L968.99,615.21 L971.10,615.18 L973.21,615.16 L975.31,615.14 L977.42,615.12 L979.53,615.10 L981.64,615.09 L983.75,615.07 L985.85,615.06 L987.96,615.05 L990.07,615.05 L992.18,615.04 L994.28,615.04 L996.39,615.03 L998.50,615.03" stroke="#C8C800"/>
<path d="M157.50,737.58 L164.57,737.67 L171.63,737.77 L178.70,737.87 L185.77,737.97 L192.84,738.08 L199.90,738.19 L206.97,738.30 L214.04,738.41 L221.11,738.53 L228.17,738.65 L235.24,738.78 L242.31,738.90 L249.37,739.03 L256.44,739.17 L263.51,739.30 L270.58,739.44 L277.64,739.59 L284.71,739.73 L291.78,739.88 L298.84,740.04 L305.91,740.20 L312.98,740.36 L320.05,740.53 L327.11,740.70 L334.18,740.88 L341.25,741.06 L348.32,741.24 L355.38,741.44 L362.45,741.63 L369.52,741.83 L376.58,742.04 L383.65,742.25 L390.72,742.47 L397.79,742.69 L404.85,742.92 L411.92,743.15 L418.99,743.39 L426.05,743.64 L433.12,743.89 L440.19,744.15 L447.26,744.42 L454.32,744.70 L461.39,744.98 L468.46,745.27 L475.53,745.57 L482.59,745.87 L489.66,746.19 L496.73,746.51 L503.79,746.84 L510.86,747.18 L517.93,747.53 L525.00,747.89 L532.06,748.26 L539.13,748.64 L546.20,749.03 L553.26,749.43 L560.33,749.85 L567.40,750.27 L574.47,750.71 L581.53,751.16 L588.60,751.62 L595.67,752.09 L602.74,752.58 L609.80,753.09 L616.87,753.60 L623.94,754.14 L631.00,754.68 L638.07,755.25 L645.14,755.83 L652.21,756.42 L659.27,757.04 L666.34,757.67 L673.41,758.32 L680.47,758.99 L687.54,759.69 L694.61,760.40 L701.68,761.13 L708.74,761.89 L715.81,762.67 L722.88,763.47 L729.95,764.30 L737.01,765.15 L744.08,766.03 L751.15,766.94 L758.21,767.88 L765.28,768.84 L772.35,769.84 L779.42,770.87 L786.48,771.93 L793.55,773.02 L800.62,774.15 L807.68,775.32 L814.75,776.52 L821.82,777.77 L828.89,779.05 L835.95,780.38 L843.02,781.75 L850.09,783.17 L857.16,784.64 L864.22,786.16 L871.29,787.72 L878.36,789.35 L885.42,791.02 L892.49,792.76 L899.56,794.56 L906.63,796.42 L913.69,798.34 L920.76,800.34 L927.83,802.40 L934.89,804.54 L941.96,806.76 L949.03,809.06 L956.10,811.44 L963.16,813.91 L970.23,816.48 L977.30,819.14 L984.37,821.90 L991.43,824.76 L998.50,827.74" stroke="#C8C800" stroke-dasharray="5.3,6.6"/>
<path d="M157.50,733.43 L159.61,733.42 L161.72,733.40 L163.82,733.39 L165.93,733.37 L168.04,733.36 L170.15,733.34 L172.25,733.33 L174.36,733.31 L176.47,733.30 L178.58,733.28 L180.69,733.27 L182.79,733.25 L184.90,733.24 L187.01,733.22 L189.12,733.20 L191.22,733.19 L193.33,733.17 L195.44,733.15 L197.55,733.14 L199.66,733.12 L201.76,733.10 L203.87,733.08 L205.98,733.06 L208.09,733.05 L210.19,733.03 L212.30,733.01 L214.41,732.99 L216.52,732.97 L218.63,732.95 L220.73,732.93 L222.84,732.91 L224.95,732.89 L227.06,732.87 L229.16,732.85 L231.27,732.83 L233.38,732.80 L235.49,732.78 L237.60,732.76 L239.70,732.74 L241.81,732.71 L243.92,732.69 L246.03,732.67 L248.13,732.64 L250.24,732.62 L252.35,732.59 L254.46,732.57 L256.57,732.54 L258.67,732.51 L260.78,732.49 L262.89,732.46 L265.00,732.43 L267.10,732.40 L269.21,732.38 L271.32,732.35 L273.43,732.32 L275.54,732.29 L277.64,732.26 L279.75,732.23 L281.86,732.19 L283.97,732.16 L286.07,732.13 L288.18,732.10 L290.29,732.06 L292.40,732.03 L294.51,731.99 L296.61,731.96 L298.72,731.92 L300.83,731.88 L302.94,731.84 L305.04,731.81 L307.15,731.77 L309.26,731.73 L311.37,731.68 L313.47,731.64 L315.58,731.60 L317.69,731.56 L319.80,731.51 L321.91,731.47 L324.01,731.42 L326.12,731.37 L328.23,731.32 L330.34,731.27 L332.44,731.22 L334.55,731.17 L336.66,731.12 L338.77,731.06 L340.88,731.01 L342.98,730.95 L345.09,730.89 L347.20,730.83 L349.31,730.77 L351.41,730.71 L353.52,730.65 L355.63,730.58 L357.74,730.51 L359.85,730.44 L361.95,730.37 L364.06,730.30 L366.17,730.22 L368.28,730.15 L370.38,730.07 L372.49,729.99 L374.60,729.90 L376.71,729.82 L378.82,729.73 L380.92,729.63 L383.03,729.54 L385.14,729.44 L387.25,729.34 L389.35,729.24 L391.46,729.13 L393.57,729.02 L395.68,728.90 L397.79,728.78 L399.89,728.66 L402.00,728.53 L404.11,728.40 L406.22,728.26 L408.32,728.11 L409.60,728.02 L410.43,727.96 L412.54,727.81 L414.65,727.64 L416.76,727.47 L418.86,727.30 L420.39,727.16 L420.97,727.11 L423.08,726.92 L425.19,726.71 L427.29,726.50 L429.40,726.28 L431.51,726.04 L433.62,725.79 L435.73,725.53 L437.83,725.25 L439.94,724.95 L442.05,724.64 L444.16,724.30 L445.16,724.13 L446.26,723.94 L448.37,723.56 L450.48,723.15 L451.40,722.96 L452.59,722.71 L454.70,722.23 L456.80,721.71 L458.91,721.14 L461.02,720.52 L461.59,720.34 L463.13,719.83 L465.23,719.07 L465.72,718.88 L467.34,718.22 L469.33,717.32 L471.56,716.18 L472.48,715.66 L473.67,714.93 L475.22,713.88 L475.77,713.47 L477.61,711.99 L479.70,709.98 L479.99,709.67 L481.51,707.86 L482.10,707.09 L483.10,705.62 L484.20,703.78 L484.48,703.27 L485.69,700.82 L486.31,699.36 L486.74,698.27 L487.66,695.64 L488.42,693.07 L489.15,690.22 L489.76,687.49 L490.29,684.78 L490.53,683.46 L490.75,682.15 L491.16,679.61 L491.51,677.21 L491.81,674.97 L492.08,672.91 L492.31,671.03 L492.52,669.35 L492.64,668.34 L492.85,666.51 L492.98,665.34 L493.10,664.32 L493.20,663.42 L493.29,662.64 L493.37,661.95 L493.44,661.36 L493.55,660.40 L493.63,659.67 L493.70,659.12 L493.77,658.53 L493.83,657.96 L493.90,657.42 L493.97,656.82 L494.03,656.27 L494.10,655.71 L494.21,654.87 L494.30,654.10 L494.43,653.12 L494.51,652.52 L494.60,651.85 L494.70,651.10 L494.82,650.27 L494.95,649.33 L495.11,648.30 L495.28,647.17 L495.49,645.94 L495.72,644.61 L495.99,643.19 L496.29,641.69 L496.64,640.12 L496.85,639.27 L497.05,638.50 L497.51,636.84 L498.04,635.17 L498.65,633.51 L498.96,632.74 L499.34,631.86 L500.14,630.24 L501.06,628.67 L502.11,627.16 L503.17,625.87 L504.70,624.33 L505.28,623.82 L506.29,623.01 L507.39,622.23 L508.10,621.77 L509.50,620.97 L510.19,620.60 L511.61,619.93 L512.58,619.51 L513.71,619.06 L515.32,618.48 L515.82,618.31 L517.93,617.67 L518.47,617.52 L520.04,617.10 L522.08,616.62 L524.25,616.16 L526.21,615.79 L528.47,615.40 L530.58,615.07 L532.68,614.77 L534.79,614.49 L536.40,614.30 L539.01,614.00 L541.11,613.78 L542.64,613.63 L543.22,613.58 L545.33,613.39 L547.44,613.21 L549.55,613.04 L551.65,612.88 L553.76,612.73 L555.87,612.59 L557.98,612.46 L560.08,612.33 L562.19,612.22 L564.30,612.10 L566.41,611.99 L567.41,611.94 L568.52,611.89 L570.62,611.79 L572.73,611.70 L574.84,611.61 L576.95,611.52 L578.20,611.47 L579.05,611.44 L581.16,611.36 L583.27,611.28 L585.38,611.21 L587.48,611.14 L589.59,611.07 L591.70,611.01 L593.81,610.95 L595.92,610.88 L598.02,610.83 L600.13,610.77 L602.24,610.72 L604.35,610.66 L606.45,610.61 L608.56,610.56 L610.67,610.51 L612.78,610.47 L614.89,610.42 L616.99,610.38 L619.10,610.34 L621.21,610.30 L623.32,610.26 L625.42,610.22 L627.53,610.18 L629.64,610.14 L631.75,610.11 L633.86,610.07 L635.96,610.04 L638.07,610.01 L640.18,609.98 L642.29,609.94 L644.39,609.91 L646.50,609.88 L648.61,609.86 L650.72,609.83 L652.83,609.80 L654.93,609.77 L657.04,609.75 L659.15,609.72 L661.26,609.70 L663.36,609.67 L665.47,609.65 L667.58,609.63 L669.69,609.60 L671.80,609.58 L673.90,609.56 L676.01,609.54 L678.12,609.52 L680.23,609.50 L682.33,609.48 L684.44,609.46 L686.55,609.44 L688.66,609.42 L690.77,609.40 L692.87,609.39 L694.98,609.37 L697.09,609.35 L699.20,609.34 L701.30,609.32 L703.41,609.30 L705.52,609.29 L707.63,609.27 L709.74,609.26 L711.84,609.24 L713.95,609.23 L716.06,609.21 L718.17,609.20 L720.27,609.19 L722.38,609.17 L724.49,609.16 L726.60,609.15 L728.71,609.13 L730.81,609.12 L732.92,609.11 L735.03,609.10 L737.14,609.09 L739.24,609.07 L741.35,609.06 L743.46,609.05 L745.57,609.04 L747.68,609.03 L749.78,609.02 L751.89,609.01 L754.00,609.00 L756.11,608.99 L758.21,608.98 L760.32,608.97 L762.43,608.96 L764.54,608.95 L766.65,608.94 L768.75,608.93 L770.86,608.93 L772.97,608.92 L775.08,608.91 L777.18,608.90 L779.29,608.89 L781.40,608.88 L783.51,608.88 L785.62,608.87 L787.72,608.86 L789.83,608.85 L791.94,608.85 L794.05,608.84 L796.15,608.83 L798.26,608.82 L800.37,608.82 L802.48,608.81 L804.59,608.80 L806.69,608.80 L808.80,608.79 L810.91,608.79 L813.02,608.78 L815.12,608.77 L817.23,608.77 L819.34,608.76 L821.45,608.76 L823.56,608.75 L825.66,608.74 L827.77,608.74 L829.88,608.73 L831.99,608.73 L834.09,608.72 L836.20,608.72 L838.31,608.71 L840.42,608.71 L842.53,608.70 L844.63,608.70 L846.74,608.70 L848.85,608.69 L850.96,608.69 L853.06,608.68 L855.17,608.68 L857.28,608.67 L859.39,608.67 L861.49,608.67 L863.60,608.66 L865.71,608.66 L867.82,608.65 L869.93,608.65 L872.03,608.65 L874.14,608.64 L876.25,608.64 L878.36,608.64 L880.46,608.63 L882.57,608.63 L884.68,608.63 L886.79,608.62 L888.90,608.62 L891.00,608.62 L893.11,608.61 L895.22,608.61 L897.33,608.61 L899.43,608.61 L901.54,608.60 L903.65,608.60 L905.76,608.60 L907.87,608.60 L909.97,608.59 L912.08,608.59 L914.19,608.59 L916.30,608.59 L918.40,608.59 L920.51,608.58 L922.62,608.58 L924.73,608.58 L926.84,608.58 L928.94,608.58 L931.05,608.57 L933.16,608.57 L935.27,608.57 L937.37,608.57 L939.48,608.57 L941.59,608.57 L943.70,608.56 L945.81,608.56 L947.91,608.56 L950.02,608.56 L952.13,608.56 L954.24,608.56 L956.34,608.56 L958.45,608.56 L960.56,608.55 L962.67,608.55 L964.78,608.55 L966.88,608.55 L968.99,608.55 L971.10,608.55 L973.21,608.55 L975.31,608.55 L977.42,608.55 L979.53,608.55 L981.64,608.55 L983.75,608.55 L985.85,608.55 L987.96,608.55 L990.07,608.55 L992.18,608.55 L994.28,608.55 L996.39,608.55 L998.50,608.55" stroke="#C04000"/>
<path d="M157.50,737.58 L164.57,737.60 L171.63,737.62 L178.70,737.65 L185.77,737.67 L192.84,737.70 L199.90,737.73 L206.97,737.76 L214.04,737.78 L221.11,737.81 L228.17,737.84 L235.24,737.88 L242.31,737.91 L249.37,737.94 L256.44,737.97 L263.51,738.01 L270.58,738.04 L277.64,738.08 L284.71,738.11 L291.78,738.15 L298.84,738.19 L305.91,738.23 L312.98,738.27 L320.05,738.31 L327.11,738.36 L334.18,738.40 L341.25,738.45 L348.32,738.49 L355.38,738.54 L362.45,738.59 L369.52,738.64 L376.58,738.69 L383.65,738.74 L390.72,738.80 L397.79,738.85 L404.85,738.91 L411.92,738.97 L418.99,739.03 L426.05,739.09 L433.12,739.15 L440.19,739.22 L447.26,739.29 L454.32,739.36 L461.39,739.43 L468.46,739.50 L475.53,739.57 L482.59,739.65 L489.66,739.73 L496.73,739.81 L503.79,739.89 L510.86,739.98 L517.93,740.06 L525.00,740.15 L532.06,740.25 L539.13,740.34 L546.20,740.44 L553.26,740.54 L560.33,740.64 L567.40,740.75 L574.47,740.86 L581.53,740.97 L588.60,741.09 L595.67,741.20 L602.74,741.33 L609.80,741.45 L616.87,741.58 L623.94,741.72 L631.00,741.85 L638.07,741.99 L645.14,742.14 L652.21,742.29 L659.27,742.44 L666.34,742.60 L673.41,742.76 L680.47,742.93 L687.54,743.10 L694.61,743.28 L701.68,743.46 L708.74,743.65 L715.81,743.85 L722.88,744.05 L729.95,744.26 L737.01,744.47 L744.08,744.69 L751.15,744.92 L758.21,745.15 L765.28,745.39 L772.35,745.64 L779.42,745.90 L786.48,746.16 L793.55,746.44 L800.62,746.72 L807.68,747.01 L814.75,747.31 L821.82,747.62 L828.89,747.94 L835.95,748.28 L843.02,748.62 L850.09,748.97 L857.16,749.34 L864.22,749.72 L871.29,750.11 L878.36,750.52 L885.42,750.94 L892.49,751.37 L899.56,751.82 L906.63,752.29 L913.69,752.77 L920.76,753.27 L927.83,753.78 L934.89,754.32 L941.96,754.87 L949.03,755.45 L956.10,756.04 L963.16,756.66 L970.23,757.30 L977.30,757.97 L984.37,758.66 L991.43,759.37 L998.50,760.12" stroke="#C04000" stroke-dasharray="5.3,6.6"/>
<path d="M157.50,607.52 L159.61,607.52 L161.72,607.52 L163.82,607.52 L165.93,607.52 L168.04,607.52 L170.15,607.52 L172.25,607.52 L174.36,607.52 L176.47,607.52 L178.58,607.52 L180.69,607.52 L182.79,607.52 L184.90,607.52 L187.01,607.52 L189.12,607.52 L191.22,607.52 L193.33,607.52 L195.44,607.52 L197.55,607.52 L199.66,607.52 L201.76,607.52 L203.87,607.52 L205.98,607.52 L208.09,607.52 L210.19,607.52 L212.30,607.52 L214.41,607.52 L216.52,607.52 L218.63,607.52 L220.73,607.52 L222.84,607.52 L224.95,607.52 L227.06,607.52 L229.16,607.52 L231.27,607.52 L233.38,607.52 L235.49,607.52 L237.60,607.52 L239.70,607.52 L241.81,607.52 L243.92,607.52 L246.03,607.52 L248.13,607.52 L250.24,607.52 L252.35,607.52 L254.46,607.52 L256.57,607.52 L258.67,607.52 L260.78,607.52 L262.89,607.52 L265.00,607.52 L267.10,607.52 L269.21,607.52 L271.32,607.52 L273.43,607.52 L275.54,607.52 L277.64,607.52 L279.75,607.52 L281.86,607.52 L283.97,607.52 L286.07,607.52 L288.18,607.52 L290.29,607.52 L292.40,607.52 L294.51,607.52 L296.61,607.52 L298.72,607.52 L300.83,607.52 L302.94,607.52 L305.04,607.52 L307.15,607.52 L309.26,607.52 L311.37,607.52 L313.47,607.52 L315.58,607.52 L317.69,607.52 L319.80,607.52 L321.91,607.52 L324.01,607.52 L326.12,607.52 L328.23,607.52 L330.34,607.52 L332.44,607.52 L334.55,607.52 L336.66,607.52 L338.77,607.52 L340.88,607.52 L342.98,607.52 L345.09,607.52 L347.20,607.52 L349.31,607.52 L351.41,607.52 L353.52,607.52 L355.63,607.52 L357.74,607.52 L359.85,607.52 L361.95,607.52 L364.06,607.52 L366.17,607.52 L368.28,607.52 L370.38,607.52 L372.49,607.52 L374.60,607.52 L376.71,607.52 L378.82,607.52 L380.92,607.52 L383.03,607.52 L385.14,607.52 L387.25,607.52 L389.35,607.52 L391.46,607.52 L393.57,607.52 L395.68,607.52 L397.79,607.52 L399.89,607.52 L402.00,607.52 L404.11,607.52 L406.22,607.52 L408.32,607.52 L410.43,607.52 L412.54,607.52 L414.65,607.52 L416.76,607.52 L418.86,607.52 L420.97,607.52 L423.08,607.52 L425.19,607.52 L427.29,607.52 L429.40,607.52 L431.51,607.52 L433.62,607.52 L435.73,607.52 L437.83,607.52 L439.94,607.52 L442.05,607.52 L444.16,607.52 L446.26,607.52 L448.37,607.52 L450.48,607.52 L452.59,607.52 L454.70,607.52 L456.80,607.52 L458.91,607.52 L461.02,607.52 L463.13,607.52 L465.23,607.52 L467.34,607.52 L469.45,607.52 L471.56,607.52 L473.67,607.52 L475.77,607.52 L477.88,607.52 L479.99,607.52 L482.10,607.52 L484.20,607.52 L486.31,607.52 L488.42,607.52 L490.53,607.52 L492.64,607.52 L494.74,607.52 L496.85,607.52 L498.96,607.52 L501.07,607.52 L503.17,607.52 L505.28,607.52 L507.39,607.52 L509.50,607.52 L511.61,607.52 L513.71,607.52 L515.82,607.52 L517.93,607.52 L520.04,607.52 L522.14,607.52 L524.25,607.52 L526.36,607.52 L528.47,607.52 L530.58,607.52 L532.68,607.52 L534.79,607.52 L536.90,607.52 L539.01,607.52 L541.11,607.52 L543.22,607.52 L545.33,607.52 L547.44,607.52 L549.55,607.52 L551.65,607.52 L553.76,607.52 L555.87,607.52 L557.98,607.52 L560.08,607.52 L562.19,607.52 L564.30,607.52 L566.41,607.52 L568.52,607.52 L570.62,607.52 L572.73,607.52 L574.84,607.52 L576.95,607.52 L579.05,607.52 L581.16,607.52 L583.27,607.52 L585.38,607.52 L587.48,607.52 L589.59,607.52 L591.70,607.52 L593.81,607.52 L595.92,607.52 L598.02,607.52 L600.13,607.52 L602.24,607.52 L604.35,607.52 L606.45,607.52 L608.56,607.52 L610.67,607.52 L612.78,607.52 L614.89,607.52 L616.99,607.52 L619.10,607.52 L621.21,607.52 L623.32,607.52 L625.42,607.52 L627.53,607.52 L629.64,607.52 L631.75,607.52 L633.86,607.52 L635.96,607.52 L638.07,607.52 L640.18,607.52 L642.29,607.52 L644.39,607.52 L646.50,607.52 L648.61,607.52 L650.72,607.52 L652.83,607.52 L654.93,607.52 L657.04,607.52 L659.15,607.52 L661.26,607.52 L663.36,607.52 L665.47,607.52 L667.58,607.52 L669.69,607.52 L671.80,607.52 L673.90,607.52 L676.01,607.52 L678.12,607.52 L680.23,607.52 L682.33,607.52 L684.44,607.52 L686.55,607.52 L688.66,607.52 L690.77,607.52 L692.87,607.52 L694.98,607.52 L697.09,607.52 L699.20,607.52 L701.30,607.52 L703.41,607.52 L705.52,607.52 L707.63,607.52 L709.74,607.52 L711.84,607.52 L713.95,607.52 L716.06,607.52 L718.17,607.52 L720.27,607.52 L722.38,607.52 L724.49,607.52 L726.60,607.52 L728.71,607.52 L730.81,607.52 L732.92,607.52 L735.03,607.52 L737.14,607.52 L739.24,607.52 L741.35,607.52 L743.46,607.52 L745.57,607.52 L747.68,607.52 L749.78,607.52 L751.89,607.52 L754.00,607.52 L756.11,607.52 L758.21,607.52 L760.32,607.52 L762.43,607.52 L764.54,607.52 L766.65,607.52 L768.75,607.52 L770.86,607.52 L772.97,607.52 L775.08,607.52 L777.18,607.52 L779.29,607.52 L781.40,607.52 L783.51,607.52 L785.62,607.52 L787.72,607.52 L789.83,607.52 L791.94,607.52 L794.05,607.52 L796.15,607.52 L798.26,607.52 L800.37,607.52 L802.48,607.52 L804.59,607.52 L806.69,607.52 L808.80,607.52 L810.91,607.52 L813.02,607.52 L815.12,607.52 L817.23,607.52 L819.34,607.52 L821.45,607.52 L823.56,607.52 L825.66,607.52 L827.77,607.52 L829.88,607.52 L831.99,607.52 L834.09,607.52 L836.20,607.52 L838.31,607.52 L840.42,607.52 L842.53,607.52 L844.63,607.52 L846.74,607.52 L848.85,607.52 L850.96,607.52 L853.06,607.52 L855.17,607.52 L857.28,607.52 L859.39,607.52 L861.49,607.52 L863.60,607.52 L865.71,607.52 L867.82,607.52 L869.93,607.52 L872.03,607.52 L874.14,607.52 L876.25,607.52 L878.36,607.52 L880.46,607.52 L882.57,607.52 L884.68,607.52 L886.79,607.52 L888.90,607.52 L891.00,607.52 L893.11,607.52 L895.22,607.52 L897.33,607.52 L899.43,607.52 L901.54,607.52 L903.65,607.52 L905.76,607.52 L907.87,607.52 L909.97,607.52 L912.08,607.52 L914.19,607.52 L916.30,607.52 L918.40,607.52 L920.51,607.52 L922.62,607.52 L924.73,607.52 L926.84,607.52 L928.94,607.52 L931.05,607.52 L933.16,607.52 L935.27,607.52 L937.37,607.52 L939.48,607.52 L941.59,607.52 L943.70,607.52 L945.81,607.52 L947.91,607.52 L950.02,607.52 L952.13,607.52 L954.24,607.52 L956.34,607.52 L958.45,607.52 L960.56,607.52 L962.67,607.52 L964.78,607.52 L966.88,607.52 L968.99,607.52 L971.10,607.52 L973.21,607.52 L975.31,607.52 L977.42,607.52 L979.53,607.52 L981.64,607.52 L983.75,607.52 L985.85,607.52 L987.96,607.52 L990.07,607.52 L992.18,607.52 L994.28,607.52 L996.39,607.52 L998.50,607.52" stroke="#FF0000"/>
<path d="M157.50,737.58 L164.57,737.58 L171.63,737.58 L178.70,737.58 L185.77,737.58 L192.84,737.58 L199.90,737.58 L206.97,737.58 L214.04,737.58 L221.11,737.58 L228.17,737.58 L235.24,737.58 L242.31,737.58 L249.37,737.58 L256.44,737.58 L263.51,737.58 L270.58,737.58 L277.64,737.58 L284.71,737.58 L291.78,737.58 L298.84,737.58 L305.91,737.58 L312.98,737.58 L320.05,737.58 L327.11,737.58 L334.18,737.58 L341.25,737.58 L348.32,737.58 L355.38,737.58 L362.45,737.58 L369.52,737.58 L376.58,737.58 L383.65,737.58 L390.72,737.58 L397.79,737.58 L404.85,737.58 L411.92,737.58 L418.99,737.58 L426.05,737.58 L433.12,737.58 L440.19,737.58 L447.26,737.58 L454.32,737.58 L461.39,737.58 L468.46,737.58 L475.53,737.58 L482.59,737.58 L489.66,737.58 L496.73,737.58 L503.79,737.58 L510.86,737.58 L517.93,737.58 L525.00,737.58 L532.06,737.58 L539.13,737.58 L546.20,737.58 L553.26,737.58 L560.33,737.58 L567.40,737.58 L574.47,737.58 L581.53,737.58 L588.60,737.58 L595.67,737.58 L602.74,737.58 L609.80,737.58 L616.87,737.58 L623.94,737.58 L631.00,737.58 L638.07,737.58 L645.14,737.58 L652.21,737.58 L659.27,737.58 L666.34,737.58 L673.41,737.58 L680.47,737.58 L687.54,737.58 L694.61,737.58 L701.68,737.58 L708.74,737.58 L715.81,737.58 L722.88,737.58 L729.95,737.58 L737.01,737.58 L744.08,737.58 L751.15,737.58 L758.21,737.58 L765.28,737.58 L772.35,737.58 L779.42,737.58 L786.48,737.58 L793.55,737.58 L800.62,737.58 L807.68,737.58 L814.75,737.58 L821.82,737.58 L828.89,737.58 L835.95,737.58 L843.02,737.58 L850.09,737.58 L857.16,737.58 L864.22,737.58 L871.29,737.58 L878.36,737.58 L885.42,737.58 L892.49,737.58 L899.56,737.58 L906.63,737.58 L913.69,737.58 L920.76,737.58 L927.83,737.58 L934.89,737.58 L941.96,737.58 L949.03,737.58 L956.10,737.58 L963.16,737.58 L970.23,737.58 L977.30,737.58 L984.37,737.58 L991.43,737.58 L998.50,737.58" stroke="#FF0000" stroke-dasharray="5.3,6.6"/>
</g>
<rect x="157.50" y="596.70" width="841.00" height="281.75" fill="none" stroke="#000" stroke-width="1"/>
<text transform="translate(142.4,631.27) scale(0.99,1)" font-size="28.5" text-anchor="end">40</text>
<text transform="translate(142.4,659.45) scale(0.99,1)" font-size="28.5" text-anchor="end">30</text>
<text transform="translate(142.4,687.62) scale(0.99,1)" font-size="28.5" text-anchor="end">20</text>
<text transform="translate(142.4,715.80) scale(0.99,1)" font-size="28.5" text-anchor="end">10</text>
<text transform="translate(142.4,743.98) scale(0.99,1)" font-size="28.5" text-anchor="end">0</text>
<text transform="translate(142.4,772.15) scale(0.99,1)" font-size="28.5" text-anchor="end">-10</text>
<text transform="translate(142.4,800.33) scale(0.99,1)" font-size="28.5" text-anchor="end">-20</text>
<text transform="translate(142.4,828.50) scale(0.99,1)" font-size="28.5" text-anchor="end">-30</text>
<text transform="translate(142.4,856.68) scale(0.99,1)" font-size="28.5" text-anchor="end">-40</text>
<text transform="translate(142.4,884.85) scale(0.99,1)" font-size="28.5" text-anchor="end">-50</text>
</g>
<text x="157.50" y="911" font-size="28.5" text-anchor="middle">0</text>
<text x="325.70" y="911" font-size="28.5" text-anchor="middle">0.1</text>
<text x="493.90" y="911" font-size="28.5" text-anchor="middle">0.2</text>
<text x="662.10" y="911" font-size="28.5" text-anchor="middle">0.3</text>
<text x="830.30" y="911" font-size="28.5" text-anchor="middle">0.4</text>
<text x="998.50" y="911" font-size="28.5" text-anchor="middle">0.5</text>
<text x="577.5" y="951" font-size="36" text-anchor="middle" class="it">ξ</text>
<rect x="232.00" y="134.50" width="187.30" height="51.80" fill="#fff" stroke="#333" stroke-width="1"/><text transform="translate(254.30,169.30) scale(0.932,1)" font-size="36.20" font-style="italic">U</text><path d="M282.30,177.10L294.50,143.70" stroke="#000" stroke-width="1.5"/><text transform="translate(295.40,169.30) scale(1.068,1)" font-size="38.37" font-style="italic">t</text><path d="M319.90,157.40H342.00M319.90,164.10H342.00" stroke="#000" stroke-width="1.40" fill="none"/><text transform="translate(352.47,169.30) scale(1.072,1)" font-size="35.00">0</text><text transform="translate(370.16,169.30) scale(0.900,1)" font-size="35.00">.</text><text transform="translate(378.09,169.30) scale(1.048,1)" font-size="35.00">2</text><rect x="248.00" y="484.30" width="156.00" height="51.70" fill="#fff" stroke="#333" stroke-width="1"/><text transform="translate(267.70,519.50) scale(0.932,1)" font-size="36.20" font-style="italic">U</text><path d="M295.70,527.30L307.90,493.90" stroke="#000" stroke-width="1.5"/><text transform="translate(308.80,519.50) scale(1.068,1)" font-size="38.37" font-style="italic">t</text><path d="M333.30,507.60H355.40M333.30,514.30H355.40" stroke="#000" stroke-width="1.40" fill="none"/><text transform="translate(365.69,519.50) scale(1.036,1)" font-size="35.00">5</text><rect x="240.20" y="796.00" width="171.30" height="52.20" fill="#fff" stroke="#333" stroke-width="1"/><text transform="translate(259.10,831.00) scale(0.932,1)" font-size="36.20" font-style="italic">U</text><path d="M287.10,838.80L299.30,805.40" stroke="#000" stroke-width="1.5"/><text transform="translate(300.20,831.00) scale(1.068,1)" font-size="38.37" font-style="italic">t</text><path d="M324.70,819.10H346.80M324.70,825.80H346.80" stroke="#000" stroke-width="1.40" fill="none"/><text transform="translate(357.09,831.00) scale(1.036,1)" font-size="35.00">5</text><text transform="translate(375.27,831.00) scale(1.072,1)" font-size="35.00">0</text>
<text transform="translate(176.38,224.00) scale(1.140,1)" font-size="32.90" font-style="italic">n</text><path d="M206.00,212.10H228.70M206.00,218.80H228.70" stroke="#000" stroke-width="1.40" fill="none"/><text transform="translate(239.47,224.00) scale(1.072,1)" font-size="35.00">0</text><text transform="translate(257.16,224.00) scale(0.900,1)" font-size="35.00">.</text><text transform="translate(265.09,224.00) scale(1.048,1)" font-size="35.00">2</text><path d="M298.40,217.00H367.80" stroke="#9400D3" stroke-width="2.5" fill="none"/><text transform="translate(176.38,263.00) scale(1.140,1)" font-size="32.90" font-style="italic">n</text><path d="M206.00,251.10H228.70M206.00,257.80H228.70" stroke="#000" stroke-width="1.40" fill="none"/><text transform="translate(239.47,263.00) scale(1.072,1)" font-size="35.00">0</text><text transform="translate(257.16,263.00) scale(0.900,1)" font-size="35.00">.</text><text transform="translate(265.22,263.00) scale(0.996,1)" font-size="35.00">4</text><path d="M298.40,256.00H367.80" stroke="#0000FF" stroke-width="2.5" fill="none"/><text transform="translate(386.38,224.00) scale(1.140,1)" font-size="32.90" font-style="italic">n</text><path d="M416.00,212.10H438.70M416.00,218.80H438.70" stroke="#000" stroke-width="1.40" fill="none"/><text transform="translate(449.47,224.00) scale(1.072,1)" font-size="35.00">0</text><text transform="translate(467.16,224.00) scale(0.900,1)" font-size="35.00">.</text><text transform="translate(474.69,224.00) scale(1.036,1)" font-size="35.00">5</text><path d="M508.40,217.00H577.80" stroke="#006400" stroke-width="2.5" fill="none"/><text transform="translate(386.38,263.00) scale(1.140,1)" font-size="32.90" font-style="italic">n</text><path d="M416.00,251.10H438.70M416.00,257.80H438.70" stroke="#000" stroke-width="1.40" fill="none"/><text transform="translate(449.47,263.00) scale(1.072,1)" font-size="35.00">0</text><text transform="translate(467.16,263.00) scale(0.900,1)" font-size="35.00">.</text><text transform="translate(475.07,263.00) scale(1.016,1)" font-size="35.00">6</text><path d="M508.40,256.00H577.80" stroke="#C8C800" stroke-width="2.5" fill="none"/><text transform="translate(596.38,224.00) scale(1.140,1)" font-size="32.90" font-style="italic">n</text><path d="M626.00,212.10H648.70M626.00,218.80H648.70" stroke="#000" stroke-width="1.40" fill="none"/><text transform="translate(659.47,224.00) scale(1.072,1)" font-size="35.00">0</text><text transform="translate(677.16,224.00) scale(0.900,1)" font-size="35.00">.</text><text transform="translate(685.12,224.00) scale(1.038,1)" font-size="35.00">8</text><path d="M718.40,217.00H787.80" stroke="#C04000" stroke-width="2.5" fill="none"/><text transform="translate(621.78,263.00) scale(1.140,1)" font-size="32.90" font-style="italic">n</text><path d="M651.40,251.10H674.10M651.40,257.80H674.10" stroke="#000" stroke-width="1.40" fill="none"/><text transform="translate(686.04,263.00) scale(0.900,1)" font-size="35.00">1</text><path d="M718.40,256.00H787.80" stroke="#FF0000" stroke-width="2.5" fill="none"/>
<g transform="translate(35.80,208.60) rotate(-90)"><text transform="translate(-1.18,0.00) scale(1.140,1)" font-size="36.20">Δ</text><text transform="translate(26.00,4.30) scale(0.941,1)" font-size="24.40">x</text><text transform="translate(37.45,4.30) scale(1.027,1)" font-size="24.40">c</text><text transform="translate(25.64,-14.85) scale(0.979,1)" font-size="28.76">{</text><text transform="translate(38.81,-17.50) scale(1.131,1)" font-size="24.89" font-style="italic">N</text><text transform="translate(58.92,-17.50) scale(0.900,1)" font-size="24.50">,</text><text transform="translate(62.46,-16.79) scale(1.127,1)" font-size="24.34" font-style="italic">ξ</text><text transform="translate(74.64,-14.85) scale(0.979,1)" font-size="28.76">}</text><path d="M99.60,-25.50 Q83.40,-8.30 99.60,8.90 Q87.20,-8.30 99.60,-25.50 Z" fill="#000" stroke="#000" stroke-width="0.5"/><text transform="translate(102.53,0.30) scale(1.140,1)" font-size="32.90" font-style="italic">n</text><path d="M122.80,-25.50 Q140.40,-8.30 122.80,8.90 Q136.60,-8.30 122.80,-25.50 Z" fill="#000" stroke="#000" stroke-width="0.5"/></g><g transform="translate(82.90,506.10) rotate(-90)"><text transform="translate(-1.18,0.00) scale(1.140,1)" font-size="36.20">Δ</text><text transform="translate(26.00,4.30) scale(0.941,1)" font-size="24.40">x</text><text transform="translate(37.45,4.30) scale(1.027,1)" font-size="24.40">c</text><text transform="translate(25.64,-14.85) scale(0.979,1)" font-size="28.76">{</text><text transform="translate(38.81,-17.50) scale(1.131,1)" font-size="24.89" font-style="italic">N</text><text transform="translate(58.92,-17.50) scale(0.900,1)" font-size="24.50">,</text><text transform="translate(62.46,-16.79) scale(1.127,1)" font-size="24.34" font-style="italic">ξ</text><text transform="translate(74.64,-14.85) scale(0.979,1)" font-size="28.76">}</text><path d="M99.60,-25.50 Q83.40,-8.30 99.60,8.90 Q87.20,-8.30 99.60,-25.50 Z" fill="#000" stroke="#000" stroke-width="0.5"/><text transform="translate(102.53,0.30) scale(1.140,1)" font-size="32.90" font-style="italic">n</text><path d="M122.80,-25.50 Q140.40,-8.30 122.80,8.90 Q136.60,-8.30 122.80,-25.50 Z" fill="#000" stroke="#000" stroke-width="0.5"/></g><g transform="translate(67.20,803.60) rotate(-90)"><text transform="translate(-1.18,0.00) scale(1.140,1)" font-size="36.20">Δ</text><text transform="translate(26.00,4.30) scale(0.941,1)" font-size="24.40">x</text><text transform="translate(37.45,4.30) scale(1.027,1)" font-size="24.40">c</text><text transform="translate(25.64,-14.85) scale(0.979,1)" font-size="28.76">{</text><text transform="translate(38.81,-17.50) scale(1.131,1)" font-size="24.89" font-style="italic">N</text><text transform="translate(58.92,-17.50) scale(0.900,1)" font-size="24.50">,</text><text transform="translate(62.46,-16.79) scale(1.127,1)" font-size="24.34" font-style="italic">ξ</text><text transform="translate(74.64,-14.85) scale(0.979,1)" font-size="28.76">}</text><path d="M99.60,-25.50 Q83.40,-8.30 99.60,8.90 Q87.20,-8.30 99.60,-25.50 Z" fill="#000" stroke="#000" stroke-width="0.5"/><text transform="translate(102.53,0.30) scale(1.140,1)" font-size="32.90" font-style="italic">n</text><path d="M122.80,-25.50 Q140.40,-8.30 122.80,8.90 Q136.60,-8.30 122.80,-25.50 Z" fill="#000" stroke="#000" stroke-width="0.5"/></g>
</svg></body></html>
